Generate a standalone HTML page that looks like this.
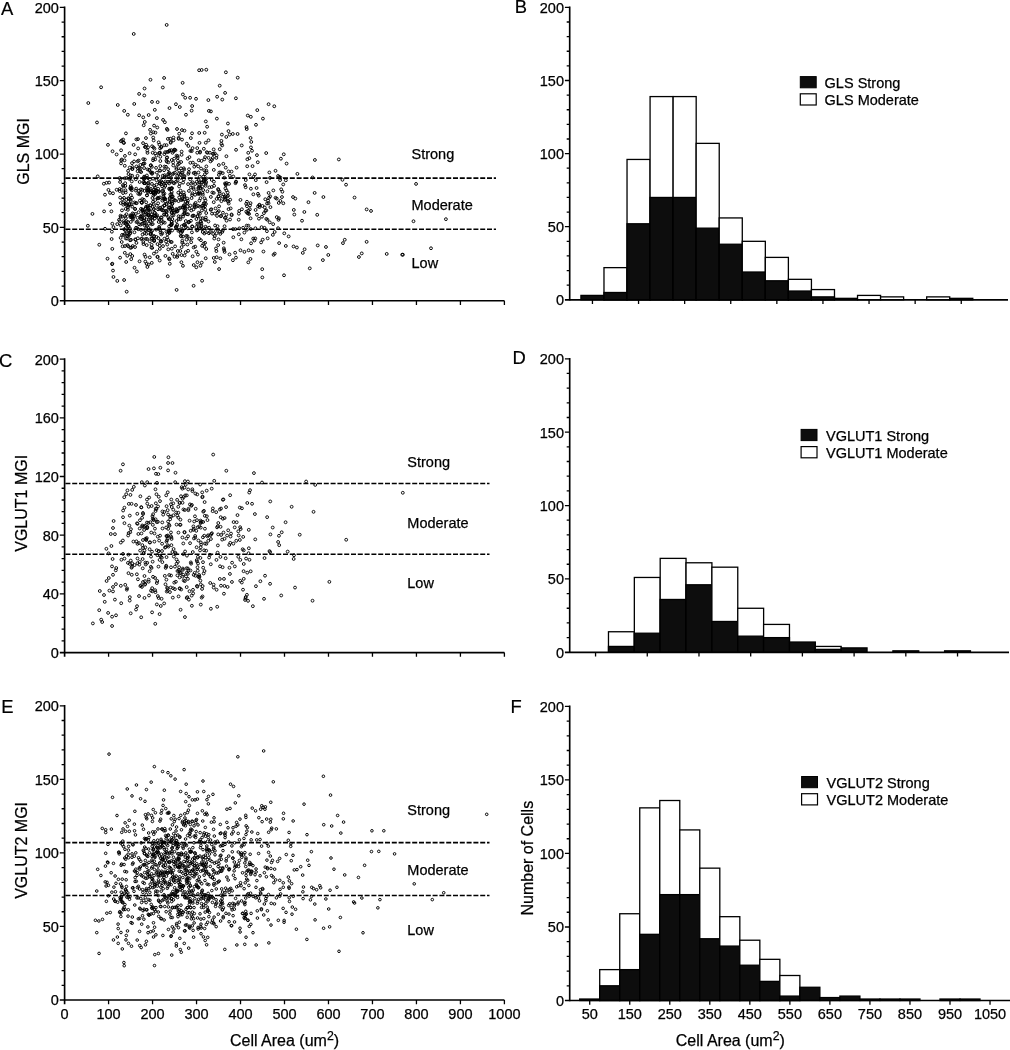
<!DOCTYPE html>
<html lang="en"><head><meta charset="utf-8"><title>Figure</title>
<style>html,body{margin:0;padding:0;background:#fff}body{width:1010px;height:1050px;overflow:hidden}svg{display:block}</style>
</head><body>
<svg width="1010" height="1050" viewBox="0 0 1010 1050" font-family='"Liberation Sans", sans-serif'>
<style>.t{font-size:14.5px;fill:#000;stroke:#000;stroke-width:.25px}.a{font-size:16px;fill:#000;stroke:#000;stroke-width:.25px}.p{font-size:18.4px;fill:#000;stroke:#000;stroke-width:.2px}</style>
<rect width="1010" height="1050" fill="#fff"/>
<g fill="none" stroke="#000" stroke-width="0.95">
<circle cx="184.46" cy="199.17" r="1.42"/>
<circle cx="150.87" cy="188.87" r="1.42"/>
<circle cx="164.16" cy="214.23" r="1.42"/>
<circle cx="158.9" cy="191.6" r="1.42"/>
<circle cx="128.44" cy="236.28" r="1.42"/>
<circle cx="191.71" cy="151.12" r="1.42"/>
<circle cx="267.45" cy="219.79" r="1.42"/>
<circle cx="140.9" cy="218.88" r="1.42"/>
<circle cx="131.2" cy="259.15" r="1.42"/>
<circle cx="204.29" cy="233.48" r="1.42"/>
<circle cx="218.74" cy="211.03" r="1.42"/>
<circle cx="137.6" cy="171.21" r="1.42"/>
<circle cx="159.21" cy="228.88" r="1.42"/>
<circle cx="226.47" cy="214.69" r="1.42"/>
<circle cx="141.72" cy="202.04" r="1.42"/>
<circle cx="213.73" cy="192.94" r="1.42"/>
<circle cx="228.73" cy="203.54" r="1.42"/>
<circle cx="238.82" cy="234.31" r="1.42"/>
<circle cx="205.76" cy="142.73" r="1.42"/>
<circle cx="190.94" cy="220.75" r="1.42"/>
<circle cx="208.91" cy="233.27" r="1.42"/>
<circle cx="148.53" cy="228.01" r="1.42"/>
<circle cx="141.69" cy="202.74" r="1.42"/>
<circle cx="133.5" cy="214" r="1.42"/>
<circle cx="195.03" cy="172.64" r="1.42"/>
<circle cx="215.05" cy="225.49" r="1.42"/>
<circle cx="278.85" cy="218.24" r="1.42"/>
<circle cx="158.35" cy="238.14" r="1.42"/>
<circle cx="150.82" cy="192.23" r="1.42"/>
<circle cx="182.02" cy="139.62" r="1.42"/>
<circle cx="171.64" cy="242.06" r="1.42"/>
<circle cx="148.47" cy="190.41" r="1.42"/>
<circle cx="268.55" cy="203.21" r="1.42"/>
<circle cx="183.74" cy="168.26" r="1.42"/>
<circle cx="130.32" cy="254.1" r="1.42"/>
<circle cx="180.82" cy="194.66" r="1.42"/>
<circle cx="166.83" cy="157.84" r="1.42"/>
<circle cx="160.19" cy="170.74" r="1.42"/>
<circle cx="160.06" cy="207.66" r="1.42"/>
<circle cx="200.8" cy="221.85" r="1.42"/>
<circle cx="162.26" cy="182.55" r="1.42"/>
<circle cx="193.46" cy="209.36" r="1.42"/>
<circle cx="152.64" cy="206.97" r="1.42"/>
<circle cx="257.79" cy="162.24" r="1.42"/>
<circle cx="161.47" cy="219.9" r="1.42"/>
<circle cx="279.27" cy="176.91" r="1.42"/>
<circle cx="221.4" cy="140.86" r="1.42"/>
<circle cx="152.06" cy="216.74" r="1.42"/>
<circle cx="172.08" cy="188.3" r="1.42"/>
<circle cx="223.64" cy="242.67" r="1.42"/>
<circle cx="213.06" cy="154.02" r="1.42"/>
<circle cx="180.57" cy="190.64" r="1.42"/>
<circle cx="198.09" cy="193.85" r="1.42"/>
<circle cx="130.8" cy="201.03" r="1.42"/>
<circle cx="144.51" cy="233.19" r="1.42"/>
<circle cx="153.37" cy="158.68" r="1.42"/>
<circle cx="269.03" cy="197.75" r="1.42"/>
<circle cx="252.01" cy="150.77" r="1.42"/>
<circle cx="132.76" cy="218.17" r="1.42"/>
<circle cx="143.71" cy="125.28" r="1.42"/>
<circle cx="164.3" cy="197.95" r="1.42"/>
<circle cx="128.06" cy="222.13" r="1.42"/>
<circle cx="150.68" cy="172.28" r="1.42"/>
<circle cx="142.04" cy="238.41" r="1.42"/>
<circle cx="140.76" cy="216.69" r="1.42"/>
<circle cx="128.08" cy="170.83" r="1.42"/>
<circle cx="165.36" cy="199.03" r="1.42"/>
<circle cx="122.06" cy="234.91" r="1.42"/>
<circle cx="199.1" cy="184.5" r="1.42"/>
<circle cx="227.66" cy="192.48" r="1.42"/>
<circle cx="120.1" cy="181.99" r="1.42"/>
<circle cx="206.37" cy="166.41" r="1.42"/>
<circle cx="123.23" cy="202.53" r="1.42"/>
<circle cx="174.53" cy="200.2" r="1.42"/>
<circle cx="261.59" cy="227.17" r="1.42"/>
<circle cx="153.89" cy="253.62" r="1.42"/>
<circle cx="162.39" cy="200.65" r="1.42"/>
<circle cx="120.72" cy="225.31" r="1.42"/>
<circle cx="273.57" cy="254.84" r="1.42"/>
<circle cx="186.57" cy="239.62" r="1.42"/>
<circle cx="154.24" cy="239.92" r="1.42"/>
<circle cx="159.7" cy="245.68" r="1.42"/>
<circle cx="225.81" cy="185.18" r="1.42"/>
<circle cx="175.45" cy="150.16" r="1.42"/>
<circle cx="161.63" cy="217.62" r="1.42"/>
<circle cx="130.24" cy="215.37" r="1.42"/>
<circle cx="164.37" cy="238.7" r="1.42"/>
<circle cx="225.41" cy="188.39" r="1.42"/>
<circle cx="129.29" cy="178.95" r="1.42"/>
<circle cx="156.42" cy="180.21" r="1.42"/>
<circle cx="203.86" cy="148.78" r="1.42"/>
<circle cx="229.07" cy="183.84" r="1.42"/>
<circle cx="155.06" cy="215.68" r="1.42"/>
<circle cx="177.62" cy="210.82" r="1.42"/>
<circle cx="170.15" cy="181.64" r="1.42"/>
<circle cx="147.86" cy="205.98" r="1.42"/>
<circle cx="191.68" cy="238.49" r="1.42"/>
<circle cx="153.48" cy="191.95" r="1.42"/>
<circle cx="255.26" cy="238.44" r="1.42"/>
<circle cx="208.62" cy="157.87" r="1.42"/>
<circle cx="179.13" cy="170.59" r="1.42"/>
<circle cx="150.17" cy="220.99" r="1.42"/>
<circle cx="150.81" cy="165.47" r="1.42"/>
<circle cx="197.91" cy="254.6" r="1.42"/>
<circle cx="128.23" cy="205.97" r="1.42"/>
<circle cx="166.45" cy="160.62" r="1.42"/>
<circle cx="183.73" cy="244.42" r="1.42"/>
<circle cx="139.71" cy="194.29" r="1.42"/>
<circle cx="149.51" cy="170.12" r="1.42"/>
<circle cx="194.22" cy="205.89" r="1.42"/>
<circle cx="157.27" cy="127.51" r="1.42"/>
<circle cx="201.45" cy="226.59" r="1.42"/>
<circle cx="203.2" cy="205.83" r="1.42"/>
<circle cx="231.67" cy="215.2" r="1.42"/>
<circle cx="238.74" cy="219.71" r="1.42"/>
<circle cx="158.73" cy="221.95" r="1.42"/>
<circle cx="153.92" cy="208.97" r="1.42"/>
<circle cx="210.52" cy="161.38" r="1.42"/>
<circle cx="164.12" cy="187.67" r="1.42"/>
<circle cx="126.45" cy="214.24" r="1.42"/>
<circle cx="143.48" cy="244.09" r="1.42"/>
<circle cx="192.58" cy="182.3" r="1.42"/>
<circle cx="245.65" cy="187.25" r="1.42"/>
<circle cx="182.72" cy="207.55" r="1.42"/>
<circle cx="173.15" cy="162.43" r="1.42"/>
<circle cx="178.66" cy="138.86" r="1.42"/>
<circle cx="188.42" cy="145.97" r="1.42"/>
<circle cx="273.34" cy="190.45" r="1.42"/>
<circle cx="249.36" cy="158.18" r="1.42"/>
<circle cx="198.19" cy="166.34" r="1.42"/>
<circle cx="143.64" cy="178.2" r="1.42"/>
<circle cx="137.66" cy="161.3" r="1.42"/>
<circle cx="146.27" cy="230.4" r="1.42"/>
<circle cx="121.09" cy="150.28" r="1.42"/>
<circle cx="166.38" cy="203.71" r="1.42"/>
<circle cx="168.1" cy="169.15" r="1.42"/>
<circle cx="152.65" cy="220.02" r="1.42"/>
<circle cx="196.18" cy="206.68" r="1.42"/>
<circle cx="171.65" cy="181.48" r="1.42"/>
<circle cx="207.12" cy="126.74" r="1.42"/>
<circle cx="235.5" cy="183.17" r="1.42"/>
<circle cx="167.52" cy="234.24" r="1.42"/>
<circle cx="190.35" cy="162.79" r="1.42"/>
<circle cx="142.34" cy="199.08" r="1.42"/>
<circle cx="145.14" cy="230.08" r="1.42"/>
<circle cx="193.65" cy="173.03" r="1.42"/>
<circle cx="227.8" cy="200.84" r="1.42"/>
<circle cx="164.38" cy="145.18" r="1.42"/>
<circle cx="217.05" cy="215.93" r="1.42"/>
<circle cx="189.03" cy="222.07" r="1.42"/>
<circle cx="181.95" cy="130.07" r="1.42"/>
<circle cx="173.34" cy="173.5" r="1.42"/>
<circle cx="171.73" cy="191.87" r="1.42"/>
<circle cx="227.13" cy="196.47" r="1.42"/>
<circle cx="144" cy="179.3" r="1.42"/>
<circle cx="160.25" cy="230.17" r="1.42"/>
<circle cx="203.57" cy="243.6" r="1.42"/>
<circle cx="224.6" cy="251.95" r="1.42"/>
<circle cx="259.48" cy="204.72" r="1.42"/>
<circle cx="177.63" cy="157.71" r="1.42"/>
<circle cx="228.06" cy="195.72" r="1.42"/>
<circle cx="169.69" cy="189.45" r="1.42"/>
<circle cx="213.81" cy="169.9" r="1.42"/>
<circle cx="204.54" cy="203.11" r="1.42"/>
<circle cx="169.57" cy="173.78" r="1.42"/>
<circle cx="253.36" cy="194.32" r="1.42"/>
<circle cx="120.36" cy="179.2" r="1.42"/>
<circle cx="148.57" cy="230.13" r="1.42"/>
<circle cx="193.67" cy="189.09" r="1.42"/>
<circle cx="178.69" cy="137.83" r="1.42"/>
<circle cx="202.14" cy="245.84" r="1.42"/>
<circle cx="201.06" cy="168.56" r="1.42"/>
<circle cx="214.85" cy="236" r="1.42"/>
<circle cx="165.97" cy="166.77" r="1.42"/>
<circle cx="165.13" cy="152.2" r="1.42"/>
<circle cx="132.66" cy="246.02" r="1.42"/>
<circle cx="250.9" cy="188.71" r="1.42"/>
<circle cx="156.19" cy="229.61" r="1.42"/>
<circle cx="212.74" cy="158" r="1.42"/>
<circle cx="216.35" cy="157.91" r="1.42"/>
<circle cx="123.01" cy="185.1" r="1.42"/>
<circle cx="140.98" cy="208.93" r="1.42"/>
<circle cx="230.05" cy="219.51" r="1.42"/>
<circle cx="246.93" cy="206.23" r="1.42"/>
<circle cx="149.2" cy="169.83" r="1.42"/>
<circle cx="217.7" cy="212.15" r="1.42"/>
<circle cx="146.2" cy="202.28" r="1.42"/>
<circle cx="187.94" cy="200.65" r="1.42"/>
<circle cx="137.99" cy="139.1" r="1.42"/>
<circle cx="183.08" cy="216.6" r="1.42"/>
<circle cx="250.45" cy="258.95" r="1.42"/>
<circle cx="223.84" cy="248.34" r="1.42"/>
<circle cx="142.42" cy="210.75" r="1.42"/>
<circle cx="168.28" cy="249.36" r="1.42"/>
<circle cx="199.95" cy="213.69" r="1.42"/>
<circle cx="202.23" cy="182.59" r="1.42"/>
<circle cx="205.82" cy="232.22" r="1.42"/>
<circle cx="125.9" cy="223.98" r="1.42"/>
<circle cx="169.11" cy="207.36" r="1.42"/>
<circle cx="226.49" cy="190.35" r="1.42"/>
<circle cx="123.99" cy="222.86" r="1.42"/>
<circle cx="149.65" cy="210.08" r="1.42"/>
<circle cx="124.96" cy="246.05" r="1.42"/>
<circle cx="129.94" cy="228.41" r="1.42"/>
<circle cx="248.43" cy="225.71" r="1.42"/>
<circle cx="190.82" cy="138.09" r="1.42"/>
<circle cx="280.09" cy="180.1" r="1.42"/>
<circle cx="190.21" cy="179.38" r="1.42"/>
<circle cx="188.07" cy="214.36" r="1.42"/>
<circle cx="225.73" cy="167.64" r="1.42"/>
<circle cx="158.15" cy="203.3" r="1.42"/>
<circle cx="192.57" cy="148.15" r="1.42"/>
<circle cx="119.82" cy="221.3" r="1.42"/>
<circle cx="255.8" cy="180.15" r="1.42"/>
<circle cx="183.83" cy="224.94" r="1.42"/>
<circle cx="150.08" cy="216.94" r="1.42"/>
<circle cx="174.13" cy="158.65" r="1.42"/>
<circle cx="124.54" cy="160.35" r="1.42"/>
<circle cx="171.68" cy="211.91" r="1.42"/>
<circle cx="185.33" cy="208.7" r="1.42"/>
<circle cx="266.19" cy="153.06" r="1.42"/>
<circle cx="159.39" cy="208.77" r="1.42"/>
<circle cx="217.53" cy="226.19" r="1.42"/>
<circle cx="162.55" cy="206.88" r="1.42"/>
<circle cx="180.59" cy="194.2" r="1.42"/>
<circle cx="146.81" cy="211.2" r="1.42"/>
<circle cx="168.27" cy="176.56" r="1.42"/>
<circle cx="158.22" cy="176.12" r="1.42"/>
<circle cx="152.08" cy="238.71" r="1.42"/>
<circle cx="163.24" cy="198.96" r="1.42"/>
<circle cx="132.87" cy="216.37" r="1.42"/>
<circle cx="243.15" cy="227.78" r="1.42"/>
<circle cx="160.56" cy="232.42" r="1.42"/>
<circle cx="169.1" cy="172.62" r="1.42"/>
<circle cx="151.96" cy="183.92" r="1.42"/>
<circle cx="144.08" cy="168.04" r="1.42"/>
<circle cx="116.62" cy="154.44" r="1.42"/>
<circle cx="267.01" cy="203.48" r="1.42"/>
<circle cx="178.55" cy="173.99" r="1.42"/>
<circle cx="178.39" cy="230.89" r="1.42"/>
<circle cx="169.61" cy="198.75" r="1.42"/>
<circle cx="207.52" cy="152.84" r="1.42"/>
<circle cx="229.86" cy="175.8" r="1.42"/>
<circle cx="127.52" cy="245.09" r="1.42"/>
<circle cx="161.15" cy="181.11" r="1.42"/>
<circle cx="268.06" cy="200.77" r="1.42"/>
<circle cx="163.18" cy="210.18" r="1.42"/>
<circle cx="205.69" cy="183.88" r="1.42"/>
<circle cx="159.75" cy="183.15" r="1.42"/>
<circle cx="124.81" cy="252.82" r="1.42"/>
<circle cx="181.24" cy="200.03" r="1.42"/>
<circle cx="144.2" cy="223.22" r="1.42"/>
<circle cx="153.83" cy="240.59" r="1.42"/>
<circle cx="151.71" cy="172.91" r="1.42"/>
<circle cx="130.16" cy="188.26" r="1.42"/>
<circle cx="241.72" cy="145.44" r="1.42"/>
<circle cx="213.67" cy="149.42" r="1.42"/>
<circle cx="256.57" cy="187.99" r="1.42"/>
<circle cx="158.06" cy="209.3" r="1.42"/>
<circle cx="184.51" cy="176.04" r="1.42"/>
<circle cx="278.49" cy="219.8" r="1.42"/>
<circle cx="203.71" cy="203.3" r="1.42"/>
<circle cx="228.56" cy="171.44" r="1.42"/>
<circle cx="180.41" cy="174.25" r="1.42"/>
<circle cx="163.12" cy="222.2" r="1.42"/>
<circle cx="152.23" cy="230.65" r="1.42"/>
<circle cx="250" cy="205.45" r="1.42"/>
<circle cx="181.77" cy="172.87" r="1.42"/>
<circle cx="220.84" cy="172.52" r="1.42"/>
<circle cx="183.06" cy="236.53" r="1.42"/>
<circle cx="198.33" cy="188.3" r="1.42"/>
<circle cx="186.94" cy="214.2" r="1.42"/>
<circle cx="144.58" cy="190.9" r="1.42"/>
<circle cx="152.21" cy="217.9" r="1.42"/>
<circle cx="155.18" cy="200.04" r="1.42"/>
<circle cx="196.21" cy="227.06" r="1.42"/>
<circle cx="134.55" cy="202.46" r="1.42"/>
<circle cx="176.16" cy="181.54" r="1.42"/>
<circle cx="251.28" cy="141.93" r="1.42"/>
<circle cx="154.27" cy="185.95" r="1.42"/>
<circle cx="197.26" cy="152.71" r="1.42"/>
<circle cx="121.84" cy="140.38" r="1.42"/>
<circle cx="261.1" cy="242.4" r="1.42"/>
<circle cx="187.38" cy="202.75" r="1.42"/>
<circle cx="206.3" cy="170.58" r="1.42"/>
<circle cx="246.88" cy="229.74" r="1.42"/>
<circle cx="192.62" cy="256.3" r="1.42"/>
<circle cx="171.08" cy="177.98" r="1.42"/>
<circle cx="249.86" cy="209.27" r="1.42"/>
<circle cx="175.3" cy="200.53" r="1.42"/>
<circle cx="131.75" cy="181.42" r="1.42"/>
<circle cx="177.61" cy="156.08" r="1.42"/>
<circle cx="204.33" cy="159.31" r="1.42"/>
<circle cx="116.63" cy="189.74" r="1.42"/>
<circle cx="222.68" cy="196.68" r="1.42"/>
<circle cx="204.63" cy="198.38" r="1.42"/>
<circle cx="131.82" cy="188.13" r="1.42"/>
<circle cx="167.14" cy="157.42" r="1.42"/>
<circle cx="142.14" cy="219.33" r="1.42"/>
<circle cx="151.19" cy="231.77" r="1.42"/>
<circle cx="171.29" cy="225.01" r="1.42"/>
<circle cx="204.95" cy="174.16" r="1.42"/>
<circle cx="148.27" cy="185.5" r="1.42"/>
<circle cx="193.84" cy="215.63" r="1.42"/>
<circle cx="184.57" cy="206.81" r="1.42"/>
<circle cx="166.89" cy="128.88" r="1.42"/>
<circle cx="143.07" cy="143.12" r="1.42"/>
<circle cx="205.5" cy="179.6" r="1.42"/>
<circle cx="130.47" cy="175.39" r="1.42"/>
<circle cx="192.93" cy="215.67" r="1.42"/>
<circle cx="153.73" cy="203.86" r="1.42"/>
<circle cx="151.86" cy="214.51" r="1.42"/>
<circle cx="226.42" cy="156.25" r="1.42"/>
<circle cx="121.58" cy="189.88" r="1.42"/>
<circle cx="202.85" cy="194.7" r="1.42"/>
<circle cx="135.73" cy="213.89" r="1.42"/>
<circle cx="123.07" cy="193.04" r="1.42"/>
<circle cx="124.78" cy="165.79" r="1.42"/>
<circle cx="150.08" cy="129.83" r="1.42"/>
<circle cx="180.39" cy="219.26" r="1.42"/>
<circle cx="176.23" cy="227.77" r="1.42"/>
<circle cx="150.44" cy="211.75" r="1.42"/>
<circle cx="187.84" cy="228.38" r="1.42"/>
<circle cx="128.2" cy="246.22" r="1.42"/>
<circle cx="175.77" cy="226.88" r="1.42"/>
<circle cx="201.42" cy="182.56" r="1.42"/>
<circle cx="203.89" cy="179.92" r="1.42"/>
<circle cx="184.51" cy="213.01" r="1.42"/>
<circle cx="152.25" cy="247.91" r="1.42"/>
<circle cx="177.8" cy="251" r="1.42"/>
<circle cx="173.46" cy="137.57" r="1.42"/>
<circle cx="135.16" cy="154.34" r="1.42"/>
<circle cx="173.52" cy="140.34" r="1.42"/>
<circle cx="209.12" cy="227.68" r="1.42"/>
<circle cx="160.34" cy="161.03" r="1.42"/>
<circle cx="152.03" cy="173.8" r="1.42"/>
<circle cx="147.33" cy="207.16" r="1.42"/>
<circle cx="192.85" cy="162.61" r="1.42"/>
<circle cx="233.02" cy="229.11" r="1.42"/>
<circle cx="176.58" cy="155.68" r="1.42"/>
<circle cx="159.68" cy="181.26" r="1.42"/>
<circle cx="138.68" cy="160.56" r="1.42"/>
<circle cx="185.48" cy="210.22" r="1.42"/>
<circle cx="211.74" cy="186.99" r="1.42"/>
<circle cx="140.86" cy="189.42" r="1.42"/>
<circle cx="200.43" cy="188.35" r="1.42"/>
<circle cx="270.03" cy="177.9" r="1.42"/>
<circle cx="246.48" cy="127.05" r="1.42"/>
<circle cx="182.89" cy="207.44" r="1.42"/>
<circle cx="187.39" cy="244.52" r="1.42"/>
<circle cx="125.19" cy="183.2" r="1.42"/>
<circle cx="173.57" cy="212.21" r="1.42"/>
<circle cx="119.69" cy="177.94" r="1.42"/>
<circle cx="134.07" cy="161.46" r="1.42"/>
<circle cx="140.09" cy="171.47" r="1.42"/>
<circle cx="176.69" cy="226.31" r="1.42"/>
<circle cx="156.34" cy="155.64" r="1.42"/>
<circle cx="168.69" cy="207.75" r="1.42"/>
<circle cx="141.67" cy="215.65" r="1.42"/>
<circle cx="192.09" cy="195.11" r="1.42"/>
<circle cx="132.48" cy="168.91" r="1.42"/>
<circle cx="213.74" cy="257.93" r="1.42"/>
<circle cx="144.07" cy="183.22" r="1.42"/>
<circle cx="185.7" cy="252.2" r="1.42"/>
<circle cx="205.92" cy="203.92" r="1.42"/>
<circle cx="166.72" cy="211.94" r="1.42"/>
<circle cx="200.14" cy="151.66" r="1.42"/>
<circle cx="280.9" cy="158.69" r="1.42"/>
<circle cx="141.02" cy="229.87" r="1.42"/>
<circle cx="120.73" cy="203.03" r="1.42"/>
<circle cx="210.86" cy="196.95" r="1.42"/>
<circle cx="152.08" cy="146.31" r="1.42"/>
<circle cx="125.23" cy="230.16" r="1.42"/>
<circle cx="164.73" cy="222.72" r="1.42"/>
<circle cx="184.23" cy="194.84" r="1.42"/>
<circle cx="199.45" cy="182.04" r="1.42"/>
<circle cx="169.95" cy="197.77" r="1.42"/>
<circle cx="146.73" cy="214.59" r="1.42"/>
<circle cx="182.1" cy="198.48" r="1.42"/>
<circle cx="198.93" cy="228.18" r="1.42"/>
<circle cx="168.36" cy="231.03" r="1.42"/>
<circle cx="251.07" cy="243.3" r="1.42"/>
<circle cx="217.24" cy="229.47" r="1.42"/>
<circle cx="224.59" cy="197.22" r="1.42"/>
<circle cx="198.73" cy="193.28" r="1.42"/>
<circle cx="276.76" cy="217.14" r="1.42"/>
<circle cx="148.11" cy="190.34" r="1.42"/>
<circle cx="153.34" cy="132.17" r="1.42"/>
<circle cx="149.79" cy="257.33" r="1.42"/>
<circle cx="159.2" cy="226.83" r="1.42"/>
<circle cx="188.45" cy="222.41" r="1.42"/>
<circle cx="146.73" cy="245.08" r="1.42"/>
<circle cx="139.7" cy="181.99" r="1.42"/>
<circle cx="201.33" cy="223.33" r="1.42"/>
<circle cx="129.05" cy="230.68" r="1.42"/>
<circle cx="209.93" cy="232.06" r="1.42"/>
<circle cx="151.52" cy="238" r="1.42"/>
<circle cx="174.31" cy="149.64" r="1.42"/>
<circle cx="181.62" cy="151.59" r="1.42"/>
<circle cx="130.33" cy="217.01" r="1.42"/>
<circle cx="162.79" cy="175.69" r="1.42"/>
<circle cx="182.15" cy="231.64" r="1.42"/>
<circle cx="161.17" cy="147.11" r="1.42"/>
<circle cx="122.59" cy="246.3" r="1.42"/>
<circle cx="171.74" cy="159.99" r="1.42"/>
<circle cx="184.49" cy="196.8" r="1.42"/>
<circle cx="189.51" cy="238.87" r="1.42"/>
<circle cx="211.77" cy="179.91" r="1.42"/>
<circle cx="177.51" cy="180.5" r="1.42"/>
<circle cx="183.75" cy="192.36" r="1.42"/>
<circle cx="265.47" cy="210.86" r="1.42"/>
<circle cx="229.69" cy="134.58" r="1.42"/>
<circle cx="218.16" cy="245.09" r="1.42"/>
<circle cx="136.01" cy="227.81" r="1.42"/>
<circle cx="152.6" cy="172.73" r="1.42"/>
<circle cx="214.82" cy="153.41" r="1.42"/>
<circle cx="222.81" cy="230.33" r="1.42"/>
<circle cx="166.85" cy="161.66" r="1.42"/>
<circle cx="162.08" cy="191.04" r="1.42"/>
<circle cx="266.27" cy="210.33" r="1.42"/>
<circle cx="143.85" cy="199.75" r="1.42"/>
<circle cx="200.3" cy="187.84" r="1.42"/>
<circle cx="177.02" cy="128.99" r="1.42"/>
<circle cx="157.57" cy="256.72" r="1.42"/>
<circle cx="211.87" cy="159.97" r="1.42"/>
<circle cx="198.79" cy="160.26" r="1.42"/>
<circle cx="130.25" cy="178.11" r="1.42"/>
<circle cx="120.64" cy="216.9" r="1.42"/>
<circle cx="169.17" cy="232.84" r="1.42"/>
<circle cx="180.52" cy="216.69" r="1.42"/>
<circle cx="184.51" cy="207.34" r="1.42"/>
<circle cx="206.79" cy="152.21" r="1.42"/>
<circle cx="171.5" cy="188.12" r="1.42"/>
<circle cx="152.68" cy="152.79" r="1.42"/>
<circle cx="137.84" cy="238.28" r="1.42"/>
<circle cx="171.85" cy="221.73" r="1.42"/>
<circle cx="248.32" cy="210.48" r="1.42"/>
<circle cx="146.18" cy="144.77" r="1.42"/>
<circle cx="168.6" cy="231.79" r="1.42"/>
<circle cx="155.71" cy="192.34" r="1.42"/>
<circle cx="221.38" cy="143.8" r="1.42"/>
<circle cx="136.42" cy="242.89" r="1.42"/>
<circle cx="198.8" cy="180.19" r="1.42"/>
<circle cx="144.53" cy="254.58" r="1.42"/>
<circle cx="165.49" cy="181.49" r="1.42"/>
<circle cx="139.08" cy="224.32" r="1.42"/>
<circle cx="165.25" cy="185.96" r="1.42"/>
<circle cx="222.33" cy="231.86" r="1.42"/>
<circle cx="126.66" cy="203.27" r="1.42"/>
<circle cx="194.71" cy="207.23" r="1.42"/>
<circle cx="168.42" cy="151.86" r="1.42"/>
<circle cx="253.22" cy="238.58" r="1.42"/>
<circle cx="183.31" cy="214.36" r="1.42"/>
<circle cx="153.65" cy="209.14" r="1.42"/>
<circle cx="126.28" cy="199.81" r="1.42"/>
<circle cx="197.35" cy="216.3" r="1.42"/>
<circle cx="181.23" cy="236.4" r="1.42"/>
<circle cx="129.08" cy="204.19" r="1.42"/>
<circle cx="160.13" cy="152.71" r="1.42"/>
<circle cx="172.06" cy="215.56" r="1.42"/>
<circle cx="205.59" cy="226.75" r="1.42"/>
<circle cx="176.46" cy="167.43" r="1.42"/>
<circle cx="241.9" cy="209.24" r="1.42"/>
<circle cx="155.43" cy="132.67" r="1.42"/>
<circle cx="262.48" cy="205.95" r="1.42"/>
<circle cx="180.94" cy="233.03" r="1.42"/>
<circle cx="233.32" cy="237.26" r="1.42"/>
<circle cx="216.6" cy="155.39" r="1.42"/>
<circle cx="127.31" cy="255.77" r="1.42"/>
<circle cx="160.12" cy="148.39" r="1.42"/>
<circle cx="155.18" cy="215.73" r="1.42"/>
<circle cx="169.09" cy="226.41" r="1.42"/>
<circle cx="222.95" cy="212.71" r="1.42"/>
<circle cx="123.36" cy="186.32" r="1.42"/>
<circle cx="197.24" cy="223.64" r="1.42"/>
<circle cx="196.33" cy="251.72" r="1.42"/>
<circle cx="139.9" cy="200.6" r="1.42"/>
<circle cx="154.55" cy="212.73" r="1.42"/>
<circle cx="153.57" cy="147.46" r="1.42"/>
<circle cx="171.56" cy="222" r="1.42"/>
<circle cx="125.71" cy="238.37" r="1.42"/>
<circle cx="182.43" cy="230.62" r="1.42"/>
<circle cx="178.58" cy="216.27" r="1.42"/>
<circle cx="145.68" cy="147.12" r="1.42"/>
<circle cx="145.72" cy="208.08" r="1.42"/>
<circle cx="152.46" cy="198.01" r="1.42"/>
<circle cx="206.27" cy="178.45" r="1.42"/>
<circle cx="193.3" cy="187.54" r="1.42"/>
<circle cx="172.82" cy="196.59" r="1.42"/>
<circle cx="127.91" cy="209.81" r="1.42"/>
<circle cx="195.21" cy="246.63" r="1.42"/>
<circle cx="153.09" cy="178.66" r="1.42"/>
<circle cx="267.66" cy="238.34" r="1.42"/>
<circle cx="121.73" cy="242.01" r="1.42"/>
<circle cx="216.57" cy="233.21" r="1.42"/>
<circle cx="180.67" cy="235.82" r="1.42"/>
<circle cx="218.85" cy="165.07" r="1.42"/>
<circle cx="188.11" cy="250.79" r="1.42"/>
<circle cx="219.9" cy="231.87" r="1.42"/>
<circle cx="119.02" cy="219.88" r="1.42"/>
<circle cx="184.17" cy="205.19" r="1.42"/>
<circle cx="203.59" cy="180.98" r="1.42"/>
<circle cx="258.72" cy="195.61" r="1.42"/>
<circle cx="264.52" cy="227.82" r="1.42"/>
<circle cx="185.82" cy="221.05" r="1.42"/>
<circle cx="190.4" cy="150.91" r="1.42"/>
<circle cx="125.66" cy="208.91" r="1.42"/>
<circle cx="148.74" cy="219.76" r="1.42"/>
<circle cx="177.93" cy="160.76" r="1.42"/>
<circle cx="219.08" cy="206.36" r="1.42"/>
<circle cx="165.4" cy="255.91" r="1.42"/>
<circle cx="252.53" cy="251.16" r="1.42"/>
<circle cx="222.73" cy="173.11" r="1.42"/>
<circle cx="150.77" cy="133.54" r="1.42"/>
<circle cx="209.36" cy="187.3" r="1.42"/>
<circle cx="132.19" cy="175.75" r="1.42"/>
<circle cx="184.82" cy="224.36" r="1.42"/>
<circle cx="120.17" cy="197.56" r="1.42"/>
<circle cx="124.02" cy="142.87" r="1.42"/>
<circle cx="162.29" cy="233.25" r="1.42"/>
<circle cx="147.55" cy="169.43" r="1.42"/>
<circle cx="177.2" cy="211.44" r="1.42"/>
<circle cx="146.7" cy="188.34" r="1.42"/>
<circle cx="203.27" cy="207.73" r="1.42"/>
<circle cx="151.65" cy="224.3" r="1.42"/>
<circle cx="174.53" cy="256.74" r="1.42"/>
<circle cx="125.58" cy="222.69" r="1.42"/>
<circle cx="159.27" cy="153.05" r="1.42"/>
<circle cx="179.81" cy="183.72" r="1.42"/>
<circle cx="124.69" cy="178.31" r="1.42"/>
<circle cx="147.31" cy="150.64" r="1.42"/>
<circle cx="128.52" cy="174.09" r="1.42"/>
<circle cx="184.45" cy="130.66" r="1.42"/>
<circle cx="130.69" cy="186.13" r="1.42"/>
<circle cx="160.91" cy="217.41" r="1.42"/>
<circle cx="145.04" cy="183.28" r="1.42"/>
<circle cx="123.5" cy="142.78" r="1.42"/>
<circle cx="216.01" cy="248.43" r="1.42"/>
<circle cx="194.62" cy="204.3" r="1.42"/>
<circle cx="178.54" cy="201.09" r="1.42"/>
<circle cx="171.49" cy="194.05" r="1.42"/>
<circle cx="148.16" cy="208.26" r="1.42"/>
<circle cx="122.25" cy="216.64" r="1.42"/>
<circle cx="148.06" cy="183.5" r="1.42"/>
<circle cx="247" cy="201.74" r="1.42"/>
<circle cx="159.69" cy="260.53" r="1.42"/>
<circle cx="153.21" cy="137.54" r="1.42"/>
<circle cx="199.21" cy="238.76" r="1.42"/>
<circle cx="151.41" cy="247.59" r="1.42"/>
<circle cx="199.21" cy="132.96" r="1.42"/>
<circle cx="159.95" cy="197.4" r="1.42"/>
<circle cx="204.54" cy="246.74" r="1.42"/>
<circle cx="199.63" cy="193.91" r="1.42"/>
<circle cx="256.93" cy="214.73" r="1.42"/>
<circle cx="159.57" cy="219.8" r="1.42"/>
<circle cx="146.92" cy="195.38" r="1.42"/>
<circle cx="127.97" cy="207.59" r="1.42"/>
<circle cx="248.24" cy="152.82" r="1.42"/>
<circle cx="170.65" cy="209.64" r="1.42"/>
<circle cx="198.35" cy="224.26" r="1.42"/>
<circle cx="218.11" cy="189.04" r="1.42"/>
<circle cx="126.58" cy="221.43" r="1.42"/>
<circle cx="148.25" cy="182.66" r="1.42"/>
<circle cx="160.3" cy="156.76" r="1.42"/>
<circle cx="171.28" cy="225.2" r="1.42"/>
<circle cx="171.39" cy="206.35" r="1.42"/>
<circle cx="199.39" cy="200.64" r="1.42"/>
<circle cx="194.25" cy="166.72" r="1.42"/>
<circle cx="123.33" cy="204.69" r="1.42"/>
<circle cx="120.86" cy="141.23" r="1.42"/>
<circle cx="142.59" cy="234.39" r="1.42"/>
<circle cx="249.43" cy="174.38" r="1.42"/>
<circle cx="144.17" cy="220.62" r="1.42"/>
<circle cx="187.16" cy="203.27" r="1.42"/>
<circle cx="253.4" cy="176.95" r="1.42"/>
<circle cx="129.59" cy="153.27" r="1.42"/>
<circle cx="216.4" cy="251.11" r="1.42"/>
<circle cx="185.11" cy="225.39" r="1.42"/>
<circle cx="215.55" cy="208.42" r="1.42"/>
<circle cx="149.99" cy="179.55" r="1.42"/>
<circle cx="124.05" cy="197.89" r="1.42"/>
<circle cx="181.6" cy="154.82" r="1.42"/>
<circle cx="155.2" cy="159.33" r="1.42"/>
<circle cx="189.43" cy="157.13" r="1.42"/>
<circle cx="202.12" cy="229.08" r="1.42"/>
<circle cx="144.48" cy="163.47" r="1.42"/>
<circle cx="121.21" cy="160.47" r="1.42"/>
<circle cx="168.29" cy="217.31" r="1.42"/>
<circle cx="159.27" cy="153.08" r="1.42"/>
<circle cx="179.03" cy="163.59" r="1.42"/>
<circle cx="228.25" cy="201.71" r="1.42"/>
<circle cx="154.08" cy="125.61" r="1.42"/>
<circle cx="219.29" cy="198.7" r="1.42"/>
<circle cx="156.36" cy="216.47" r="1.42"/>
<circle cx="190.34" cy="205.6" r="1.42"/>
<circle cx="268.62" cy="192.93" r="1.42"/>
<circle cx="143.45" cy="211.64" r="1.42"/>
<circle cx="163.3" cy="194.06" r="1.42"/>
<circle cx="196.87" cy="230.48" r="1.42"/>
<circle cx="169.12" cy="188.64" r="1.42"/>
<circle cx="226.55" cy="220.67" r="1.42"/>
<circle cx="166.44" cy="214.66" r="1.42"/>
<circle cx="247.35" cy="159.26" r="1.42"/>
<circle cx="142.47" cy="209.92" r="1.42"/>
<circle cx="119.68" cy="189.02" r="1.42"/>
<circle cx="156.81" cy="205.77" r="1.42"/>
<circle cx="187.39" cy="198.69" r="1.42"/>
<circle cx="129.83" cy="233.6" r="1.42"/>
<circle cx="204.67" cy="132.79" r="1.42"/>
<circle cx="154.01" cy="194.09" r="1.42"/>
<circle cx="240.48" cy="199.9" r="1.42"/>
<circle cx="231.55" cy="214.44" r="1.42"/>
<circle cx="148.05" cy="147.33" r="1.42"/>
<circle cx="176.16" cy="209.2" r="1.42"/>
<circle cx="155.94" cy="190.29" r="1.42"/>
<circle cx="142.55" cy="209.44" r="1.42"/>
<circle cx="266.61" cy="182.13" r="1.42"/>
<circle cx="200.1" cy="228.28" r="1.42"/>
<circle cx="173.49" cy="215.22" r="1.42"/>
<circle cx="165.9" cy="210.99" r="1.42"/>
<circle cx="172.88" cy="210.74" r="1.42"/>
<circle cx="225.35" cy="199.03" r="1.42"/>
<circle cx="164.79" cy="176.87" r="1.42"/>
<circle cx="189.02" cy="169.22" r="1.42"/>
<circle cx="176.78" cy="209.71" r="1.42"/>
<circle cx="235.14" cy="252.74" r="1.42"/>
<circle cx="170.74" cy="141.89" r="1.42"/>
<circle cx="170.28" cy="194.44" r="1.42"/>
<circle cx="184.49" cy="213.84" r="1.42"/>
<circle cx="147" cy="239" r="1.42"/>
<circle cx="202.62" cy="218.2" r="1.42"/>
<circle cx="230.2" cy="199.68" r="1.42"/>
<circle cx="186.29" cy="235.89" r="1.42"/>
<circle cx="218.55" cy="239.4" r="1.42"/>
<circle cx="119.72" cy="191.05" r="1.42"/>
<circle cx="181.6" cy="247.12" r="1.42"/>
<circle cx="167.25" cy="244.59" r="1.42"/>
<circle cx="136.2" cy="188.62" r="1.42"/>
<circle cx="148.77" cy="223.71" r="1.42"/>
<circle cx="162.48" cy="210.35" r="1.42"/>
<circle cx="159.42" cy="144.62" r="1.42"/>
<circle cx="173.63" cy="151.4" r="1.42"/>
<circle cx="187.48" cy="206.38" r="1.42"/>
<circle cx="179.55" cy="229.76" r="1.42"/>
<circle cx="164.24" cy="205.26" r="1.42"/>
<circle cx="129.74" cy="167.54" r="1.42"/>
<circle cx="247.21" cy="166.25" r="1.42"/>
<circle cx="195.17" cy="184.02" r="1.42"/>
<circle cx="126.25" cy="204.87" r="1.42"/>
<circle cx="213.13" cy="233.96" r="1.42"/>
<circle cx="174.56" cy="212.6" r="1.42"/>
<circle cx="139.28" cy="167.68" r="1.42"/>
<circle cx="128.36" cy="226.55" r="1.42"/>
<circle cx="125.48" cy="190.22" r="1.42"/>
<circle cx="156.56" cy="251.61" r="1.42"/>
<circle cx="161.42" cy="241.44" r="1.42"/>
<circle cx="172.36" cy="174.37" r="1.42"/>
<circle cx="163.18" cy="190.98" r="1.42"/>
<circle cx="131.76" cy="190.29" r="1.42"/>
<circle cx="169.74" cy="150.42" r="1.42"/>
<circle cx="225.71" cy="184.23" r="1.42"/>
<circle cx="131.56" cy="247.41" r="1.42"/>
<circle cx="244.38" cy="232.59" r="1.42"/>
<circle cx="169.9" cy="202.09" r="1.42"/>
<circle cx="198.64" cy="187.65" r="1.42"/>
<circle cx="168.26" cy="174.03" r="1.42"/>
<circle cx="223.32" cy="163.81" r="1.42"/>
<circle cx="138.28" cy="193.77" r="1.42"/>
<circle cx="166.45" cy="231.5" r="1.42"/>
<circle cx="135.21" cy="209.08" r="1.42"/>
<circle cx="228.51" cy="131.09" r="1.42"/>
<circle cx="256.95" cy="155.13" r="1.42"/>
<circle cx="213.27" cy="230.71" r="1.42"/>
<circle cx="126.83" cy="233.49" r="1.42"/>
<circle cx="204.97" cy="219.65" r="1.42"/>
<circle cx="132.07" cy="197.79" r="1.42"/>
<circle cx="137.15" cy="228.22" r="1.42"/>
<circle cx="258.94" cy="218.67" r="1.42"/>
<circle cx="273.16" cy="224.15" r="1.42"/>
<circle cx="137.52" cy="175.82" r="1.42"/>
<circle cx="164.42" cy="193.58" r="1.42"/>
<circle cx="269.76" cy="222.36" r="1.42"/>
<circle cx="263.44" cy="251.53" r="1.42"/>
<circle cx="138.9" cy="190.85" r="1.42"/>
<circle cx="259.32" cy="205.21" r="1.42"/>
<circle cx="122.39" cy="199.22" r="1.42"/>
<circle cx="222.2" cy="145.42" r="1.42"/>
<circle cx="224.56" cy="226.25" r="1.42"/>
<circle cx="140.53" cy="168.45" r="1.42"/>
<circle cx="159.6" cy="170.27" r="1.42"/>
<circle cx="250.59" cy="218.34" r="1.42"/>
<circle cx="157.54" cy="257.09" r="1.42"/>
<circle cx="162.13" cy="186.38" r="1.42"/>
<circle cx="126.66" cy="177.95" r="1.42"/>
<circle cx="266.91" cy="231.2" r="1.42"/>
<circle cx="191.33" cy="183.58" r="1.42"/>
<circle cx="144.83" cy="159.44" r="1.42"/>
<circle cx="154.03" cy="189.87" r="1.42"/>
<circle cx="272.85" cy="234.87" r="1.42"/>
<circle cx="189.56" cy="208.6" r="1.42"/>
<circle cx="127.35" cy="235.89" r="1.42"/>
<circle cx="218.69" cy="196.4" r="1.42"/>
<circle cx="224.94" cy="183.48" r="1.42"/>
<circle cx="146.9" cy="225.99" r="1.42"/>
<circle cx="142.31" cy="189.9" r="1.42"/>
<circle cx="164.32" cy="154.15" r="1.42"/>
<circle cx="131" cy="239.84" r="1.42"/>
<circle cx="213.91" cy="181.72" r="1.42"/>
<circle cx="170.69" cy="142.78" r="1.42"/>
<circle cx="173.3" cy="165.47" r="1.42"/>
<circle cx="226.58" cy="183.03" r="1.42"/>
<circle cx="155.55" cy="191.14" r="1.42"/>
<circle cx="150.58" cy="205.59" r="1.42"/>
<circle cx="123.47" cy="221.23" r="1.42"/>
<circle cx="199.42" cy="186.32" r="1.42"/>
<circle cx="171.7" cy="201.74" r="1.42"/>
<circle cx="145.36" cy="177.19" r="1.42"/>
<circle cx="174.73" cy="149.9" r="1.42"/>
<circle cx="128.49" cy="230.23" r="1.42"/>
<circle cx="150.75" cy="192.23" r="1.42"/>
<circle cx="128.5" cy="225.97" r="1.42"/>
<circle cx="130.89" cy="215.78" r="1.42"/>
<circle cx="199.82" cy="206.67" r="1.42"/>
<circle cx="188.36" cy="173.87" r="1.42"/>
<circle cx="264.75" cy="207.46" r="1.42"/>
<circle cx="188.97" cy="221.78" r="1.42"/>
<circle cx="183.82" cy="179.58" r="1.42"/>
<circle cx="130.8" cy="221.91" r="1.42"/>
<circle cx="200.04" cy="152.54" r="1.42"/>
<circle cx="136.51" cy="222.1" r="1.42"/>
<circle cx="175.11" cy="246.37" r="1.42"/>
<circle cx="224.31" cy="177.67" r="1.42"/>
<circle cx="147.81" cy="178.12" r="1.42"/>
<circle cx="168.75" cy="219.04" r="1.42"/>
<circle cx="182.26" cy="242.73" r="1.42"/>
<circle cx="146.58" cy="219.54" r="1.42"/>
<circle cx="188.09" cy="184.11" r="1.42"/>
<circle cx="193.63" cy="247.45" r="1.42"/>
<circle cx="225.71" cy="217.49" r="1.42"/>
<circle cx="184.16" cy="169.54" r="1.42"/>
<circle cx="196.82" cy="191.59" r="1.42"/>
<circle cx="161.4" cy="147.02" r="1.42"/>
<circle cx="132.6" cy="213.33" r="1.42"/>
<circle cx="125.31" cy="185.92" r="1.42"/>
<circle cx="132.01" cy="163.15" r="1.42"/>
<circle cx="183.58" cy="205.81" r="1.42"/>
<circle cx="259.57" cy="207.08" r="1.42"/>
<circle cx="153.61" cy="215.71" r="1.42"/>
<circle cx="133.61" cy="144.92" r="1.42"/>
<circle cx="205.49" cy="200.36" r="1.42"/>
<circle cx="216.61" cy="198.92" r="1.42"/>
<circle cx="129.73" cy="204.25" r="1.42"/>
<circle cx="170.27" cy="138.68" r="1.42"/>
<circle cx="182.43" cy="199.61" r="1.42"/>
<circle cx="120.64" cy="237.84" r="1.42"/>
<circle cx="171.57" cy="212.86" r="1.42"/>
<circle cx="238.86" cy="213.68" r="1.42"/>
<circle cx="206.72" cy="172.49" r="1.42"/>
<circle cx="141.89" cy="202.8" r="1.42"/>
<circle cx="161.34" cy="234.43" r="1.42"/>
<circle cx="214.69" cy="213.55" r="1.42"/>
<circle cx="151.02" cy="233.76" r="1.42"/>
<circle cx="236.03" cy="181.57" r="1.42"/>
<circle cx="150.27" cy="234.04" r="1.42"/>
<circle cx="261.98" cy="216.69" r="1.42"/>
<circle cx="163" cy="246.08" r="1.42"/>
<circle cx="136.71" cy="203.18" r="1.42"/>
<circle cx="125.12" cy="203.77" r="1.42"/>
<circle cx="211.32" cy="209.21" r="1.42"/>
<circle cx="239.33" cy="228.39" r="1.42"/>
<circle cx="145.96" cy="138.06" r="1.42"/>
<circle cx="250.72" cy="228.99" r="1.42"/>
<circle cx="135.58" cy="239.85" r="1.42"/>
<circle cx="172.2" cy="230.46" r="1.42"/>
<circle cx="145.53" cy="256.85" r="1.42"/>
<circle cx="174.24" cy="183.27" r="1.42"/>
<circle cx="166.31" cy="214.73" r="1.42"/>
<circle cx="195.65" cy="164.76" r="1.42"/>
<circle cx="177.63" cy="255.22" r="1.42"/>
<circle cx="252.54" cy="166.14" r="1.42"/>
<circle cx="155.22" cy="153.37" r="1.42"/>
<circle cx="235.95" cy="181.93" r="1.42"/>
<circle cx="276.75" cy="198.6" r="1.42"/>
<circle cx="145.59" cy="238.94" r="1.42"/>
<circle cx="168.12" cy="181.8" r="1.42"/>
<circle cx="185.53" cy="201.95" r="1.42"/>
<circle cx="146.11" cy="206.58" r="1.42"/>
<circle cx="205.28" cy="209.72" r="1.42"/>
<circle cx="148.56" cy="214.84" r="1.42"/>
<circle cx="157.63" cy="197.84" r="1.42"/>
<circle cx="196.83" cy="181.66" r="1.42"/>
<circle cx="248.1" cy="213.52" r="1.42"/>
<circle cx="221.16" cy="215.88" r="1.42"/>
<circle cx="270.15" cy="196.39" r="1.42"/>
<circle cx="180.95" cy="168.4" r="1.42"/>
<circle cx="141.15" cy="172.05" r="1.42"/>
<circle cx="200.5" cy="198.16" r="1.42"/>
<circle cx="148.08" cy="214.56" r="1.42"/>
<circle cx="120.54" cy="215.68" r="1.42"/>
<circle cx="158.71" cy="198.12" r="1.42"/>
<circle cx="163.47" cy="196.18" r="1.42"/>
<circle cx="255.41" cy="228.29" r="1.42"/>
<circle cx="131.47" cy="204.64" r="1.42"/>
<circle cx="169.06" cy="258.49" r="1.42"/>
<circle cx="230.65" cy="208.41" r="1.42"/>
<circle cx="200.93" cy="240.19" r="1.42"/>
<circle cx="167.88" cy="138.89" r="1.42"/>
<circle cx="148.27" cy="188.8" r="1.42"/>
<circle cx="178.6" cy="219.04" r="1.42"/>
<circle cx="141.33" cy="239.06" r="1.42"/>
<circle cx="199.76" cy="176.72" r="1.42"/>
<circle cx="197.69" cy="216.1" r="1.42"/>
<circle cx="283.34" cy="203.25" r="1.42"/>
<circle cx="198.62" cy="212.78" r="1.42"/>
<circle cx="143.61" cy="163.6" r="1.42"/>
<circle cx="144.72" cy="183" r="1.42"/>
<circle cx="204.27" cy="181.29" r="1.42"/>
<circle cx="170.81" cy="241.86" r="1.42"/>
<circle cx="154.97" cy="187.6" r="1.42"/>
<circle cx="158.71" cy="142.37" r="1.42"/>
<circle cx="172.49" cy="208.85" r="1.42"/>
<circle cx="181.52" cy="255.08" r="1.42"/>
<circle cx="145.03" cy="225.87" r="1.42"/>
<circle cx="219.74" cy="149.23" r="1.42"/>
<circle cx="177.18" cy="224.8" r="1.42"/>
<circle cx="265.28" cy="199.26" r="1.42"/>
<circle cx="123.73" cy="235.25" r="1.42"/>
<circle cx="200.55" cy="221.4" r="1.42"/>
<circle cx="221.89" cy="134.58" r="1.42"/>
<circle cx="143.4" cy="182.1" r="1.42"/>
<circle cx="184.54" cy="210.88" r="1.42"/>
<circle cx="132.12" cy="216.53" r="1.42"/>
<circle cx="150.77" cy="234.09" r="1.42"/>
<circle cx="184.3" cy="196.1" r="1.42"/>
<circle cx="147.54" cy="187.49" r="1.42"/>
<circle cx="132.17" cy="206.63" r="1.42"/>
<circle cx="127.05" cy="225.09" r="1.42"/>
<circle cx="147.03" cy="195.22" r="1.42"/>
<circle cx="206.21" cy="213.05" r="1.42"/>
<circle cx="180.32" cy="251" r="1.42"/>
<circle cx="218.9" cy="174.89" r="1.42"/>
<circle cx="164.41" cy="166.56" r="1.42"/>
<circle cx="147.98" cy="191.88" r="1.42"/>
<circle cx="132.29" cy="169" r="1.42"/>
<circle cx="236.06" cy="149.84" r="1.42"/>
<circle cx="179.19" cy="133.74" r="1.42"/>
<circle cx="153.64" cy="140.42" r="1.42"/>
<circle cx="137.51" cy="221.78" r="1.42"/>
<circle cx="205.81" cy="217.5" r="1.42"/>
<circle cx="220.75" cy="216.23" r="1.42"/>
<circle cx="142.31" cy="216.6" r="1.42"/>
<circle cx="180.45" cy="207.81" r="1.42"/>
<circle cx="246.7" cy="225.61" r="1.42"/>
<circle cx="239.21" cy="210.9" r="1.42"/>
<circle cx="120.09" cy="257.65" r="1.42"/>
<circle cx="165.87" cy="183.31" r="1.42"/>
<circle cx="257.97" cy="193.82" r="1.42"/>
<circle cx="218.39" cy="190.02" r="1.42"/>
<circle cx="199.5" cy="142.88" r="1.42"/>
<circle cx="149.47" cy="230.36" r="1.42"/>
<circle cx="164.09" cy="170.22" r="1.42"/>
<circle cx="232.81" cy="133.96" r="1.42"/>
<circle cx="183.49" cy="176.19" r="1.42"/>
<circle cx="147.15" cy="190.63" r="1.42"/>
<circle cx="131.85" cy="216.22" r="1.42"/>
<circle cx="167.49" cy="129.94" r="1.42"/>
<circle cx="138.15" cy="148.42" r="1.42"/>
<circle cx="129.99" cy="199.53" r="1.42"/>
<circle cx="202.59" cy="192.98" r="1.42"/>
<circle cx="136.47" cy="166.45" r="1.42"/>
<circle cx="205.06" cy="242.86" r="1.42"/>
<circle cx="177.2" cy="256.93" r="1.42"/>
<circle cx="220.28" cy="233.85" r="1.42"/>
<circle cx="169.46" cy="259.36" r="1.42"/>
<circle cx="171.75" cy="197.22" r="1.42"/>
<circle cx="172.19" cy="203.97" r="1.42"/>
<circle cx="142.06" cy="223.8" r="1.42"/>
<circle cx="135.81" cy="190.53" r="1.42"/>
<circle cx="164.13" cy="183.7" r="1.42"/>
<circle cx="170.08" cy="207.96" r="1.42"/>
<circle cx="130.58" cy="230.63" r="1.42"/>
<circle cx="229.49" cy="254.41" r="1.42"/>
<circle cx="220.33" cy="258.35" r="1.42"/>
<circle cx="168.14" cy="239.94" r="1.42"/>
<circle cx="172.69" cy="253.82" r="1.42"/>
<circle cx="248.63" cy="250.31" r="1.42"/>
<circle cx="140.63" cy="224.6" r="1.42"/>
<circle cx="202.2" cy="186.45" r="1.42"/>
<circle cx="156.88" cy="172.67" r="1.42"/>
<circle cx="191.91" cy="232.33" r="1.42"/>
<circle cx="244.41" cy="251.84" r="1.42"/>
<circle cx="210.72" cy="209.86" r="1.42"/>
<circle cx="151.63" cy="244.79" r="1.42"/>
<circle cx="171.94" cy="196.37" r="1.42"/>
<circle cx="132.97" cy="219.5" r="1.42"/>
<circle cx="177.2" cy="175.88" r="1.42"/>
<circle cx="157.04" cy="190.81" r="1.42"/>
<circle cx="147.5" cy="152.85" r="1.42"/>
<circle cx="153.04" cy="160.3" r="1.42"/>
<circle cx="128.34" cy="198.19" r="1.42"/>
<circle cx="151.86" cy="166.84" r="1.42"/>
<circle cx="197.23" cy="148.1" r="1.42"/>
<circle cx="164.28" cy="205.75" r="1.42"/>
<circle cx="226.3" cy="136.93" r="1.42"/>
<circle cx="195.48" cy="174.19" r="1.42"/>
<circle cx="278.78" cy="202.93" r="1.42"/>
<circle cx="208.54" cy="140.32" r="1.42"/>
<circle cx="188.79" cy="172.29" r="1.42"/>
<circle cx="145.26" cy="222.48" r="1.42"/>
<circle cx="130.36" cy="233.07" r="1.42"/>
<circle cx="152.8" cy="192.82" r="1.42"/>
<circle cx="154.21" cy="241.04" r="1.42"/>
<circle cx="195.1" cy="194.79" r="1.42"/>
<circle cx="179.08" cy="208.32" r="1.42"/>
<circle cx="166.07" cy="241.65" r="1.42"/>
<circle cx="206.53" cy="228.36" r="1.42"/>
<circle cx="173.34" cy="199.61" r="1.42"/>
<circle cx="154.49" cy="148.71" r="1.42"/>
<circle cx="179.11" cy="186.48" r="1.42"/>
<circle cx="167.13" cy="151.98" r="1.42"/>
<circle cx="191.58" cy="198.1" r="1.42"/>
<circle cx="206.27" cy="248.94" r="1.42"/>
<circle cx="153.43" cy="195.59" r="1.42"/>
<circle cx="154.95" cy="212.97" r="1.42"/>
<circle cx="219.34" cy="172.51" r="1.42"/>
<circle cx="125.71" cy="192.47" r="1.42"/>
<circle cx="160.72" cy="241.66" r="1.42"/>
<circle cx="183.09" cy="182.61" r="1.42"/>
<circle cx="160.76" cy="240.75" r="1.42"/>
<circle cx="135.79" cy="179.27" r="1.42"/>
<circle cx="130.77" cy="195.1" r="1.42"/>
<circle cx="165.42" cy="201.61" r="1.42"/>
<circle cx="250.53" cy="203.13" r="1.42"/>
<circle cx="176.47" cy="221.05" r="1.42"/>
<circle cx="172.3" cy="219.06" r="1.42"/>
<circle cx="187.5" cy="236.21" r="1.42"/>
<circle cx="254.46" cy="240.48" r="1.42"/>
<circle cx="156.52" cy="184.64" r="1.42"/>
<circle cx="164.61" cy="175.2" r="1.42"/>
<circle cx="131.52" cy="217.43" r="1.42"/>
<circle cx="205.05" cy="157.17" r="1.42"/>
<circle cx="156.08" cy="167.87" r="1.42"/>
<circle cx="274.74" cy="253.62" r="1.42"/>
<circle cx="171.41" cy="150.17" r="1.42"/>
<circle cx="249.07" cy="213.9" r="1.42"/>
<circle cx="124.12" cy="229.4" r="1.42"/>
<circle cx="235.4" cy="229.09" r="1.42"/>
<circle cx="138.58" cy="212.23" r="1.42"/>
<circle cx="138.28" cy="229.23" r="1.42"/>
<circle cx="121.01" cy="163.38" r="1.42"/>
<circle cx="233.27" cy="176.49" r="1.42"/>
<circle cx="135.81" cy="203.08" r="1.42"/>
<circle cx="280.38" cy="200.98" r="1.42"/>
<circle cx="192.2" cy="226.3" r="1.42"/>
<circle cx="198.09" cy="205.89" r="1.42"/>
<circle cx="143.24" cy="212.62" r="1.42"/>
<circle cx="225.24" cy="196.32" r="1.42"/>
<circle cx="205.69" cy="258.31" r="1.42"/>
<circle cx="166.55" cy="145.15" r="1.42"/>
<circle cx="203.25" cy="176.71" r="1.42"/>
<circle cx="224.14" cy="250.03" r="1.42"/>
<circle cx="152.99" cy="201.83" r="1.42"/>
<circle cx="211.99" cy="213.61" r="1.42"/>
<circle cx="232.92" cy="260.24" r="1.42"/>
<circle cx="148.28" cy="209.97" r="1.42"/>
<circle cx="202.77" cy="232.05" r="1.42"/>
<circle cx="140.5" cy="216.46" r="1.42"/>
<circle cx="154.12" cy="236.01" r="1.42"/>
<circle cx="154.1" cy="236.53" r="1.42"/>
<circle cx="150.83" cy="165.22" r="1.42"/>
<circle cx="168.34" cy="162.37" r="1.42"/>
<circle cx="154.71" cy="218.56" r="1.42"/>
<circle cx="144.94" cy="146.96" r="1.42"/>
<circle cx="205.88" cy="219.71" r="1.42"/>
<circle cx="130.87" cy="189.16" r="1.42"/>
<circle cx="171.77" cy="248.72" r="1.42"/>
<circle cx="231.54" cy="171.63" r="1.42"/>
<circle cx="255.02" cy="174.42" r="1.42"/>
<circle cx="157.53" cy="244.1" r="1.42"/>
<circle cx="155.31" cy="193.98" r="1.42"/>
<circle cx="219.55" cy="191.56" r="1.42"/>
<circle cx="143.07" cy="163.93" r="1.42"/>
<circle cx="140.41" cy="193.02" r="1.42"/>
<circle cx="171.95" cy="208.1" r="1.42"/>
<circle cx="144.05" cy="176.65" r="1.42"/>
<circle cx="173.46" cy="182.83" r="1.42"/>
<circle cx="245.78" cy="180.06" r="1.42"/>
<circle cx="197.68" cy="229.82" r="1.42"/>
<circle cx="214.25" cy="238.53" r="1.42"/>
<circle cx="188.95" cy="190.93" r="1.42"/>
<circle cx="158.27" cy="192.09" r="1.42"/>
<circle cx="213.21" cy="153.64" r="1.42"/>
<circle cx="274.66" cy="231.98" r="1.42"/>
<circle cx="169.41" cy="230.67" r="1.42"/>
<circle cx="134.34" cy="216.15" r="1.42"/>
<circle cx="246.75" cy="129.07" r="1.42"/>
<circle cx="206.14" cy="182.14" r="1.42"/>
<circle cx="132.67" cy="167.2" r="1.42"/>
<circle cx="205.55" cy="185.82" r="1.42"/>
<circle cx="148.58" cy="215.6" r="1.42"/>
<circle cx="257.97" cy="206.5" r="1.42"/>
<circle cx="159.32" cy="227.94" r="1.42"/>
<circle cx="246.29" cy="211.73" r="1.42"/>
<circle cx="250.93" cy="147.38" r="1.42"/>
<circle cx="131.06" cy="187.96" r="1.42"/>
<circle cx="135.05" cy="247.04" r="1.42"/>
<circle cx="209.84" cy="152.71" r="1.42"/>
<circle cx="159.44" cy="183.49" r="1.42"/>
<circle cx="224.88" cy="217.92" r="1.42"/>
<circle cx="282.39" cy="191.73" r="1.42"/>
<circle cx="174.87" cy="172.67" r="1.42"/>
<circle cx="178.28" cy="192.68" r="1.42"/>
<circle cx="201.54" cy="160.9" r="1.42"/>
<circle cx="153.51" cy="192.59" r="1.42"/>
<circle cx="121.79" cy="159.5" r="1.42"/>
<circle cx="136.4" cy="139.42" r="1.42"/>
<circle cx="166.75" cy="177.12" r="1.42"/>
<circle cx="241.37" cy="239.31" r="1.42"/>
<circle cx="117.21" cy="224.14" r="1.42"/>
<circle cx="192.04" cy="133.32" r="1.42"/>
<circle cx="172" cy="223.99" r="1.42"/>
<circle cx="250.55" cy="137.95" r="1.42"/>
<circle cx="190.89" cy="187.54" r="1.42"/>
<circle cx="270.41" cy="207.14" r="1.42"/>
<circle cx="191.16" cy="242.21" r="1.42"/>
<circle cx="156.39" cy="236.91" r="1.42"/>
<circle cx="143.63" cy="220.19" r="1.42"/>
<circle cx="164.55" cy="198.81" r="1.42"/>
<circle cx="208.44" cy="221.51" r="1.42"/>
<circle cx="184.6" cy="255.48" r="1.42"/>
<circle cx="212.32" cy="192.5" r="1.42"/>
<circle cx="187.64" cy="158.64" r="1.42"/>
<circle cx="157.95" cy="198.36" r="1.42"/>
<circle cx="179.2" cy="197.38" r="1.42"/>
<circle cx="213.75" cy="202.18" r="1.42"/>
<circle cx="166.64" cy="204.39" r="1.42"/>
<circle cx="124.93" cy="233.94" r="1.42"/>
<circle cx="137.5" cy="217.88" r="1.42"/>
<circle cx="169.37" cy="201.69" r="1.42"/>
<circle cx="198.45" cy="172.51" r="1.42"/>
<circle cx="228.55" cy="209.14" r="1.42"/>
<circle cx="196.39" cy="219.04" r="1.42"/>
<circle cx="177.97" cy="164.53" r="1.42"/>
<circle cx="200.69" cy="218.3" r="1.42"/>
<circle cx="182.33" cy="240.79" r="1.42"/>
<circle cx="191.29" cy="210.47" r="1.42"/>
<circle cx="235.94" cy="257.62" r="1.42"/>
<circle cx="161.16" cy="184.27" r="1.42"/>
<circle cx="223.39" cy="194.26" r="1.42"/>
<circle cx="143.21" cy="159.13" r="1.42"/>
<circle cx="192.42" cy="216.12" r="1.42"/>
<circle cx="169.81" cy="219.07" r="1.42"/>
<circle cx="240.47" cy="250.31" r="1.42"/>
<circle cx="224.7" cy="199.91" r="1.42"/>
<circle cx="245" cy="185.11" r="1.42"/>
<circle cx="144.4" cy="178.34" r="1.42"/>
<circle cx="170.69" cy="188.97" r="1.42"/>
<circle cx="207.39" cy="191.24" r="1.42"/>
<circle cx="160.28" cy="166.12" r="1.42"/>
<circle cx="128.98" cy="234.67" r="1.42"/>
<circle cx="176.4" cy="168.98" r="1.42"/>
<circle cx="170.65" cy="224.94" r="1.42"/>
<circle cx="247.24" cy="212.91" r="1.42"/>
<circle cx="146.85" cy="175.5" r="1.42"/>
<circle cx="219.76" cy="193.45" r="1.42"/>
<circle cx="203.19" cy="190.04" r="1.42"/>
<circle cx="266.35" cy="218.92" r="1.42"/>
<circle cx="148.69" cy="215.12" r="1.42"/>
<circle cx="124.95" cy="155.91" r="1.42"/>
<circle cx="180.76" cy="177.83" r="1.42"/>
<circle cx="167.19" cy="237.55" r="1.42"/>
<circle cx="166.57" cy="210.79" r="1.42"/>
<circle cx="145.37" cy="211.78" r="1.42"/>
<circle cx="149.76" cy="241.31" r="1.42"/>
<circle cx="143.34" cy="242.08" r="1.42"/>
<circle cx="145.22" cy="214.72" r="1.42"/>
<circle cx="172.43" cy="203.53" r="1.42"/>
<circle cx="169.27" cy="150.99" r="1.42"/>
<circle cx="127" cy="238.55" r="1.42"/>
<circle cx="201.5" cy="225.49" r="1.42"/>
<circle cx="199.28" cy="192.28" r="1.42"/>
<circle cx="185.93" cy="227.15" r="1.42"/>
<circle cx="130.1" cy="240.25" r="1.42"/>
<circle cx="181.11" cy="162.01" r="1.42"/>
<circle cx="216.67" cy="257.28" r="1.42"/>
<circle cx="221.41" cy="201.16" r="1.42"/>
<circle cx="192.18" cy="226.78" r="1.42"/>
<circle cx="157.11" cy="215.3" r="1.42"/>
<circle cx="204.99" cy="206.23" r="1.42"/>
<circle cx="218.4" cy="196.41" r="1.42"/>
<circle cx="158.46" cy="218.12" r="1.42"/>
<circle cx="150.87" cy="190.4" r="1.42"/>
<circle cx="181.65" cy="226.31" r="1.42"/>
<circle cx="125.75" cy="228.11" r="1.42"/>
<circle cx="204.21" cy="170.17" r="1.42"/>
<circle cx="146.33" cy="233.85" r="1.42"/>
<circle cx="159.82" cy="248.92" r="1.42"/>
<circle cx="237.58" cy="133.97" r="1.42"/>
<circle cx="169.16" cy="183.43" r="1.42"/>
<circle cx="246.16" cy="203.83" r="1.42"/>
<circle cx="172.53" cy="152.78" r="1.42"/>
<circle cx="125.95" cy="133.38" r="1.42"/>
<circle cx="169.49" cy="232.63" r="1.42"/>
<circle cx="150.12" cy="205.19" r="1.42"/>
<circle cx="186.76" cy="143.71" r="1.42"/>
<circle cx="236.58" cy="167.67" r="1.42"/>
<circle cx="263.91" cy="213.13" r="1.42"/>
<circle cx="140.32" cy="164.94" r="1.42"/>
<circle cx="161.54" cy="223.52" r="1.42"/>
<circle cx="125.88" cy="218.09" r="1.42"/>
<circle cx="135.23" cy="239.34" r="1.42"/>
<circle cx="158.18" cy="188.8" r="1.42"/>
<circle cx="201.83" cy="210.5" r="1.42"/>
<circle cx="214.08" cy="185.82" r="1.42"/>
<circle cx="134.92" cy="208.81" r="1.42"/>
<circle cx="164.23" cy="214.75" r="1.42"/>
<circle cx="269.36" cy="172.47" r="1.42"/>
<circle cx="161.52" cy="209.75" r="1.42"/>
<circle cx="128.68" cy="198.78" r="1.42"/>
<circle cx="280.4" cy="177.58" r="1.42"/>
<circle cx="134.45" cy="232.27" r="1.42"/>
<circle cx="123.19" cy="139.54" r="1.42"/>
<circle cx="179.75" cy="230.2" r="1.42"/>
<circle cx="192.34" cy="193.28" r="1.42"/>
<circle cx="144.3" cy="218.03" r="1.42"/>
<circle cx="125.18" cy="215.94" r="1.42"/>
<circle cx="130.45" cy="247.89" r="1.42"/>
<circle cx="171.22" cy="188.54" r="1.42"/>
<circle cx="182.5" cy="172.64" r="1.42"/>
<circle cx="121.97" cy="210.39" r="1.42"/>
<circle cx="152.7" cy="224.03" r="1.42"/>
<circle cx="176.59" cy="211.37" r="1.42"/>
<circle cx="137.84" cy="168.24" r="1.42"/>
<circle cx="195.57" cy="202.9" r="1.42"/>
<circle cx="255.62" cy="209.96" r="1.42"/>
<circle cx="132.22" cy="255.95" r="1.42"/>
<circle cx="153.81" cy="192.58" r="1.42"/>
<circle cx="262.72" cy="239.67" r="1.42"/>
<circle cx="201.99" cy="205.96" r="1.42"/>
<circle cx="182.37" cy="230.36" r="1.42"/>
<circle cx="283.76" cy="154.31" r="1.42"/>
<circle cx="286.59" cy="163.58" r="1.42"/>
<circle cx="275.52" cy="170.79" r="1.42"/>
<circle cx="278.1" cy="175.93" r="1.42"/>
<circle cx="297.4" cy="173.87" r="1.42"/>
<circle cx="314.9" cy="159.97" r="1.42"/>
<circle cx="338.84" cy="159.46" r="1.42"/>
<circle cx="312.59" cy="177.48" r="1.42"/>
<circle cx="342.45" cy="179.79" r="1.42"/>
<circle cx="346.05" cy="184.68" r="1.42"/>
<circle cx="285.82" cy="180.31" r="1.42"/>
<circle cx="283.24" cy="184.43" r="1.42"/>
<circle cx="281.18" cy="189.32" r="1.42"/>
<circle cx="281.96" cy="197.04" r="1.42"/>
<circle cx="275.52" cy="197.81" r="1.42"/>
<circle cx="293.02" cy="197.04" r="1.42"/>
<circle cx="295.34" cy="198.58" r="1.42"/>
<circle cx="314.65" cy="192.92" r="1.42"/>
<circle cx="323.4" cy="197.04" r="1.42"/>
<circle cx="354.54" cy="197.55" r="1.42"/>
<circle cx="308.47" cy="202.19" r="1.42"/>
<circle cx="293.8" cy="209.91" r="1.42"/>
<circle cx="294.31" cy="214.54" r="1.42"/>
<circle cx="304.35" cy="211.97" r="1.42"/>
<circle cx="317.22" cy="214.8" r="1.42"/>
<circle cx="302.03" cy="220.72" r="1.42"/>
<circle cx="366.64" cy="209.4" r="1.42"/>
<circle cx="371.02" cy="210.94" r="1.42"/>
<circle cx="416.06" cy="183.91" r="1.42"/>
<circle cx="413.49" cy="221.24" r="1.42"/>
<circle cx="445.92" cy="219.18" r="1.42"/>
<circle cx="278.1" cy="228.19" r="1.42"/>
<circle cx="284.27" cy="233.33" r="1.42"/>
<circle cx="288.65" cy="236.42" r="1.42"/>
<circle cx="279.12" cy="243.11" r="1.42"/>
<circle cx="285.82" cy="245.95" r="1.42"/>
<circle cx="293.54" cy="246.46" r="1.42"/>
<circle cx="296.89" cy="247.49" r="1.42"/>
<circle cx="304.61" cy="249.29" r="1.42"/>
<circle cx="302.81" cy="252.9" r="1.42"/>
<circle cx="317.73" cy="245.43" r="1.42"/>
<circle cx="325.97" cy="246.98" r="1.42"/>
<circle cx="328.29" cy="254.95" r="1.42"/>
<circle cx="322.88" cy="260.1" r="1.42"/>
<circle cx="309.76" cy="268.34" r="1.42"/>
<circle cx="284.02" cy="275.29" r="1.42"/>
<circle cx="344.76" cy="239.77" r="1.42"/>
<circle cx="342.96" cy="243.11" r="1.42"/>
<circle cx="366.64" cy="241.83" r="1.42"/>
<circle cx="361.75" cy="253.41" r="1.42"/>
<circle cx="358.92" cy="257.01" r="1.42"/>
<circle cx="386.72" cy="253.93" r="1.42"/>
<circle cx="402.16" cy="254.7" r="1.42"/>
<circle cx="402.93" cy="254.7" r="1.42"/>
<circle cx="430.99" cy="248.26" r="1.42"/>
<circle cx="166.67" cy="24.93" r="1.42"/>
<circle cx="133.73" cy="33.94" r="1.42"/>
<circle cx="199.11" cy="70.23" r="1.42"/>
<circle cx="201.68" cy="69.97" r="1.42"/>
<circle cx="206.31" cy="69.72" r="1.42"/>
<circle cx="225.88" cy="72.29" r="1.42"/>
<circle cx="237.72" cy="77.7" r="1.42"/>
<circle cx="164.1" cy="77.95" r="1.42"/>
<circle cx="150.46" cy="79.76" r="1.42"/>
<circle cx="182.63" cy="82.84" r="1.42"/>
<circle cx="219.7" cy="85.68" r="1.42"/>
<circle cx="144.54" cy="88.51" r="1.42"/>
<circle cx="162.81" cy="87.48" r="1.42"/>
<circle cx="139.13" cy="93.91" r="1.42"/>
<circle cx="144.28" cy="95.46" r="1.42"/>
<circle cx="182.89" cy="94.43" r="1.42"/>
<circle cx="225.1" cy="92.88" r="1.42"/>
<circle cx="185.21" cy="97.77" r="1.42"/>
<circle cx="190.1" cy="97.77" r="1.42"/>
<circle cx="196.02" cy="98.8" r="1.42"/>
<circle cx="217.12" cy="96.74" r="1.42"/>
<circle cx="222.27" cy="99.58" r="1.42"/>
<circle cx="208.37" cy="100.09" r="1.42"/>
<circle cx="235.91" cy="98.29" r="1.42"/>
<circle cx="152" cy="101.89" r="1.42"/>
<circle cx="157.66" cy="102.15" r="1.42"/>
<circle cx="117.77" cy="104.98" r="1.42"/>
<circle cx="134.24" cy="103.95" r="1.42"/>
<circle cx="175.94" cy="104.21" r="1.42"/>
<circle cx="179.8" cy="107.04" r="1.42"/>
<circle cx="192.16" cy="106.01" r="1.42"/>
<circle cx="169.5" cy="108.07" r="1.42"/>
<circle cx="268.6" cy="104.21" r="1.42"/>
<circle cx="274.27" cy="106.27" r="1.42"/>
<circle cx="154.83" cy="109.87" r="1.42"/>
<circle cx="124.2" cy="110.9" r="1.42"/>
<circle cx="191.64" cy="110.64" r="1.42"/>
<circle cx="208.89" cy="110.9" r="1.42"/>
<circle cx="210.95" cy="111.42" r="1.42"/>
<circle cx="257.28" cy="110.13" r="1.42"/>
<circle cx="127.81" cy="114.76" r="1.42"/>
<circle cx="139.13" cy="115.28" r="1.42"/>
<circle cx="148.66" cy="115.02" r="1.42"/>
<circle cx="143.25" cy="117.34" r="1.42"/>
<circle cx="185.98" cy="114.76" r="1.42"/>
<circle cx="247.75" cy="115.53" r="1.42"/>
<circle cx="250.84" cy="116.82" r="1.42"/>
<circle cx="156.89" cy="118.11" r="1.42"/>
<circle cx="163.07" cy="119.91" r="1.42"/>
<circle cx="216.87" cy="118.62" r="1.42"/>
<circle cx="262.94" cy="118.62" r="1.42"/>
<circle cx="164.87" cy="122.23" r="1.42"/>
<circle cx="205.8" cy="121.45" r="1.42"/>
<circle cx="144.79" cy="121.97" r="1.42"/>
<circle cx="227.93" cy="123.51" r="1.42"/>
<circle cx="255.99" cy="124.8" r="1.42"/>
<circle cx="117.28" cy="280.89" r="1.42"/>
<circle cx="124.11" cy="279.99" r="1.42"/>
<circle cx="126.68" cy="291.7" r="1.42"/>
<circle cx="126.16" cy="261.97" r="1.42"/>
<circle cx="134.53" cy="267.76" r="1.42"/>
<circle cx="136.85" cy="271.49" r="1.42"/>
<circle cx="139.55" cy="261.33" r="1.42"/>
<circle cx="145.34" cy="261.58" r="1.42"/>
<circle cx="147.4" cy="266.99" r="1.42"/>
<circle cx="148.56" cy="264.54" r="1.42"/>
<circle cx="146.63" cy="263.9" r="1.42"/>
<circle cx="151.78" cy="262.87" r="1.42"/>
<circle cx="169.79" cy="263.77" r="1.42"/>
<circle cx="167.73" cy="276.25" r="1.42"/>
<circle cx="176.62" cy="289.9" r="1.42"/>
<circle cx="182.92" cy="265.83" r="1.42"/>
<circle cx="181.38" cy="262.23" r="1.42"/>
<circle cx="193.6" cy="285.78" r="1.42"/>
<circle cx="202.1" cy="280.76" r="1.42"/>
<circle cx="193.73" cy="265.06" r="1.42"/>
<circle cx="196.31" cy="267.25" r="1.42"/>
<circle cx="200.42" cy="265.7" r="1.42"/>
<circle cx="201.71" cy="262.61" r="1.42"/>
<circle cx="197.46" cy="262.23" r="1.42"/>
<circle cx="214.84" cy="261.97" r="1.42"/>
<circle cx="219.09" cy="269.05" r="1.42"/>
<circle cx="248.31" cy="262.36" r="1.42"/>
<circle cx="262.21" cy="269.18" r="1.42"/>
<circle cx="262.34" cy="277.41" r="1.42"/>
<circle cx="101.11" cy="87.26" r="1.42"/>
<circle cx="88.31" cy="103.03" r="1.42"/>
<circle cx="97" cy="122.46" r="1.42"/>
<circle cx="107.97" cy="144.86" r="1.42"/>
<circle cx="112.54" cy="151.26" r="1.42"/>
<circle cx="97.69" cy="176.4" r="1.42"/>
<circle cx="103.86" cy="183.71" r="1.42"/>
<circle cx="106.6" cy="182.8" r="1.42"/>
<circle cx="109.11" cy="182.57" r="1.42"/>
<circle cx="108.43" cy="189.89" r="1.42"/>
<circle cx="105" cy="194.69" r="1.42"/>
<circle cx="110.03" cy="192.86" r="1.42"/>
<circle cx="113" cy="193.31" r="1.42"/>
<circle cx="110.03" cy="204.29" r="1.42"/>
<circle cx="104.09" cy="211.37" r="1.42"/>
<circle cx="111.4" cy="211.37" r="1.42"/>
<circle cx="92.43" cy="213.89" r="1.42"/>
<circle cx="87.86" cy="225.77" r="1.42"/>
<circle cx="105" cy="228.74" r="1.42"/>
<circle cx="112.31" cy="223.71" r="1.42"/>
<circle cx="113.46" cy="227.14" r="1.42"/>
<circle cx="111.86" cy="231.71" r="1.42"/>
<circle cx="111.63" cy="239.03" r="1.42"/>
<circle cx="99.29" cy="244.74" r="1.42"/>
<circle cx="112.31" cy="248.86" r="1.42"/>
<circle cx="107.51" cy="258.69" r="1.42"/>
<circle cx="112.31" cy="263.71" r="1.42"/>
<circle cx="112.09" cy="264.17" r="1.42"/>
<circle cx="113" cy="270.57" r="1.42"/>
<circle cx="113.46" cy="276.97" r="1.42"/>
</g>
<path d="M65.4 178.1H496" stroke="#000" stroke-width="1.55" stroke-dasharray="5 1.8" fill="none"/>
<path d="M65.4 229.28H496" stroke="#000" stroke-width="1.55" stroke-dasharray="5 1.8" fill="none"/>
<path d="M64.6 6.58V304.9" stroke="#000" stroke-width="1.65" fill="none"/>
<path d="M59.8 300.7H504.4" stroke="#000" stroke-width="1.65" fill="none"/>
<path d="M59.8 227.38H64.6M59.8 154.05H64.6M59.8 80.72H64.6M59.8 7.4H64.6M61.6 286.03H64.6M61.6 271.37H64.6M61.6 256.7H64.6M61.6 242.04H64.6M61.6 212.71H64.6M61.6 198.04H64.6M61.6 183.38H64.6M61.6 168.71H64.6M61.6 139.38H64.6M61.6 124.72H64.6M61.6 110.05H64.6M61.6 95.39H64.6M61.6 66.06H64.6M61.6 51.39H64.6M61.6 36.73H64.6M61.6 22.06H64.6M108.58 300.7V304.9M152.56 300.7V304.9M196.54 300.7V304.9M240.52 300.7V304.9M284.5 300.7V304.9M328.48 300.7V304.9M372.46 300.7V304.9M416.44 300.7V304.9M460.42 300.7V304.9M504.4 300.7V304.9" stroke="#000" stroke-width="1.3" fill="none"/>
<text x="58.9" y="306.1" text-anchor="end" class="t">0</text>
<text x="58.9" y="232.78" text-anchor="end" class="t">50</text>
<text x="58.9" y="159.45" text-anchor="end" class="t">100</text>
<text x="58.9" y="86.12" text-anchor="end" class="t">150</text>
<text x="58.9" y="12.8" text-anchor="end" class="t">200</text>
<g fill="none" stroke="#000" stroke-width="0.92">
<circle cx="179.58" cy="588.37" r="1.42"/>
<circle cx="197.91" cy="556.83" r="1.42"/>
<circle cx="177.48" cy="571" r="1.42"/>
<circle cx="167.67" cy="538.43" r="1.42"/>
<circle cx="187.9" cy="573.78" r="1.42"/>
<circle cx="204.22" cy="535.69" r="1.42"/>
<circle cx="176.6" cy="563.66" r="1.42"/>
<circle cx="243.02" cy="589.7" r="1.42"/>
<circle cx="193" cy="589.84" r="1.42"/>
<circle cx="183.3" cy="543.46" r="1.42"/>
<circle cx="264.53" cy="558.05" r="1.42"/>
<circle cx="145.34" cy="547.34" r="1.42"/>
<circle cx="115.9" cy="584.14" r="1.42"/>
<circle cx="196.63" cy="547.29" r="1.42"/>
<circle cx="177.13" cy="499.86" r="1.42"/>
<circle cx="197.75" cy="570.75" r="1.42"/>
<circle cx="120.84" cy="585.82" r="1.42"/>
<circle cx="142.64" cy="559.04" r="1.42"/>
<circle cx="151.25" cy="532.55" r="1.42"/>
<circle cx="250.68" cy="571.33" r="1.42"/>
<circle cx="186.95" cy="555.65" r="1.42"/>
<circle cx="248.59" cy="553.21" r="1.42"/>
<circle cx="265.03" cy="575.71" r="1.42"/>
<circle cx="173.38" cy="515.32" r="1.42"/>
<circle cx="180.98" cy="496.22" r="1.42"/>
<circle cx="219.84" cy="578.97" r="1.42"/>
<circle cx="169.92" cy="592.07" r="1.42"/>
<circle cx="190.05" cy="543.16" r="1.42"/>
<circle cx="193.46" cy="529.94" r="1.42"/>
<circle cx="176.5" cy="559.5" r="1.42"/>
<circle cx="234.83" cy="566.42" r="1.42"/>
<circle cx="267.14" cy="517.14" r="1.42"/>
<circle cx="147.27" cy="562.81" r="1.42"/>
<circle cx="254.89" cy="514.07" r="1.42"/>
<circle cx="245.73" cy="597.05" r="1.42"/>
<circle cx="143.01" cy="582" r="1.42"/>
<circle cx="114.94" cy="534.16" r="1.42"/>
<circle cx="157.28" cy="580.95" r="1.42"/>
<circle cx="152.28" cy="591.34" r="1.42"/>
<circle cx="171.36" cy="537.2" r="1.42"/>
<circle cx="221.05" cy="508.54" r="1.42"/>
<circle cx="201.67" cy="597.63" r="1.42"/>
<circle cx="255.26" cy="539.39" r="1.42"/>
<circle cx="143" cy="548.01" r="1.42"/>
<circle cx="153.14" cy="519.54" r="1.42"/>
<circle cx="155.75" cy="508.7" r="1.42"/>
<circle cx="125.23" cy="584.83" r="1.42"/>
<circle cx="217.59" cy="552.64" r="1.42"/>
<circle cx="186.84" cy="572.72" r="1.42"/>
<circle cx="189.51" cy="591.21" r="1.42"/>
<circle cx="203.96" cy="510.85" r="1.42"/>
<circle cx="169.22" cy="574.99" r="1.42"/>
<circle cx="162.35" cy="562.1" r="1.42"/>
<circle cx="193.13" cy="593.36" r="1.42"/>
<circle cx="187.87" cy="568.48" r="1.42"/>
<circle cx="137.47" cy="543.82" r="1.42"/>
<circle cx="179.57" cy="577.34" r="1.42"/>
<circle cx="240.13" cy="527.2" r="1.42"/>
<circle cx="151.54" cy="567.97" r="1.42"/>
<circle cx="196.26" cy="530.84" r="1.42"/>
<circle cx="137.48" cy="563.24" r="1.42"/>
<circle cx="149.66" cy="571.25" r="1.42"/>
<circle cx="224.44" cy="585.95" r="1.42"/>
<circle cx="190.46" cy="570.49" r="1.42"/>
<circle cx="236.7" cy="522.25" r="1.42"/>
<circle cx="216.59" cy="589.75" r="1.42"/>
<circle cx="178.44" cy="532.6" r="1.42"/>
<circle cx="149.6" cy="549.28" r="1.42"/>
<circle cx="158.74" cy="496.77" r="1.42"/>
<circle cx="156.79" cy="550.23" r="1.42"/>
<circle cx="221.12" cy="534.97" r="1.42"/>
<circle cx="204.92" cy="543.51" r="1.42"/>
<circle cx="139.29" cy="564.58" r="1.42"/>
<circle cx="270.09" cy="552.15" r="1.42"/>
<circle cx="199.38" cy="576.55" r="1.42"/>
<circle cx="234.72" cy="527.38" r="1.42"/>
<circle cx="238.31" cy="556.79" r="1.42"/>
<circle cx="200.69" cy="547.24" r="1.42"/>
<circle cx="167.88" cy="545.32" r="1.42"/>
<circle cx="204.94" cy="528.72" r="1.42"/>
<circle cx="152.01" cy="551.68" r="1.42"/>
<circle cx="243.77" cy="563.96" r="1.42"/>
<circle cx="147.28" cy="527.39" r="1.42"/>
<circle cx="211.27" cy="533.99" r="1.42"/>
<circle cx="223.95" cy="593.72" r="1.42"/>
<circle cx="166.21" cy="495.3" r="1.42"/>
<circle cx="229.47" cy="567.71" r="1.42"/>
<circle cx="191.7" cy="595.62" r="1.42"/>
<circle cx="187.37" cy="597.11" r="1.42"/>
<circle cx="186.54" cy="568.26" r="1.42"/>
<circle cx="249.22" cy="492.55" r="1.42"/>
<circle cx="243.2" cy="536.89" r="1.42"/>
<circle cx="176.12" cy="512.47" r="1.42"/>
<circle cx="230.5" cy="536.52" r="1.42"/>
<circle cx="165.66" cy="567.88" r="1.42"/>
<circle cx="156.79" cy="522.12" r="1.42"/>
<circle cx="178.36" cy="517.63" r="1.42"/>
<circle cx="122.98" cy="553.91" r="1.42"/>
<circle cx="122.9" cy="540.53" r="1.42"/>
<circle cx="166.74" cy="591.55" r="1.42"/>
<circle cx="208.2" cy="540.9" r="1.42"/>
<circle cx="197" cy="520.14" r="1.42"/>
<circle cx="206.81" cy="516.19" r="1.42"/>
<circle cx="159.14" cy="540.57" r="1.42"/>
<circle cx="218.22" cy="534.41" r="1.42"/>
<circle cx="154.49" cy="533.39" r="1.42"/>
<circle cx="247.24" cy="572.64" r="1.42"/>
<circle cx="233.36" cy="543.63" r="1.42"/>
<circle cx="124.22" cy="497.2" r="1.42"/>
<circle cx="140.39" cy="586.09" r="1.42"/>
<circle cx="195.24" cy="537.61" r="1.42"/>
<circle cx="246.05" cy="558.56" r="1.42"/>
<circle cx="202.06" cy="588.93" r="1.42"/>
<circle cx="231.94" cy="581.96" r="1.42"/>
<circle cx="162" cy="551.02" r="1.42"/>
<circle cx="158.63" cy="598.02" r="1.42"/>
<circle cx="169.03" cy="524.7" r="1.42"/>
<circle cx="182.36" cy="488.63" r="1.42"/>
<circle cx="250.02" cy="490.17" r="1.42"/>
<circle cx="136.87" cy="574.27" r="1.42"/>
<circle cx="238.28" cy="531.3" r="1.42"/>
<circle cx="152.86" cy="524.84" r="1.42"/>
<circle cx="145.76" cy="564.48" r="1.42"/>
<circle cx="155.86" cy="503.3" r="1.42"/>
<circle cx="200.14" cy="484.51" r="1.42"/>
<circle cx="132.1" cy="563.24" r="1.42"/>
<circle cx="155.45" cy="592.15" r="1.42"/>
<circle cx="133.42" cy="541.55" r="1.42"/>
<circle cx="177.38" cy="575.37" r="1.42"/>
<circle cx="155.06" cy="577.96" r="1.42"/>
<circle cx="176.58" cy="524.58" r="1.42"/>
<circle cx="278.13" cy="541.94" r="1.42"/>
<circle cx="132" cy="566.76" r="1.42"/>
<circle cx="155.12" cy="590.19" r="1.42"/>
<circle cx="209.93" cy="554.8" r="1.42"/>
<circle cx="196.74" cy="560.11" r="1.42"/>
<circle cx="147.08" cy="528.27" r="1.42"/>
<circle cx="128.83" cy="503.87" r="1.42"/>
<circle cx="144.99" cy="581.19" r="1.42"/>
<circle cx="248.81" cy="529.85" r="1.42"/>
<circle cx="134.68" cy="565.04" r="1.42"/>
<circle cx="155.56" cy="511.02" r="1.42"/>
<circle cx="199.07" cy="574.96" r="1.42"/>
<circle cx="143.57" cy="553.26" r="1.42"/>
<circle cx="194.67" cy="572.9" r="1.42"/>
<circle cx="171.29" cy="499.51" r="1.42"/>
<circle cx="166.99" cy="540.25" r="1.42"/>
<circle cx="210.21" cy="582.96" r="1.42"/>
<circle cx="182.84" cy="568.54" r="1.42"/>
<circle cx="165.48" cy="584.31" r="1.42"/>
<circle cx="207.46" cy="520.08" r="1.42"/>
<circle cx="220.02" cy="566.32" r="1.42"/>
<circle cx="193.68" cy="574.87" r="1.42"/>
<circle cx="129.71" cy="600.59" r="1.42"/>
<circle cx="166.17" cy="527.49" r="1.42"/>
<circle cx="223.5" cy="532.52" r="1.42"/>
<circle cx="182.87" cy="569.81" r="1.42"/>
<circle cx="173.82" cy="556.53" r="1.42"/>
<circle cx="182.43" cy="537.49" r="1.42"/>
<circle cx="186.02" cy="576.4" r="1.42"/>
<circle cx="144.47" cy="597.95" r="1.42"/>
<circle cx="152.81" cy="518.41" r="1.42"/>
<circle cx="232.08" cy="562.69" r="1.42"/>
<circle cx="151.61" cy="506" r="1.42"/>
<circle cx="173.08" cy="588.24" r="1.42"/>
<circle cx="138.35" cy="533.97" r="1.42"/>
<circle cx="183.35" cy="554.15" r="1.42"/>
<circle cx="162.5" cy="528.45" r="1.42"/>
<circle cx="182.58" cy="498.69" r="1.42"/>
<circle cx="171.56" cy="538.98" r="1.42"/>
<circle cx="169.48" cy="525.7" r="1.42"/>
<circle cx="173.27" cy="509.68" r="1.42"/>
<circle cx="168.43" cy="546.61" r="1.42"/>
<circle cx="243.72" cy="550.33" r="1.42"/>
<circle cx="181.69" cy="487.19" r="1.42"/>
<circle cx="144.48" cy="576.01" r="1.42"/>
<circle cx="161.92" cy="557.7" r="1.42"/>
<circle cx="175.66" cy="553.64" r="1.42"/>
<circle cx="166.9" cy="536.28" r="1.42"/>
<circle cx="270.41" cy="534.41" r="1.42"/>
<circle cx="281.71" cy="532.28" r="1.42"/>
<circle cx="184.78" cy="510.02" r="1.42"/>
<circle cx="183.41" cy="509.44" r="1.42"/>
<circle cx="150.09" cy="542.38" r="1.42"/>
<circle cx="127.95" cy="562.89" r="1.42"/>
<circle cx="238.69" cy="535.47" r="1.42"/>
<circle cx="157.78" cy="536.66" r="1.42"/>
<circle cx="167.65" cy="590.63" r="1.42"/>
<circle cx="206.19" cy="550.7" r="1.42"/>
<circle cx="131.79" cy="574.77" r="1.42"/>
<circle cx="146.76" cy="538.05" r="1.42"/>
<circle cx="141.2" cy="507.29" r="1.42"/>
<circle cx="168.06" cy="514.47" r="1.42"/>
<circle cx="223.97" cy="578.9" r="1.42"/>
<circle cx="146.25" cy="540.09" r="1.42"/>
<circle cx="157.39" cy="555.17" r="1.42"/>
<circle cx="269.49" cy="551.08" r="1.42"/>
<circle cx="223.42" cy="499.39" r="1.42"/>
<circle cx="174.25" cy="582.63" r="1.42"/>
<circle cx="202.9" cy="537.29" r="1.42"/>
<circle cx="167.52" cy="588.62" r="1.42"/>
<circle cx="127.08" cy="588.32" r="1.42"/>
<circle cx="120.81" cy="542.55" r="1.42"/>
<circle cx="181.21" cy="589.51" r="1.42"/>
<circle cx="228.19" cy="530.29" r="1.42"/>
<circle cx="179.91" cy="588.57" r="1.42"/>
<circle cx="123.04" cy="517.19" r="1.42"/>
<circle cx="241.8" cy="582.52" r="1.42"/>
<circle cx="170.63" cy="536.08" r="1.42"/>
<circle cx="229.95" cy="573.95" r="1.42"/>
<circle cx="148.45" cy="522.95" r="1.42"/>
<circle cx="227.09" cy="535.52" r="1.42"/>
<circle cx="233.62" cy="522.05" r="1.42"/>
<circle cx="158.47" cy="566.61" r="1.42"/>
<circle cx="212.87" cy="508.45" r="1.42"/>
<circle cx="245.52" cy="598.31" r="1.42"/>
<circle cx="192.41" cy="491.13" r="1.42"/>
<circle cx="242.64" cy="549.27" r="1.42"/>
<circle cx="184.47" cy="531.99" r="1.42"/>
<circle cx="220.71" cy="517.23" r="1.42"/>
<circle cx="196.94" cy="585.98" r="1.42"/>
<circle cx="169.95" cy="516.53" r="1.42"/>
<circle cx="198.37" cy="576.67" r="1.42"/>
<circle cx="129.84" cy="563.93" r="1.42"/>
<circle cx="189.57" cy="520.69" r="1.42"/>
<circle cx="184.58" cy="532.49" r="1.42"/>
<circle cx="203.16" cy="567.7" r="1.42"/>
<circle cx="260.37" cy="581.24" r="1.42"/>
<circle cx="131.54" cy="567.76" r="1.42"/>
<circle cx="239.81" cy="507.55" r="1.42"/>
<circle cx="185.65" cy="484.76" r="1.42"/>
<circle cx="179.92" cy="524.74" r="1.42"/>
<circle cx="138.9" cy="543.07" r="1.42"/>
<circle cx="162.26" cy="522.41" r="1.42"/>
<circle cx="166.58" cy="506.21" r="1.42"/>
<circle cx="193.76" cy="528.69" r="1.42"/>
<circle cx="131.56" cy="503.84" r="1.42"/>
<circle cx="145.4" cy="562.63" r="1.42"/>
<circle cx="153.02" cy="576.81" r="1.42"/>
<circle cx="217.05" cy="527.33" r="1.42"/>
<circle cx="132.2" cy="489.9" r="1.42"/>
<circle cx="148.66" cy="581.69" r="1.42"/>
<circle cx="264.02" cy="598.83" r="1.42"/>
<circle cx="116.25" cy="568.03" r="1.42"/>
<circle cx="210.56" cy="535.15" r="1.42"/>
<circle cx="165.57" cy="547.01" r="1.42"/>
<circle cx="204.5" cy="571.03" r="1.42"/>
<circle cx="178.86" cy="569.79" r="1.42"/>
<circle cx="200.4" cy="580.64" r="1.42"/>
<circle cx="189.94" cy="504.39" r="1.42"/>
<circle cx="220.56" cy="526.82" r="1.42"/>
<circle cx="160" cy="501.1" r="1.42"/>
<circle cx="152.16" cy="588.17" r="1.42"/>
<circle cx="194.2" cy="521.46" r="1.42"/>
<circle cx="246.91" cy="594.82" r="1.42"/>
<circle cx="142.19" cy="526.56" r="1.42"/>
<circle cx="272.72" cy="527.52" r="1.42"/>
<circle cx="185.08" cy="551.46" r="1.42"/>
<circle cx="187.93" cy="578.87" r="1.42"/>
<circle cx="240.34" cy="559.84" r="1.42"/>
<circle cx="204.84" cy="515.79" r="1.42"/>
<circle cx="172.81" cy="597.63" r="1.42"/>
<circle cx="133.83" cy="486.87" r="1.42"/>
<circle cx="143.89" cy="526.7" r="1.42"/>
<circle cx="130.95" cy="529.17" r="1.42"/>
<circle cx="130.43" cy="494.88" r="1.42"/>
<circle cx="149.01" cy="595.48" r="1.42"/>
<circle cx="211.96" cy="533.25" r="1.42"/>
<circle cx="236.27" cy="540.78" r="1.42"/>
<circle cx="191.29" cy="505.82" r="1.42"/>
<circle cx="192.77" cy="552.06" r="1.42"/>
<circle cx="203.23" cy="511.66" r="1.42"/>
<circle cx="200.64" cy="522.18" r="1.42"/>
<circle cx="213.59" cy="584.61" r="1.42"/>
<circle cx="153.76" cy="520.05" r="1.42"/>
<circle cx="193.4" cy="526.4" r="1.42"/>
<circle cx="183.64" cy="497.05" r="1.42"/>
<circle cx="142.24" cy="525.45" r="1.42"/>
<circle cx="149.18" cy="497.56" r="1.42"/>
<circle cx="124.42" cy="507.69" r="1.42"/>
<circle cx="240.7" cy="529.03" r="1.42"/>
<circle cx="126.18" cy="494.24" r="1.42"/>
<circle cx="199.27" cy="526.4" r="1.42"/>
<circle cx="200.57" cy="520.61" r="1.42"/>
<circle cx="158.66" cy="551.25" r="1.42"/>
<circle cx="141.95" cy="586.91" r="1.42"/>
<circle cx="186.72" cy="587.11" r="1.42"/>
<circle cx="208.07" cy="535.32" r="1.42"/>
<circle cx="197.36" cy="586.67" r="1.42"/>
<circle cx="144.86" cy="584.66" r="1.42"/>
<circle cx="154.4" cy="541.61" r="1.42"/>
<circle cx="166.54" cy="557.11" r="1.42"/>
<circle cx="159.61" cy="559.88" r="1.42"/>
<circle cx="202.54" cy="596.44" r="1.42"/>
<circle cx="141.48" cy="533.45" r="1.42"/>
<circle cx="167.12" cy="587.58" r="1.42"/>
<circle cx="142.09" cy="517.83" r="1.42"/>
<circle cx="142.74" cy="568.35" r="1.42"/>
<circle cx="199.23" cy="577.43" r="1.42"/>
<circle cx="160.07" cy="535.66" r="1.42"/>
<circle cx="197.01" cy="561.47" r="1.42"/>
<circle cx="166.47" cy="541.71" r="1.42"/>
<circle cx="230.13" cy="495.21" r="1.42"/>
<circle cx="186.34" cy="538.51" r="1.42"/>
<circle cx="222.87" cy="499.76" r="1.42"/>
<circle cx="180.5" cy="524.82" r="1.42"/>
<circle cx="220.98" cy="585.71" r="1.42"/>
<circle cx="130.26" cy="532.24" r="1.42"/>
<circle cx="157.85" cy="596.09" r="1.42"/>
<circle cx="183.7" cy="580.51" r="1.42"/>
<circle cx="166.33" cy="566.61" r="1.42"/>
<circle cx="161.59" cy="598.78" r="1.42"/>
<circle cx="171.05" cy="575.53" r="1.42"/>
<circle cx="124.45" cy="523.18" r="1.42"/>
<circle cx="222.63" cy="567.23" r="1.42"/>
<circle cx="211.71" cy="488.65" r="1.42"/>
<circle cx="171.42" cy="545.17" r="1.42"/>
<circle cx="129.3" cy="525.59" r="1.42"/>
<circle cx="147.2" cy="526.91" r="1.42"/>
<circle cx="166.41" cy="579.65" r="1.42"/>
<circle cx="142.97" cy="540" r="1.42"/>
<circle cx="159.96" cy="555.69" r="1.42"/>
<circle cx="197.72" cy="527.28" r="1.42"/>
<circle cx="147.27" cy="503.61" r="1.42"/>
<circle cx="248.04" cy="600.85" r="1.42"/>
<circle cx="186.7" cy="598" r="1.42"/>
<circle cx="188.89" cy="599.63" r="1.42"/>
<circle cx="166.47" cy="535.97" r="1.42"/>
<circle cx="139.72" cy="528.47" r="1.42"/>
<circle cx="152.46" cy="516.18" r="1.42"/>
<circle cx="198.43" cy="540.5" r="1.42"/>
<circle cx="206.38" cy="543.86" r="1.42"/>
<circle cx="128.16" cy="535.49" r="1.42"/>
<circle cx="164.97" cy="547.61" r="1.42"/>
<circle cx="249.46" cy="559.79" r="1.42"/>
<circle cx="128.48" cy="573.17" r="1.42"/>
<circle cx="202.63" cy="586.06" r="1.42"/>
<circle cx="188.55" cy="570.29" r="1.42"/>
<circle cx="225.65" cy="558.25" r="1.42"/>
<circle cx="190.7" cy="530.78" r="1.42"/>
<circle cx="197.5" cy="567.28" r="1.42"/>
<circle cx="163.18" cy="514.65" r="1.42"/>
<circle cx="200.9" cy="542.45" r="1.42"/>
<circle cx="248.85" cy="548.25" r="1.42"/>
<circle cx="160.96" cy="556.78" r="1.42"/>
<circle cx="210.91" cy="539.02" r="1.42"/>
<circle cx="210.79" cy="564.26" r="1.42"/>
<circle cx="198.02" cy="563.53" r="1.42"/>
<circle cx="148.65" cy="579.63" r="1.42"/>
<circle cx="184.83" cy="581.07" r="1.42"/>
<circle cx="180.03" cy="573.08" r="1.42"/>
<circle cx="239.83" cy="539.98" r="1.42"/>
<circle cx="179.14" cy="567.24" r="1.42"/>
<circle cx="126.81" cy="589.68" r="1.42"/>
<circle cx="207.44" cy="536.4" r="1.42"/>
<circle cx="139.79" cy="561.91" r="1.42"/>
<circle cx="217.86" cy="545.41" r="1.42"/>
<circle cx="182.52" cy="502.77" r="1.42"/>
<circle cx="151.03" cy="556.62" r="1.42"/>
<circle cx="155.6" cy="519.3" r="1.42"/>
<circle cx="230.27" cy="542.87" r="1.42"/>
<circle cx="170.72" cy="587.48" r="1.42"/>
<circle cx="185.18" cy="495.42" r="1.42"/>
<circle cx="144.85" cy="485.49" r="1.42"/>
<circle cx="279.19" cy="545.16" r="1.42"/>
<circle cx="174.9" cy="589.12" r="1.42"/>
<circle cx="175.89" cy="581.76" r="1.42"/>
<circle cx="182.59" cy="576.63" r="1.42"/>
<circle cx="121.4" cy="559.71" r="1.42"/>
<circle cx="114.92" cy="599.61" r="1.42"/>
<circle cx="190.82" cy="562.39" r="1.42"/>
<circle cx="193.9" cy="538.43" r="1.42"/>
<circle cx="200.75" cy="584.42" r="1.42"/>
<circle cx="150.34" cy="522.22" r="1.42"/>
<circle cx="146.21" cy="539.37" r="1.42"/>
<circle cx="241.95" cy="508.31" r="1.42"/>
<circle cx="180.43" cy="519.67" r="1.42"/>
<circle cx="243.76" cy="578.85" r="1.42"/>
<circle cx="188.06" cy="536.24" r="1.42"/>
<circle cx="281.22" cy="595.47" r="1.42"/>
<circle cx="188.46" cy="508.84" r="1.42"/>
<circle cx="158.68" cy="551.02" r="1.42"/>
<circle cx="217.77" cy="526.23" r="1.42"/>
<circle cx="157.9" cy="521.79" r="1.42"/>
<circle cx="174.94" cy="566.68" r="1.42"/>
<circle cx="195.36" cy="493.55" r="1.42"/>
<circle cx="186.79" cy="495.39" r="1.42"/>
<circle cx="137.49" cy="558.47" r="1.42"/>
<circle cx="179.55" cy="503.04" r="1.42"/>
<circle cx="129.82" cy="597.19" r="1.42"/>
<circle cx="229.28" cy="544.96" r="1.42"/>
<circle cx="153.12" cy="514.22" r="1.42"/>
<circle cx="177.28" cy="515.67" r="1.42"/>
<circle cx="168.18" cy="528.85" r="1.42"/>
<circle cx="201.71" cy="521.7" r="1.42"/>
<circle cx="203" cy="562.18" r="1.42"/>
<circle cx="156.47" cy="494.25" r="1.42"/>
<circle cx="166.18" cy="565.69" r="1.42"/>
<circle cx="115.76" cy="570.34" r="1.42"/>
<circle cx="237.5" cy="515.12" r="1.42"/>
<circle cx="200.4" cy="557.95" r="1.42"/>
<circle cx="145.48" cy="538.81" r="1.42"/>
<circle cx="143.58" cy="553.01" r="1.42"/>
<circle cx="136" cy="504.97" r="1.42"/>
<circle cx="175.25" cy="552.61" r="1.42"/>
<circle cx="154.96" cy="528.66" r="1.42"/>
<circle cx="150.83" cy="566.81" r="1.42"/>
<circle cx="143.06" cy="514.07" r="1.42"/>
<circle cx="204.64" cy="502.09" r="1.42"/>
<circle cx="130.73" cy="560.58" r="1.42"/>
<circle cx="224.58" cy="518.02" r="1.42"/>
<circle cx="202.19" cy="492.36" r="1.42"/>
<circle cx="218.29" cy="523.01" r="1.42"/>
<circle cx="156.84" cy="583.04" r="1.42"/>
<circle cx="145.32" cy="583.96" r="1.42"/>
<circle cx="231.02" cy="533.59" r="1.42"/>
<circle cx="252.06" cy="503.8" r="1.42"/>
<circle cx="128.65" cy="533.06" r="1.42"/>
<circle cx="270.26" cy="501.44" r="1.42"/>
<circle cx="144.12" cy="529.98" r="1.42"/>
<circle cx="212.66" cy="511.16" r="1.42"/>
<circle cx="136.99" cy="523.34" r="1.42"/>
<circle cx="124.46" cy="558.63" r="1.42"/>
<circle cx="156.44" cy="508.98" r="1.42"/>
<circle cx="201.16" cy="544.49" r="1.42"/>
<circle cx="243.58" cy="571.2" r="1.42"/>
<circle cx="203.62" cy="573.49" r="1.42"/>
<circle cx="222.17" cy="539.61" r="1.42"/>
<circle cx="213.66" cy="587.57" r="1.42"/>
<circle cx="172.38" cy="551.98" r="1.42"/>
<circle cx="127.43" cy="490.4" r="1.42"/>
<circle cx="202.6" cy="496.62" r="1.42"/>
<circle cx="140.13" cy="550.57" r="1.42"/>
<circle cx="195.21" cy="535.91" r="1.42"/>
<circle cx="177.85" cy="561.9" r="1.42"/>
<circle cx="158.05" cy="506.42" r="1.42"/>
<circle cx="152.64" cy="561.68" r="1.42"/>
<circle cx="137.93" cy="579.29" r="1.42"/>
<circle cx="167.71" cy="535.5" r="1.42"/>
<circle cx="195.49" cy="575.76" r="1.42"/>
<circle cx="200.02" cy="550.42" r="1.42"/>
<circle cx="141.37" cy="507.32" r="1.42"/>
<circle cx="162.44" cy="511.45" r="1.42"/>
<circle cx="216.18" cy="512.14" r="1.42"/>
<circle cx="150.98" cy="590.6" r="1.42"/>
<circle cx="245.09" cy="599.94" r="1.42"/>
<circle cx="140.38" cy="496.31" r="1.42"/>
<circle cx="139.03" cy="596.04" r="1.42"/>
<circle cx="167.76" cy="492.3" r="1.42"/>
<circle cx="141.09" cy="585.25" r="1.42"/>
<circle cx="149.66" cy="542.48" r="1.42"/>
<circle cx="173.59" cy="548.99" r="1.42"/>
<circle cx="219.82" cy="509.46" r="1.42"/>
<circle cx="222.87" cy="518.71" r="1.42"/>
<circle cx="184.45" cy="487.59" r="1.42"/>
<circle cx="191.9" cy="504.93" r="1.42"/>
<circle cx="192.33" cy="489.29" r="1.42"/>
<circle cx="202.3" cy="497.25" r="1.42"/>
<circle cx="162.09" cy="543.75" r="1.42"/>
<circle cx="171.19" cy="516.58" r="1.42"/>
<circle cx="137.55" cy="523.83" r="1.42"/>
<circle cx="171.01" cy="567.27" r="1.42"/>
<circle cx="178.28" cy="506.79" r="1.42"/>
<circle cx="167.72" cy="510.19" r="1.42"/>
<circle cx="226.06" cy="507.07" r="1.42"/>
<circle cx="188.35" cy="510.19" r="1.42"/>
<circle cx="197.26" cy="494.43" r="1.42"/>
<circle cx="171" cy="504.19" r="1.42"/>
<circle cx="164.43" cy="511.89" r="1.42"/>
<circle cx="278.97" cy="535.78" r="1.42"/>
<circle cx="216.48" cy="559.89" r="1.42"/>
<circle cx="168.07" cy="521.53" r="1.42"/>
<circle cx="180.84" cy="572.79" r="1.42"/>
<circle cx="170.18" cy="519.25" r="1.42"/>
<circle cx="203.18" cy="521.94" r="1.42"/>
<circle cx="209.08" cy="557.49" r="1.42"/>
<circle cx="148.66" cy="506.75" r="1.42"/>
<circle cx="128.46" cy="554.67" r="1.42"/>
<circle cx="144.46" cy="550.54" r="1.42"/>
<circle cx="227.58" cy="586.94" r="1.42"/>
<circle cx="195.68" cy="508.78" r="1.42"/>
<circle cx="287.66" cy="551.58" r="1.42"/>
<circle cx="173.21" cy="503.37" r="1.42"/>
<circle cx="129.79" cy="515.62" r="1.42"/>
<circle cx="255.95" cy="586.18" r="1.42"/>
<circle cx="178.59" cy="596.42" r="1.42"/>
<circle cx="142.31" cy="545.12" r="1.42"/>
<circle cx="247.29" cy="503" r="1.42"/>
<circle cx="144.86" cy="525.7" r="1.42"/>
<circle cx="200.75" cy="527.63" r="1.42"/>
<circle cx="171.76" cy="507.04" r="1.42"/>
<circle cx="191.13" cy="563.7" r="1.42"/>
<circle cx="183.21" cy="574.74" r="1.42"/>
<circle cx="170.97" cy="532.42" r="1.42"/>
<circle cx="137.28" cy="513.77" r="1.42"/>
<circle cx="155.48" cy="489.3" r="1.42"/>
<circle cx="179.79" cy="502.69" r="1.42"/>
<circle cx="204.09" cy="550.33" r="1.42"/>
<circle cx="179.09" cy="571.2" r="1.42"/>
<circle cx="146.94" cy="522.55" r="1.42"/>
<circle cx="146.96" cy="499.55" r="1.42"/>
<circle cx="224.53" cy="538.79" r="1.42"/>
<circle cx="178.33" cy="512.69" r="1.42"/>
<circle cx="240.24" cy="580.79" r="1.42"/>
<circle cx="142.96" cy="512.95" r="1.42"/>
<circle cx="270.07" cy="583.8" r="1.42"/>
<circle cx="139.97" cy="520.25" r="1.42"/>
<circle cx="164.83" cy="575.87" r="1.42"/>
<circle cx="206.7" cy="490.64" r="1.42"/>
<circle cx="200.66" cy="523.02" r="1.42"/>
<circle cx="194.96" cy="516.3" r="1.42"/>
<circle cx="188.19" cy="489.43" r="1.42"/>
<circle cx="136.39" cy="541.36" r="1.42"/>
<circle cx="123.11" cy="510.53" r="1.42"/>
<circle cx="220.42" cy="556.91" r="1.42"/>
<circle cx="291.65" cy="506.77" r="1.42"/>
<circle cx="285.59" cy="522.26" r="1.42"/>
<circle cx="306.13" cy="481.52" r="1.42"/>
<circle cx="315.22" cy="484.88" r="1.42"/>
<circle cx="313.54" cy="511.82" r="1.42"/>
<circle cx="299.73" cy="534.71" r="1.42"/>
<circle cx="346.2" cy="539.76" r="1.42"/>
<circle cx="294.01" cy="555.25" r="1.42"/>
<circle cx="293.67" cy="558.96" r="1.42"/>
<circle cx="295.02" cy="587.58" r="1.42"/>
<circle cx="329.36" cy="581.85" r="1.42"/>
<circle cx="312.53" cy="600.71" r="1.42"/>
<circle cx="402.81" cy="492.79" r="1.42"/>
<circle cx="154.28" cy="456.94" r="1.42"/>
<circle cx="168.42" cy="457.27" r="1.42"/>
<circle cx="213.2" cy="454.58" r="1.42"/>
<circle cx="122.96" cy="464.34" r="1.42"/>
<circle cx="148.55" cy="469.06" r="1.42"/>
<circle cx="153.94" cy="468.38" r="1.42"/>
<circle cx="160.34" cy="467.71" r="1.42"/>
<circle cx="168.08" cy="463" r="1.42"/>
<circle cx="172.46" cy="463" r="1.42"/>
<circle cx="120.61" cy="470.74" r="1.42"/>
<circle cx="168.08" cy="470.4" r="1.42"/>
<circle cx="175.49" cy="472.76" r="1.42"/>
<circle cx="155.96" cy="473.77" r="1.42"/>
<circle cx="158.32" cy="474.11" r="1.42"/>
<circle cx="226.33" cy="470.74" r="1.42"/>
<circle cx="253.94" cy="473.1" r="1.42"/>
<circle cx="141.82" cy="482.19" r="1.42"/>
<circle cx="147.21" cy="482.19" r="1.42"/>
<circle cx="156.97" cy="482.86" r="1.42"/>
<circle cx="175.15" cy="482.19" r="1.42"/>
<circle cx="184.92" cy="481.18" r="1.42"/>
<circle cx="187.95" cy="481.52" r="1.42"/>
<circle cx="214.21" cy="480.84" r="1.42"/>
<circle cx="262.02" cy="482.53" r="1.42"/>
<circle cx="116.04" cy="615.3" r="1.42"/>
<circle cx="121.19" cy="603.22" r="1.42"/>
<circle cx="130.69" cy="613.32" r="1.42"/>
<circle cx="136.04" cy="609.55" r="1.42"/>
<circle cx="137.03" cy="606.19" r="1.42"/>
<circle cx="141.19" cy="617.28" r="1.42"/>
<circle cx="152.08" cy="612.33" r="1.42"/>
<circle cx="159.6" cy="614.11" r="1.42"/>
<circle cx="155.25" cy="623.81" r="1.42"/>
<circle cx="156.83" cy="604.41" r="1.42"/>
<circle cx="160.79" cy="605.99" r="1.42"/>
<circle cx="164.16" cy="603.42" r="1.42"/>
<circle cx="180.59" cy="609.75" r="1.42"/>
<circle cx="184.95" cy="617.08" r="1.42"/>
<circle cx="191.88" cy="605.79" r="1.42"/>
<circle cx="200.79" cy="604.6" r="1.42"/>
<circle cx="210.89" cy="608.76" r="1.42"/>
<circle cx="217.23" cy="606.78" r="1.42"/>
<circle cx="252.87" cy="606.19" r="1.42"/>
<circle cx="104.75" cy="601.83" r="1.42"/>
<circle cx="99.21" cy="610.15" r="1.42"/>
<circle cx="108.12" cy="612.92" r="1.42"/>
<circle cx="112.08" cy="616.68" r="1.42"/>
<circle cx="101.19" cy="619.65" r="1.42"/>
<circle cx="102.18" cy="622.03" r="1.42"/>
<circle cx="92.87" cy="623.42" r="1.42"/>
<circle cx="112.08" cy="625.99" r="1.42"/>
<circle cx="104" cy="595" r="1.42"/>
<circle cx="99.8" cy="591" r="1.42"/>
<circle cx="109.4" cy="590.6" r="1.42"/>
<circle cx="113" cy="587" r="1.42"/>
<circle cx="113" cy="591.4" r="1.42"/>
<circle cx="106.6" cy="581" r="1.42"/>
<circle cx="108.8" cy="578" r="1.42"/>
<circle cx="113" cy="574.8" r="1.42"/>
<circle cx="112" cy="566.4" r="1.42"/>
<circle cx="112.6" cy="559" r="1.42"/>
<circle cx="106.4" cy="548.8" r="1.42"/>
<circle cx="108.6" cy="553.4" r="1.42"/>
<circle cx="111.4" cy="546" r="1.42"/>
<circle cx="110.8" cy="534" r="1.42"/>
<circle cx="113" cy="528" r="1.42"/>
<circle cx="113.6" cy="521" r="1.42"/>
</g>
<path d="M65.4 483.54H489.5" stroke="#000" stroke-width="1.55" stroke-dasharray="5 1.8" fill="none"/>
<path d="M65.4 554.28H489.5" stroke="#000" stroke-width="1.55" stroke-dasharray="5 1.8" fill="none"/>
<path d="M64.6 358.28V656.8" stroke="#000" stroke-width="1.65" fill="none"/>
<path d="M59.8 652.6H504.4" stroke="#000" stroke-width="1.65" fill="none"/>
<path d="M59.8 593.9H64.6M59.8 535.2H64.6M59.8 476.5H64.6M59.8 417.8H64.6M59.8 359.1H64.6M61.6 640.86H64.6M61.6 629.12H64.6M61.6 617.38H64.6M61.6 605.64H64.6M61.6 582.16H64.6M61.6 570.42H64.6M61.6 558.68H64.6M61.6 546.94H64.6M61.6 523.46H64.6M61.6 511.72H64.6M61.6 499.98H64.6M61.6 488.24H64.6M61.6 464.76H64.6M61.6 453.02H64.6M61.6 441.28H64.6M61.6 429.54H64.6M61.6 406.06H64.6M61.6 394.32H64.6M61.6 382.58H64.6M61.6 370.84H64.6M108.58 652.6V656.8M152.56 652.6V656.8M196.54 652.6V656.8M240.52 652.6V656.8M284.5 652.6V656.8M328.48 652.6V656.8M372.46 652.6V656.8M416.44 652.6V656.8M460.42 652.6V656.8M504.4 652.6V656.8" stroke="#000" stroke-width="1.3" fill="none"/>
<text x="58.9" y="658" text-anchor="end" class="t">0</text>
<text x="58.9" y="599.3" text-anchor="end" class="t">40</text>
<text x="58.9" y="540.6" text-anchor="end" class="t">80</text>
<text x="58.9" y="481.9" text-anchor="end" class="t">120</text>
<text x="58.9" y="423.2" text-anchor="end" class="t">160</text>
<text x="58.9" y="364.5" text-anchor="end" class="t">200</text>
<g fill="none" stroke="#000" stroke-width="0.97">
<circle cx="124.78" cy="858.05" r="1.3"/>
<circle cx="187.61" cy="879.53" r="1.3"/>
<circle cx="167.07" cy="900.96" r="1.3"/>
<circle cx="150.17" cy="884.23" r="1.3"/>
<circle cx="176.46" cy="906.83" r="1.3"/>
<circle cx="279.75" cy="880.32" r="1.3"/>
<circle cx="213.97" cy="871.16" r="1.3"/>
<circle cx="280.07" cy="889.34" r="1.3"/>
<circle cx="208.2" cy="837.43" r="1.3"/>
<circle cx="165.55" cy="882.15" r="1.3"/>
<circle cx="256.07" cy="868.97" r="1.3"/>
<circle cx="179.87" cy="836.73" r="1.3"/>
<circle cx="159.81" cy="862.84" r="1.3"/>
<circle cx="203.58" cy="907.48" r="1.3"/>
<circle cx="226.85" cy="822.38" r="1.3"/>
<circle cx="238.19" cy="833.41" r="1.3"/>
<circle cx="156.92" cy="852.33" r="1.3"/>
<circle cx="235.58" cy="898.36" r="1.3"/>
<circle cx="177.03" cy="848.62" r="1.3"/>
<circle cx="157.99" cy="869.96" r="1.3"/>
<circle cx="233.24" cy="831.76" r="1.3"/>
<circle cx="224.91" cy="892.77" r="1.3"/>
<circle cx="165.42" cy="860.21" r="1.3"/>
<circle cx="160.45" cy="872.72" r="1.3"/>
<circle cx="289.08" cy="832.44" r="1.3"/>
<circle cx="201.07" cy="898.91" r="1.3"/>
<circle cx="193.64" cy="918.76" r="1.3"/>
<circle cx="200.26" cy="864.57" r="1.3"/>
<circle cx="189.9" cy="926.24" r="1.3"/>
<circle cx="152.14" cy="846.26" r="1.3"/>
<circle cx="216.19" cy="862.28" r="1.3"/>
<circle cx="190.06" cy="898.73" r="1.3"/>
<circle cx="171.92" cy="853.75" r="1.3"/>
<circle cx="171.23" cy="818.81" r="1.3"/>
<circle cx="165.61" cy="883.81" r="1.3"/>
<circle cx="292.02" cy="914.2" r="1.3"/>
<circle cx="247.56" cy="870.54" r="1.3"/>
<circle cx="171.09" cy="878.9" r="1.3"/>
<circle cx="187.84" cy="907.52" r="1.3"/>
<circle cx="179.09" cy="818.57" r="1.3"/>
<circle cx="152.84" cy="887.59" r="1.3"/>
<circle cx="192.86" cy="903" r="1.3"/>
<circle cx="256.88" cy="880.58" r="1.3"/>
<circle cx="149.04" cy="915.16" r="1.3"/>
<circle cx="206.15" cy="871.65" r="1.3"/>
<circle cx="178.25" cy="867.42" r="1.3"/>
<circle cx="320.64" cy="887.78" r="1.3"/>
<circle cx="230.69" cy="888.39" r="1.3"/>
<circle cx="158.45" cy="842.83" r="1.3"/>
<circle cx="185.74" cy="844.24" r="1.3"/>
<circle cx="194.46" cy="867.55" r="1.3"/>
<circle cx="214.31" cy="836.07" r="1.3"/>
<circle cx="218.42" cy="881.85" r="1.3"/>
<circle cx="189.06" cy="890.87" r="1.3"/>
<circle cx="222.62" cy="892.05" r="1.3"/>
<circle cx="204.82" cy="814.27" r="1.3"/>
<circle cx="197.91" cy="893.9" r="1.3"/>
<circle cx="178.28" cy="910.9" r="1.3"/>
<circle cx="218.1" cy="866.57" r="1.3"/>
<circle cx="204.41" cy="863.06" r="1.3"/>
<circle cx="194.14" cy="922.91" r="1.3"/>
<circle cx="209.25" cy="849.94" r="1.3"/>
<circle cx="250.69" cy="874.36" r="1.3"/>
<circle cx="161.22" cy="891.16" r="1.3"/>
<circle cx="149.97" cy="876.71" r="1.3"/>
<circle cx="152.28" cy="878.61" r="1.3"/>
<circle cx="207.8" cy="911.13" r="1.3"/>
<circle cx="173.14" cy="932.11" r="1.3"/>
<circle cx="161.06" cy="906.58" r="1.3"/>
<circle cx="189.24" cy="927.26" r="1.3"/>
<circle cx="270.92" cy="868.48" r="1.3"/>
<circle cx="205.17" cy="912.12" r="1.3"/>
<circle cx="179.24" cy="909.57" r="1.3"/>
<circle cx="177.6" cy="891.35" r="1.3"/>
<circle cx="177.89" cy="905.47" r="1.3"/>
<circle cx="183.84" cy="854.76" r="1.3"/>
<circle cx="300.69" cy="866.7" r="1.3"/>
<circle cx="234.14" cy="870.84" r="1.3"/>
<circle cx="181.32" cy="853.02" r="1.3"/>
<circle cx="262.48" cy="888.56" r="1.3"/>
<circle cx="189.73" cy="871.03" r="1.3"/>
<circle cx="271.5" cy="875.51" r="1.3"/>
<circle cx="192.73" cy="864.24" r="1.3"/>
<circle cx="193.98" cy="876.77" r="1.3"/>
<circle cx="245.95" cy="859.83" r="1.3"/>
<circle cx="160.65" cy="819.18" r="1.3"/>
<circle cx="202.64" cy="865.25" r="1.3"/>
<circle cx="163.41" cy="874.85" r="1.3"/>
<circle cx="128.35" cy="909.73" r="1.3"/>
<circle cx="172.95" cy="894.08" r="1.3"/>
<circle cx="162.32" cy="842.55" r="1.3"/>
<circle cx="258.84" cy="817.71" r="1.3"/>
<circle cx="199.36" cy="841.82" r="1.3"/>
<circle cx="150.39" cy="887.28" r="1.3"/>
<circle cx="115.96" cy="883.31" r="1.3"/>
<circle cx="146.46" cy="888.57" r="1.3"/>
<circle cx="124.95" cy="849.29" r="1.3"/>
<circle cx="157.63" cy="840.19" r="1.3"/>
<circle cx="266.93" cy="860.13" r="1.3"/>
<circle cx="166.27" cy="898.12" r="1.3"/>
<circle cx="201.62" cy="893.03" r="1.3"/>
<circle cx="181.21" cy="910.64" r="1.3"/>
<circle cx="121.14" cy="865.28" r="1.3"/>
<circle cx="194.89" cy="874.81" r="1.3"/>
<circle cx="209.07" cy="899.12" r="1.3"/>
<circle cx="154.48" cy="847.01" r="1.3"/>
<circle cx="205.43" cy="867.62" r="1.3"/>
<circle cx="233.47" cy="875.22" r="1.3"/>
<circle cx="146.25" cy="817.36" r="1.3"/>
<circle cx="166.17" cy="911.72" r="1.3"/>
<circle cx="207.97" cy="910.8" r="1.3"/>
<circle cx="290.7" cy="846.36" r="1.3"/>
<circle cx="160.63" cy="858.33" r="1.3"/>
<circle cx="197.21" cy="880.54" r="1.3"/>
<circle cx="306.98" cy="834.65" r="1.3"/>
<circle cx="132.67" cy="844.23" r="1.3"/>
<circle cx="201.88" cy="862.1" r="1.3"/>
<circle cx="169.39" cy="853.29" r="1.3"/>
<circle cx="232.78" cy="903.37" r="1.3"/>
<circle cx="216.29" cy="888.92" r="1.3"/>
<circle cx="293.16" cy="820.96" r="1.3"/>
<circle cx="152.39" cy="821.46" r="1.3"/>
<circle cx="176.56" cy="845.13" r="1.3"/>
<circle cx="234.85" cy="867.17" r="1.3"/>
<circle cx="121" cy="898.27" r="1.3"/>
<circle cx="173.47" cy="838.19" r="1.3"/>
<circle cx="123.57" cy="846.57" r="1.3"/>
<circle cx="172.8" cy="876.97" r="1.3"/>
<circle cx="222.98" cy="868.73" r="1.3"/>
<circle cx="194.25" cy="836.14" r="1.3"/>
<circle cx="198.24" cy="867.89" r="1.3"/>
<circle cx="274.64" cy="869.14" r="1.3"/>
<circle cx="127.81" cy="892.94" r="1.3"/>
<circle cx="198.02" cy="927.42" r="1.3"/>
<circle cx="242.99" cy="913.4" r="1.3"/>
<circle cx="208.39" cy="898.77" r="1.3"/>
<circle cx="208.54" cy="873.87" r="1.3"/>
<circle cx="201.16" cy="896.24" r="1.3"/>
<circle cx="125.62" cy="831.29" r="1.3"/>
<circle cx="167.83" cy="873.15" r="1.3"/>
<circle cx="162.03" cy="885.64" r="1.3"/>
<circle cx="205.55" cy="895.66" r="1.3"/>
<circle cx="191.33" cy="871.5" r="1.3"/>
<circle cx="246.28" cy="872.2" r="1.3"/>
<circle cx="229.08" cy="921.73" r="1.3"/>
<circle cx="189.12" cy="912.64" r="1.3"/>
<circle cx="208.86" cy="916.64" r="1.3"/>
<circle cx="156.28" cy="873.04" r="1.3"/>
<circle cx="260.09" cy="875.76" r="1.3"/>
<circle cx="179.08" cy="859.2" r="1.3"/>
<circle cx="148.71" cy="849.03" r="1.3"/>
<circle cx="157.7" cy="848.06" r="1.3"/>
<circle cx="296.99" cy="869.6" r="1.3"/>
<circle cx="240.63" cy="854.35" r="1.3"/>
<circle cx="226.54" cy="866.15" r="1.3"/>
<circle cx="188.78" cy="887.15" r="1.3"/>
<circle cx="191.1" cy="863" r="1.3"/>
<circle cx="167.54" cy="870.75" r="1.3"/>
<circle cx="143.02" cy="910.64" r="1.3"/>
<circle cx="144.45" cy="853.65" r="1.3"/>
<circle cx="114.94" cy="901.01" r="1.3"/>
<circle cx="140.82" cy="861.28" r="1.3"/>
<circle cx="271.24" cy="903.38" r="1.3"/>
<circle cx="119.81" cy="911.68" r="1.3"/>
<circle cx="179.98" cy="881.17" r="1.3"/>
<circle cx="221.6" cy="845.28" r="1.3"/>
<circle cx="182.32" cy="888.1" r="1.3"/>
<circle cx="196.68" cy="885.47" r="1.3"/>
<circle cx="189.85" cy="900.9" r="1.3"/>
<circle cx="192.3" cy="925.85" r="1.3"/>
<circle cx="137.27" cy="872.71" r="1.3"/>
<circle cx="245.06" cy="915.2" r="1.3"/>
<circle cx="289.13" cy="888.25" r="1.3"/>
<circle cx="190.6" cy="901.59" r="1.3"/>
<circle cx="147.84" cy="856.38" r="1.3"/>
<circle cx="164.95" cy="854.75" r="1.3"/>
<circle cx="167.94" cy="886.68" r="1.3"/>
<circle cx="203.71" cy="834.62" r="1.3"/>
<circle cx="247.37" cy="827.61" r="1.3"/>
<circle cx="173.82" cy="879.92" r="1.3"/>
<circle cx="186.48" cy="845.56" r="1.3"/>
<circle cx="152.07" cy="862.13" r="1.3"/>
<circle cx="175.45" cy="896.1" r="1.3"/>
<circle cx="128.6" cy="846.41" r="1.3"/>
<circle cx="179.24" cy="862.37" r="1.3"/>
<circle cx="154.59" cy="927.21" r="1.3"/>
<circle cx="187.17" cy="860.75" r="1.3"/>
<circle cx="157.97" cy="828.94" r="1.3"/>
<circle cx="182.82" cy="877.49" r="1.3"/>
<circle cx="206.35" cy="866.6" r="1.3"/>
<circle cx="154.7" cy="882.29" r="1.3"/>
<circle cx="236.62" cy="822.4" r="1.3"/>
<circle cx="159.79" cy="863.32" r="1.3"/>
<circle cx="163.51" cy="899.5" r="1.3"/>
<circle cx="164.68" cy="856.95" r="1.3"/>
<circle cx="168.07" cy="835.13" r="1.3"/>
<circle cx="160.86" cy="887.16" r="1.3"/>
<circle cx="261.39" cy="908.8" r="1.3"/>
<circle cx="206.33" cy="895.73" r="1.3"/>
<circle cx="152.74" cy="879.77" r="1.3"/>
<circle cx="170.27" cy="829.02" r="1.3"/>
<circle cx="203.81" cy="918.58" r="1.3"/>
<circle cx="185.1" cy="891.93" r="1.3"/>
<circle cx="166.12" cy="838.77" r="1.3"/>
<circle cx="265.79" cy="898.56" r="1.3"/>
<circle cx="175.07" cy="842.65" r="1.3"/>
<circle cx="142.29" cy="825.11" r="1.3"/>
<circle cx="197.25" cy="869.46" r="1.3"/>
<circle cx="199.55" cy="841.56" r="1.3"/>
<circle cx="187.19" cy="917.24" r="1.3"/>
<circle cx="190.2" cy="851.9" r="1.3"/>
<circle cx="144.66" cy="847.11" r="1.3"/>
<circle cx="210.44" cy="876.79" r="1.3"/>
<circle cx="155.03" cy="856.2" r="1.3"/>
<circle cx="235.38" cy="865.21" r="1.3"/>
<circle cx="206.26" cy="924.44" r="1.3"/>
<circle cx="264.36" cy="872.71" r="1.3"/>
<circle cx="188.13" cy="877.51" r="1.3"/>
<circle cx="184.36" cy="824.16" r="1.3"/>
<circle cx="180.43" cy="867.54" r="1.3"/>
<circle cx="170.91" cy="917.49" r="1.3"/>
<circle cx="182.83" cy="886.25" r="1.3"/>
<circle cx="178.25" cy="882.22" r="1.3"/>
<circle cx="208.75" cy="884.66" r="1.3"/>
<circle cx="279.66" cy="858.41" r="1.3"/>
<circle cx="204.72" cy="842.45" r="1.3"/>
<circle cx="270.78" cy="819.26" r="1.3"/>
<circle cx="207.67" cy="922.26" r="1.3"/>
<circle cx="179.84" cy="884.53" r="1.3"/>
<circle cx="116.98" cy="815.5" r="1.3"/>
<circle cx="151.6" cy="873.75" r="1.3"/>
<circle cx="189.74" cy="928.15" r="1.3"/>
<circle cx="228.73" cy="856.06" r="1.3"/>
<circle cx="154.27" cy="886.92" r="1.3"/>
<circle cx="264.39" cy="903.98" r="1.3"/>
<circle cx="179.5" cy="879.2" r="1.3"/>
<circle cx="126.16" cy="879.78" r="1.3"/>
<circle cx="171.94" cy="848.25" r="1.3"/>
<circle cx="200.04" cy="913.83" r="1.3"/>
<circle cx="231.76" cy="834.05" r="1.3"/>
<circle cx="219.92" cy="871.12" r="1.3"/>
<circle cx="262.75" cy="889.24" r="1.3"/>
<circle cx="196.85" cy="873.68" r="1.3"/>
<circle cx="303.1" cy="898.6" r="1.3"/>
<circle cx="177.62" cy="847.71" r="1.3"/>
<circle cx="186.39" cy="869.66" r="1.3"/>
<circle cx="176" cy="840.34" r="1.3"/>
<circle cx="186.08" cy="820.61" r="1.3"/>
<circle cx="216.71" cy="902.95" r="1.3"/>
<circle cx="198.06" cy="857.1" r="1.3"/>
<circle cx="295.58" cy="909.3" r="1.3"/>
<circle cx="124.11" cy="864.52" r="1.3"/>
<circle cx="239.95" cy="819.12" r="1.3"/>
<circle cx="172.83" cy="894.3" r="1.3"/>
<circle cx="172.64" cy="907.32" r="1.3"/>
<circle cx="250.84" cy="924.35" r="1.3"/>
<circle cx="139.56" cy="931.43" r="1.3"/>
<circle cx="169.17" cy="898.04" r="1.3"/>
<circle cx="214.15" cy="821.76" r="1.3"/>
<circle cx="171.92" cy="842.73" r="1.3"/>
<circle cx="274.45" cy="903.91" r="1.3"/>
<circle cx="234.34" cy="904.07" r="1.3"/>
<circle cx="245.42" cy="918.13" r="1.3"/>
<circle cx="180.21" cy="864.42" r="1.3"/>
<circle cx="136.37" cy="881.31" r="1.3"/>
<circle cx="149.21" cy="914.84" r="1.3"/>
<circle cx="163.9" cy="830.8" r="1.3"/>
<circle cx="149.02" cy="888.66" r="1.3"/>
<circle cx="171.01" cy="868.73" r="1.3"/>
<circle cx="163.49" cy="866" r="1.3"/>
<circle cx="302.86" cy="891.83" r="1.3"/>
<circle cx="233.01" cy="827.75" r="1.3"/>
<circle cx="234.31" cy="905.84" r="1.3"/>
<circle cx="204.66" cy="928.52" r="1.3"/>
<circle cx="176.01" cy="830.94" r="1.3"/>
<circle cx="162.05" cy="846.17" r="1.3"/>
<circle cx="155.4" cy="812.74" r="1.3"/>
<circle cx="187.13" cy="907.67" r="1.3"/>
<circle cx="143.87" cy="919.19" r="1.3"/>
<circle cx="220.2" cy="856.04" r="1.3"/>
<circle cx="173.43" cy="870.48" r="1.3"/>
<circle cx="288.29" cy="840.27" r="1.3"/>
<circle cx="180.14" cy="889.82" r="1.3"/>
<circle cx="155.18" cy="853.23" r="1.3"/>
<circle cx="216.56" cy="873.03" r="1.3"/>
<circle cx="197.29" cy="866.07" r="1.3"/>
<circle cx="284.07" cy="922.26" r="1.3"/>
<circle cx="194.05" cy="825.82" r="1.3"/>
<circle cx="192.48" cy="862.47" r="1.3"/>
<circle cx="244.33" cy="903.03" r="1.3"/>
<circle cx="220.44" cy="846.08" r="1.3"/>
<circle cx="255.04" cy="874.74" r="1.3"/>
<circle cx="168.72" cy="813.14" r="1.3"/>
<circle cx="205" cy="894.83" r="1.3"/>
<circle cx="160.81" cy="873.07" r="1.3"/>
<circle cx="158.42" cy="852.14" r="1.3"/>
<circle cx="148.98" cy="837.47" r="1.3"/>
<circle cx="154.92" cy="857.47" r="1.3"/>
<circle cx="189.55" cy="892.28" r="1.3"/>
<circle cx="200.7" cy="871.19" r="1.3"/>
<circle cx="179.76" cy="876.83" r="1.3"/>
<circle cx="261.59" cy="846.14" r="1.3"/>
<circle cx="172.22" cy="839.75" r="1.3"/>
<circle cx="183.12" cy="885.91" r="1.3"/>
<circle cx="148.04" cy="932.69" r="1.3"/>
<circle cx="194.7" cy="858.38" r="1.3"/>
<circle cx="234.3" cy="862" r="1.3"/>
<circle cx="178.79" cy="844.19" r="1.3"/>
<circle cx="143.67" cy="900.45" r="1.3"/>
<circle cx="194.06" cy="907.56" r="1.3"/>
<circle cx="268.6" cy="852.35" r="1.3"/>
<circle cx="180.23" cy="887.03" r="1.3"/>
<circle cx="179.54" cy="884.46" r="1.3"/>
<circle cx="176.66" cy="907.82" r="1.3"/>
<circle cx="190.94" cy="829.12" r="1.3"/>
<circle cx="203.28" cy="896.92" r="1.3"/>
<circle cx="189.5" cy="901.82" r="1.3"/>
<circle cx="125.51" cy="889.56" r="1.3"/>
<circle cx="155.2" cy="831.88" r="1.3"/>
<circle cx="219.2" cy="881.07" r="1.3"/>
<circle cx="154.09" cy="875.57" r="1.3"/>
<circle cx="118.1" cy="924.12" r="1.3"/>
<circle cx="323.74" cy="824.71" r="1.3"/>
<circle cx="220.59" cy="921.03" r="1.3"/>
<circle cx="233.09" cy="915.69" r="1.3"/>
<circle cx="183.62" cy="824.89" r="1.3"/>
<circle cx="171.42" cy="860.81" r="1.3"/>
<circle cx="268.51" cy="894.52" r="1.3"/>
<circle cx="284.16" cy="920.43" r="1.3"/>
<circle cx="129.22" cy="820.3" r="1.3"/>
<circle cx="220.98" cy="895.19" r="1.3"/>
<circle cx="197.34" cy="903.27" r="1.3"/>
<circle cx="192.71" cy="870.08" r="1.3"/>
<circle cx="187.42" cy="857.93" r="1.3"/>
<circle cx="271.7" cy="828.17" r="1.3"/>
<circle cx="192.84" cy="847.66" r="1.3"/>
<circle cx="177.82" cy="835" r="1.3"/>
<circle cx="210.56" cy="840.03" r="1.3"/>
<circle cx="228.96" cy="914.07" r="1.3"/>
<circle cx="314.79" cy="904.06" r="1.3"/>
<circle cx="243.66" cy="854.97" r="1.3"/>
<circle cx="179.75" cy="837.44" r="1.3"/>
<circle cx="125.13" cy="909.42" r="1.3"/>
<circle cx="195.56" cy="837.45" r="1.3"/>
<circle cx="148.29" cy="840.18" r="1.3"/>
<circle cx="154.65" cy="864.47" r="1.3"/>
<circle cx="268.21" cy="919.78" r="1.3"/>
<circle cx="210.23" cy="866.39" r="1.3"/>
<circle cx="145.36" cy="860.46" r="1.3"/>
<circle cx="231.37" cy="907.58" r="1.3"/>
<circle cx="184.57" cy="821.5" r="1.3"/>
<circle cx="241.44" cy="852.93" r="1.3"/>
<circle cx="211.83" cy="890.57" r="1.3"/>
<circle cx="121.75" cy="832.35" r="1.3"/>
<circle cx="263.75" cy="914.97" r="1.3"/>
<circle cx="185.36" cy="857.3" r="1.3"/>
<circle cx="214.91" cy="842" r="1.3"/>
<circle cx="126.44" cy="886.5" r="1.3"/>
<circle cx="218.2" cy="872.85" r="1.3"/>
<circle cx="255.81" cy="897.81" r="1.3"/>
<circle cx="134.3" cy="856.2" r="1.3"/>
<circle cx="158.35" cy="882.27" r="1.3"/>
<circle cx="153.01" cy="843.49" r="1.3"/>
<circle cx="140.36" cy="867" r="1.3"/>
<circle cx="157.03" cy="872.18" r="1.3"/>
<circle cx="221.7" cy="888.89" r="1.3"/>
<circle cx="185.08" cy="897.77" r="1.3"/>
<circle cx="161.07" cy="839.33" r="1.3"/>
<circle cx="185.44" cy="825.78" r="1.3"/>
<circle cx="143.47" cy="829.23" r="1.3"/>
<circle cx="225.37" cy="832.41" r="1.3"/>
<circle cx="173.5" cy="857.27" r="1.3"/>
<circle cx="197.4" cy="857.81" r="1.3"/>
<circle cx="214.09" cy="923.84" r="1.3"/>
<circle cx="215" cy="850.82" r="1.3"/>
<circle cx="245.21" cy="882.83" r="1.3"/>
<circle cx="162.44" cy="900.39" r="1.3"/>
<circle cx="184.91" cy="897" r="1.3"/>
<circle cx="157.43" cy="891.38" r="1.3"/>
<circle cx="249.62" cy="871.38" r="1.3"/>
<circle cx="126.3" cy="894.07" r="1.3"/>
<circle cx="197.55" cy="917.96" r="1.3"/>
<circle cx="144.33" cy="883.35" r="1.3"/>
<circle cx="154.24" cy="883.98" r="1.3"/>
<circle cx="163.97" cy="847.66" r="1.3"/>
<circle cx="187.33" cy="873.3" r="1.3"/>
<circle cx="150.66" cy="931.71" r="1.3"/>
<circle cx="192.82" cy="870.18" r="1.3"/>
<circle cx="155.89" cy="891.1" r="1.3"/>
<circle cx="198.19" cy="929.01" r="1.3"/>
<circle cx="247.4" cy="894.89" r="1.3"/>
<circle cx="163.21" cy="888.7" r="1.3"/>
<circle cx="141.62" cy="902.52" r="1.3"/>
<circle cx="177.58" cy="866.42" r="1.3"/>
<circle cx="251.15" cy="839.82" r="1.3"/>
<circle cx="178.54" cy="846.52" r="1.3"/>
<circle cx="257.75" cy="833.53" r="1.3"/>
<circle cx="161.77" cy="859.85" r="1.3"/>
<circle cx="278.3" cy="920.31" r="1.3"/>
<circle cx="164.79" cy="828.59" r="1.3"/>
<circle cx="250.17" cy="854.25" r="1.3"/>
<circle cx="171.85" cy="851.69" r="1.3"/>
<circle cx="184.67" cy="844.83" r="1.3"/>
<circle cx="185" cy="867.19" r="1.3"/>
<circle cx="165.24" cy="897.32" r="1.3"/>
<circle cx="195.33" cy="873.32" r="1.3"/>
<circle cx="256.1" cy="871.94" r="1.3"/>
<circle cx="250.56" cy="893.2" r="1.3"/>
<circle cx="207.96" cy="909.76" r="1.3"/>
<circle cx="122.47" cy="844.81" r="1.3"/>
<circle cx="198.19" cy="887.78" r="1.3"/>
<circle cx="209.36" cy="850.6" r="1.3"/>
<circle cx="152.73" cy="854.26" r="1.3"/>
<circle cx="161.37" cy="854.18" r="1.3"/>
<circle cx="147.15" cy="878.02" r="1.3"/>
<circle cx="175.26" cy="862.47" r="1.3"/>
<circle cx="205.77" cy="864.15" r="1.3"/>
<circle cx="205.64" cy="857.31" r="1.3"/>
<circle cx="181.4" cy="843.56" r="1.3"/>
<circle cx="152.06" cy="856.51" r="1.3"/>
<circle cx="293.27" cy="896.32" r="1.3"/>
<circle cx="235.06" cy="878.68" r="1.3"/>
<circle cx="176.67" cy="859.23" r="1.3"/>
<circle cx="125.12" cy="822.83" r="1.3"/>
<circle cx="143.82" cy="851.39" r="1.3"/>
<circle cx="175.54" cy="835.69" r="1.3"/>
<circle cx="141.86" cy="875.75" r="1.3"/>
<circle cx="195.79" cy="822.76" r="1.3"/>
<circle cx="286.28" cy="854.55" r="1.3"/>
<circle cx="209.86" cy="896.14" r="1.3"/>
<circle cx="162.39" cy="859.38" r="1.3"/>
<circle cx="161.33" cy="841.04" r="1.3"/>
<circle cx="142.93" cy="882.34" r="1.3"/>
<circle cx="169.07" cy="862.02" r="1.3"/>
<circle cx="232.75" cy="858.24" r="1.3"/>
<circle cx="222.12" cy="898.85" r="1.3"/>
<circle cx="156.92" cy="847.26" r="1.3"/>
<circle cx="149.91" cy="900.22" r="1.3"/>
<circle cx="247.98" cy="920.39" r="1.3"/>
<circle cx="167.42" cy="813.14" r="1.3"/>
<circle cx="231.87" cy="845.91" r="1.3"/>
<circle cx="283.14" cy="908.37" r="1.3"/>
<circle cx="289.36" cy="880.82" r="1.3"/>
<circle cx="208.76" cy="857.66" r="1.3"/>
<circle cx="215.01" cy="854.8" r="1.3"/>
<circle cx="175.72" cy="860.96" r="1.3"/>
<circle cx="194.28" cy="865.78" r="1.3"/>
<circle cx="251.84" cy="832" r="1.3"/>
<circle cx="208.07" cy="900.94" r="1.3"/>
<circle cx="222.58" cy="867.75" r="1.3"/>
<circle cx="164.27" cy="872.07" r="1.3"/>
<circle cx="247.66" cy="880.29" r="1.3"/>
<circle cx="168.97" cy="883.72" r="1.3"/>
<circle cx="148.81" cy="870.79" r="1.3"/>
<circle cx="180.77" cy="815.35" r="1.3"/>
<circle cx="241.77" cy="857.34" r="1.3"/>
<circle cx="319.8" cy="885.73" r="1.3"/>
<circle cx="144.53" cy="838.45" r="1.3"/>
<circle cx="260.78" cy="893.97" r="1.3"/>
<circle cx="158.14" cy="866.08" r="1.3"/>
<circle cx="205.7" cy="899.9" r="1.3"/>
<circle cx="185.91" cy="894.21" r="1.3"/>
<circle cx="152.09" cy="843.09" r="1.3"/>
<circle cx="188.02" cy="897.99" r="1.3"/>
<circle cx="252.09" cy="871.49" r="1.3"/>
<circle cx="242.56" cy="872.77" r="1.3"/>
<circle cx="175.94" cy="878.62" r="1.3"/>
<circle cx="153.73" cy="834.32" r="1.3"/>
<circle cx="185.91" cy="874.73" r="1.3"/>
<circle cx="215.55" cy="843.33" r="1.3"/>
<circle cx="161.85" cy="829.03" r="1.3"/>
<circle cx="145.54" cy="839.73" r="1.3"/>
<circle cx="283.54" cy="813.29" r="1.3"/>
<circle cx="125.64" cy="859.25" r="1.3"/>
<circle cx="239.39" cy="860.45" r="1.3"/>
<circle cx="280.6" cy="893.89" r="1.3"/>
<circle cx="203.62" cy="904.98" r="1.3"/>
<circle cx="211.41" cy="822.18" r="1.3"/>
<circle cx="170.16" cy="867.69" r="1.3"/>
<circle cx="152.66" cy="817.94" r="1.3"/>
<circle cx="234.57" cy="842.84" r="1.3"/>
<circle cx="214.03" cy="817.83" r="1.3"/>
<circle cx="303.46" cy="887.07" r="1.3"/>
<circle cx="115.2" cy="901.4" r="1.3"/>
<circle cx="196.5" cy="819.49" r="1.3"/>
<circle cx="286.05" cy="912.35" r="1.3"/>
<circle cx="153.5" cy="922.77" r="1.3"/>
<circle cx="248.85" cy="885.44" r="1.3"/>
<circle cx="176.14" cy="876.08" r="1.3"/>
<circle cx="193.78" cy="895.27" r="1.3"/>
<circle cx="121.61" cy="864.07" r="1.3"/>
<circle cx="168.45" cy="835.31" r="1.3"/>
<circle cx="118.23" cy="928.58" r="1.3"/>
<circle cx="212.38" cy="897.23" r="1.3"/>
<circle cx="252.93" cy="865.6" r="1.3"/>
<circle cx="160.7" cy="872.97" r="1.3"/>
<circle cx="121.64" cy="901.69" r="1.3"/>
<circle cx="162.85" cy="879.21" r="1.3"/>
<circle cx="166.44" cy="844.13" r="1.3"/>
<circle cx="153.89" cy="840.79" r="1.3"/>
<circle cx="182.52" cy="821.28" r="1.3"/>
<circle cx="192.46" cy="821.5" r="1.3"/>
<circle cx="168.76" cy="856.96" r="1.3"/>
<circle cx="182.9" cy="846.96" r="1.3"/>
<circle cx="121.48" cy="897.09" r="1.3"/>
<circle cx="172.85" cy="891.37" r="1.3"/>
<circle cx="236.15" cy="866.27" r="1.3"/>
<circle cx="212.43" cy="877.36" r="1.3"/>
<circle cx="118.65" cy="852.18" r="1.3"/>
<circle cx="187.52" cy="858.15" r="1.3"/>
<circle cx="167.71" cy="845.52" r="1.3"/>
<circle cx="189.71" cy="878.73" r="1.3"/>
<circle cx="185.06" cy="930.76" r="1.3"/>
<circle cx="138.36" cy="886.31" r="1.3"/>
<circle cx="151.18" cy="904.35" r="1.3"/>
<circle cx="222.93" cy="895.77" r="1.3"/>
<circle cx="229.05" cy="869.52" r="1.3"/>
<circle cx="307.7" cy="860.23" r="1.3"/>
<circle cx="190.33" cy="885.39" r="1.3"/>
<circle cx="149.54" cy="852.78" r="1.3"/>
<circle cx="222.16" cy="901.71" r="1.3"/>
<circle cx="220.74" cy="904.66" r="1.3"/>
<circle cx="142.52" cy="915.71" r="1.3"/>
<circle cx="229.22" cy="892.35" r="1.3"/>
<circle cx="313.55" cy="888.58" r="1.3"/>
<circle cx="172.23" cy="907.99" r="1.3"/>
<circle cx="180.98" cy="905.18" r="1.3"/>
<circle cx="132.03" cy="853.87" r="1.3"/>
<circle cx="272.5" cy="860.4" r="1.3"/>
<circle cx="221.15" cy="871.29" r="1.3"/>
<circle cx="139.25" cy="867.93" r="1.3"/>
<circle cx="164.3" cy="880.59" r="1.3"/>
<circle cx="325.88" cy="898.97" r="1.3"/>
<circle cx="241.4" cy="846.71" r="1.3"/>
<circle cx="143.25" cy="850.33" r="1.3"/>
<circle cx="121.73" cy="886.12" r="1.3"/>
<circle cx="122.02" cy="887.56" r="1.3"/>
<circle cx="185.36" cy="870.48" r="1.3"/>
<circle cx="267.63" cy="868.74" r="1.3"/>
<circle cx="260.08" cy="839.5" r="1.3"/>
<circle cx="140.78" cy="898.53" r="1.3"/>
<circle cx="311.5" cy="896.38" r="1.3"/>
<circle cx="139.63" cy="889.02" r="1.3"/>
<circle cx="208.3" cy="849.61" r="1.3"/>
<circle cx="123.08" cy="828.93" r="1.3"/>
<circle cx="144.02" cy="909.21" r="1.3"/>
<circle cx="132.31" cy="917.03" r="1.3"/>
<circle cx="198" cy="824.9" r="1.3"/>
<circle cx="177.31" cy="843.79" r="1.3"/>
<circle cx="207.15" cy="884.09" r="1.3"/>
<circle cx="247.8" cy="920.13" r="1.3"/>
<circle cx="194.64" cy="852.87" r="1.3"/>
<circle cx="144.62" cy="864.42" r="1.3"/>
<circle cx="245.74" cy="911.33" r="1.3"/>
<circle cx="213.4" cy="874.46" r="1.3"/>
<circle cx="117.68" cy="902.21" r="1.3"/>
<circle cx="210.15" cy="860.29" r="1.3"/>
<circle cx="222.98" cy="850.6" r="1.3"/>
<circle cx="177.54" cy="897.45" r="1.3"/>
<circle cx="246.9" cy="831.17" r="1.3"/>
<circle cx="183.35" cy="865.32" r="1.3"/>
<circle cx="190.28" cy="886.12" r="1.3"/>
<circle cx="160.91" cy="882.8" r="1.3"/>
<circle cx="180.94" cy="884.55" r="1.3"/>
<circle cx="245.74" cy="815.32" r="1.3"/>
<circle cx="191.39" cy="918.82" r="1.3"/>
<circle cx="119.99" cy="897.42" r="1.3"/>
<circle cx="174.41" cy="877.36" r="1.3"/>
<circle cx="208.84" cy="897.81" r="1.3"/>
<circle cx="196.87" cy="885.94" r="1.3"/>
<circle cx="124.09" cy="907.22" r="1.3"/>
<circle cx="158.87" cy="901.15" r="1.3"/>
<circle cx="179.34" cy="886.97" r="1.3"/>
<circle cx="213.43" cy="898.1" r="1.3"/>
<circle cx="190.47" cy="830.63" r="1.3"/>
<circle cx="161.32" cy="918.82" r="1.3"/>
<circle cx="239.41" cy="839.77" r="1.3"/>
<circle cx="207.21" cy="907.13" r="1.3"/>
<circle cx="153.56" cy="854.13" r="1.3"/>
<circle cx="188.12" cy="822.15" r="1.3"/>
<circle cx="208.14" cy="893.44" r="1.3"/>
<circle cx="126.58" cy="871.86" r="1.3"/>
<circle cx="195.75" cy="835.34" r="1.3"/>
<circle cx="163.98" cy="882.09" r="1.3"/>
<circle cx="167.06" cy="857.99" r="1.3"/>
<circle cx="158.56" cy="900.15" r="1.3"/>
<circle cx="246.2" cy="913.68" r="1.3"/>
<circle cx="232.13" cy="909.85" r="1.3"/>
<circle cx="184.94" cy="817.96" r="1.3"/>
<circle cx="191.27" cy="851.51" r="1.3"/>
<circle cx="220" cy="906.81" r="1.3"/>
<circle cx="172.28" cy="926.86" r="1.3"/>
<circle cx="135.05" cy="881.45" r="1.3"/>
<circle cx="155.01" cy="884.77" r="1.3"/>
<circle cx="143.2" cy="864.87" r="1.3"/>
<circle cx="202.31" cy="890.25" r="1.3"/>
<circle cx="209.12" cy="874.5" r="1.3"/>
<circle cx="236.08" cy="826.17" r="1.3"/>
<circle cx="218.94" cy="863.75" r="1.3"/>
<circle cx="195.88" cy="855.76" r="1.3"/>
<circle cx="176.15" cy="890.61" r="1.3"/>
<circle cx="168.04" cy="872.81" r="1.3"/>
<circle cx="151.04" cy="914.01" r="1.3"/>
<circle cx="146.92" cy="909.78" r="1.3"/>
<circle cx="205.83" cy="872.86" r="1.3"/>
<circle cx="207.13" cy="814.75" r="1.3"/>
<circle cx="196.16" cy="831.54" r="1.3"/>
<circle cx="181.64" cy="854.57" r="1.3"/>
<circle cx="147.94" cy="874.64" r="1.3"/>
<circle cx="168.2" cy="841.17" r="1.3"/>
<circle cx="139.43" cy="859.56" r="1.3"/>
<circle cx="221.49" cy="903.21" r="1.3"/>
<circle cx="178.71" cy="858.31" r="1.3"/>
<circle cx="220.16" cy="868.21" r="1.3"/>
<circle cx="215.83" cy="903.92" r="1.3"/>
<circle cx="128.05" cy="916.12" r="1.3"/>
<circle cx="139.82" cy="908.28" r="1.3"/>
<circle cx="302.67" cy="875.1" r="1.3"/>
<circle cx="147.39" cy="873.75" r="1.3"/>
<circle cx="229.37" cy="868.75" r="1.3"/>
<circle cx="271.21" cy="829.71" r="1.3"/>
<circle cx="193.99" cy="842.76" r="1.3"/>
<circle cx="169.16" cy="867" r="1.3"/>
<circle cx="165.03" cy="867.66" r="1.3"/>
<circle cx="164.13" cy="842.09" r="1.3"/>
<circle cx="213.02" cy="869.88" r="1.3"/>
<circle cx="290.85" cy="843.63" r="1.3"/>
<circle cx="201.32" cy="842.03" r="1.3"/>
<circle cx="169.25" cy="861.86" r="1.3"/>
<circle cx="138.54" cy="857.77" r="1.3"/>
<circle cx="197.72" cy="901.42" r="1.3"/>
<circle cx="139.58" cy="869.3" r="1.3"/>
<circle cx="170.62" cy="872.52" r="1.3"/>
<circle cx="192.42" cy="912.15" r="1.3"/>
<circle cx="186.68" cy="897.91" r="1.3"/>
<circle cx="229.71" cy="903.82" r="1.3"/>
<circle cx="178.44" cy="880.45" r="1.3"/>
<circle cx="194.81" cy="865.78" r="1.3"/>
<circle cx="323.6" cy="928.25" r="1.3"/>
<circle cx="157.36" cy="850.88" r="1.3"/>
<circle cx="146.29" cy="838.73" r="1.3"/>
<circle cx="189.36" cy="833.29" r="1.3"/>
<circle cx="179.1" cy="911.43" r="1.3"/>
<circle cx="200.93" cy="845.39" r="1.3"/>
<circle cx="203.44" cy="870.03" r="1.3"/>
<circle cx="241.5" cy="854.82" r="1.3"/>
<circle cx="201.2" cy="928.04" r="1.3"/>
<circle cx="215.55" cy="906.41" r="1.3"/>
<circle cx="158.7" cy="916.35" r="1.3"/>
<circle cx="221.83" cy="870.86" r="1.3"/>
<circle cx="127.53" cy="826.41" r="1.3"/>
<circle cx="193.3" cy="890.19" r="1.3"/>
<circle cx="122.79" cy="841.12" r="1.3"/>
<circle cx="120.61" cy="842.98" r="1.3"/>
<circle cx="265.98" cy="900.65" r="1.3"/>
<circle cx="180.31" cy="914.79" r="1.3"/>
<circle cx="165.15" cy="852.7" r="1.3"/>
<circle cx="169.45" cy="884.66" r="1.3"/>
<circle cx="191.43" cy="915.18" r="1.3"/>
<circle cx="206.84" cy="846.01" r="1.3"/>
<circle cx="224.62" cy="833.84" r="1.3"/>
<circle cx="171.62" cy="840.97" r="1.3"/>
<circle cx="228.93" cy="869.69" r="1.3"/>
<circle cx="199.99" cy="881.88" r="1.3"/>
<circle cx="238.3" cy="852.01" r="1.3"/>
<circle cx="134.55" cy="830.79" r="1.3"/>
<circle cx="206.67" cy="849.93" r="1.3"/>
<circle cx="160.36" cy="906.37" r="1.3"/>
<circle cx="198.53" cy="879.64" r="1.3"/>
<circle cx="222.39" cy="909.66" r="1.3"/>
<circle cx="245.13" cy="902.36" r="1.3"/>
<circle cx="191.23" cy="851.77" r="1.3"/>
<circle cx="189.36" cy="849.26" r="1.3"/>
<circle cx="228.68" cy="841.94" r="1.3"/>
<circle cx="166.68" cy="862.05" r="1.3"/>
<circle cx="207.54" cy="859.49" r="1.3"/>
<circle cx="197.6" cy="886.98" r="1.3"/>
<circle cx="187.79" cy="878.69" r="1.3"/>
<circle cx="248.12" cy="893.83" r="1.3"/>
<circle cx="126.41" cy="856.15" r="1.3"/>
<circle cx="166.47" cy="876.14" r="1.3"/>
<circle cx="228.64" cy="905.37" r="1.3"/>
<circle cx="171.51" cy="893.6" r="1.3"/>
<circle cx="200.4" cy="847.66" r="1.3"/>
<circle cx="188.71" cy="894.37" r="1.3"/>
<circle cx="255.97" cy="887.3" r="1.3"/>
<circle cx="192" cy="821.25" r="1.3"/>
<circle cx="188.5" cy="821.5" r="1.3"/>
<circle cx="155.71" cy="893.34" r="1.3"/>
<circle cx="162.05" cy="845.61" r="1.3"/>
<circle cx="199.9" cy="856.07" r="1.3"/>
<circle cx="134.48" cy="870.98" r="1.3"/>
<circle cx="234.51" cy="921.94" r="1.3"/>
<circle cx="223.44" cy="907.86" r="1.3"/>
<circle cx="162.55" cy="858.93" r="1.3"/>
<circle cx="182.4" cy="822.67" r="1.3"/>
<circle cx="164.11" cy="894.78" r="1.3"/>
<circle cx="250.32" cy="864.28" r="1.3"/>
<circle cx="243.96" cy="838.44" r="1.3"/>
<circle cx="178.51" cy="927.65" r="1.3"/>
<circle cx="187.52" cy="855.32" r="1.3"/>
<circle cx="120.96" cy="899.66" r="1.3"/>
<circle cx="160.69" cy="844.62" r="1.3"/>
<circle cx="123.46" cy="909.76" r="1.3"/>
<circle cx="192.18" cy="875.62" r="1.3"/>
<circle cx="170.68" cy="895.15" r="1.3"/>
<circle cx="291.63" cy="883.66" r="1.3"/>
<circle cx="204.14" cy="875.19" r="1.3"/>
<circle cx="194.57" cy="860.75" r="1.3"/>
<circle cx="190.09" cy="836.72" r="1.3"/>
<circle cx="232.29" cy="851.81" r="1.3"/>
<circle cx="267.04" cy="843.4" r="1.3"/>
<circle cx="121.25" cy="892.18" r="1.3"/>
<circle cx="145.39" cy="897.63" r="1.3"/>
<circle cx="140.18" cy="909.03" r="1.3"/>
<circle cx="201.5" cy="907.37" r="1.3"/>
<circle cx="171.68" cy="901.58" r="1.3"/>
<circle cx="147.73" cy="871.34" r="1.3"/>
<circle cx="206.4" cy="862.92" r="1.3"/>
<circle cx="146.62" cy="855.01" r="1.3"/>
<circle cx="193.9" cy="871.16" r="1.3"/>
<circle cx="146.77" cy="818.77" r="1.3"/>
<circle cx="225.08" cy="837.57" r="1.3"/>
<circle cx="159.96" cy="821.06" r="1.3"/>
<circle cx="147.02" cy="855.88" r="1.3"/>
<circle cx="178.8" cy="853.74" r="1.3"/>
<circle cx="154.96" cy="884.45" r="1.3"/>
<circle cx="296.41" cy="929.23" r="1.3"/>
<circle cx="166.61" cy="849.36" r="1.3"/>
<circle cx="174.86" cy="882.28" r="1.3"/>
<circle cx="169.54" cy="862.5" r="1.3"/>
<circle cx="148.65" cy="832.96" r="1.3"/>
<circle cx="179.19" cy="871.16" r="1.3"/>
<circle cx="220.73" cy="901.03" r="1.3"/>
<circle cx="178.62" cy="858.2" r="1.3"/>
<circle cx="244.06" cy="917.56" r="1.3"/>
<circle cx="128.42" cy="850.16" r="1.3"/>
<circle cx="222.91" cy="845.5" r="1.3"/>
<circle cx="164.32" cy="849.35" r="1.3"/>
<circle cx="172.31" cy="917.51" r="1.3"/>
<circle cx="158.25" cy="911.99" r="1.3"/>
<circle cx="132.49" cy="864.27" r="1.3"/>
<circle cx="190.32" cy="824.5" r="1.3"/>
<circle cx="177.68" cy="853.74" r="1.3"/>
<circle cx="222.47" cy="909.8" r="1.3"/>
<circle cx="158.24" cy="874.8" r="1.3"/>
<circle cx="164.53" cy="896.13" r="1.3"/>
<circle cx="200.98" cy="924.13" r="1.3"/>
<circle cx="179.21" cy="866.94" r="1.3"/>
<circle cx="289.18" cy="897.8" r="1.3"/>
<circle cx="173.7" cy="833.69" r="1.3"/>
<circle cx="259.45" cy="900.78" r="1.3"/>
<circle cx="240.5" cy="882.72" r="1.3"/>
<circle cx="252.99" cy="932.69" r="1.3"/>
<circle cx="186.38" cy="879.07" r="1.3"/>
<circle cx="279.72" cy="896.16" r="1.3"/>
<circle cx="175.66" cy="844.44" r="1.3"/>
<circle cx="258.61" cy="853.5" r="1.3"/>
<circle cx="122.65" cy="902.72" r="1.3"/>
<circle cx="270.32" cy="856.05" r="1.3"/>
<circle cx="224.98" cy="844.37" r="1.3"/>
<circle cx="175.69" cy="863.3" r="1.3"/>
<circle cx="134.79" cy="905.04" r="1.3"/>
<circle cx="132.19" cy="923.23" r="1.3"/>
<circle cx="214.24" cy="879.45" r="1.3"/>
<circle cx="144.67" cy="872.61" r="1.3"/>
<circle cx="173.92" cy="864.47" r="1.3"/>
<circle cx="228.18" cy="880.05" r="1.3"/>
<circle cx="211.78" cy="922.69" r="1.3"/>
<circle cx="170.08" cy="911.14" r="1.3"/>
<circle cx="261.37" cy="909.67" r="1.3"/>
<circle cx="156.87" cy="852.13" r="1.3"/>
<circle cx="257.44" cy="918.08" r="1.3"/>
<circle cx="232.93" cy="858.08" r="1.3"/>
<circle cx="185.5" cy="925.13" r="1.3"/>
<circle cx="152.32" cy="866.81" r="1.3"/>
<circle cx="135.78" cy="852.84" r="1.3"/>
<circle cx="210.91" cy="896.84" r="1.3"/>
<circle cx="120.82" cy="916.47" r="1.3"/>
<circle cx="266.39" cy="876.76" r="1.3"/>
<circle cx="119.21" cy="853.89" r="1.3"/>
<circle cx="246.16" cy="825.87" r="1.3"/>
<circle cx="237.78" cy="824.92" r="1.3"/>
<circle cx="141.16" cy="842.83" r="1.3"/>
<circle cx="231.2" cy="925.59" r="1.3"/>
<circle cx="242.09" cy="845.25" r="1.3"/>
<circle cx="187.6" cy="835.5" r="1.3"/>
<circle cx="158.44" cy="879.9" r="1.3"/>
<circle cx="154.25" cy="861.21" r="1.3"/>
<circle cx="174.48" cy="895.57" r="1.3"/>
<circle cx="142.59" cy="889.62" r="1.3"/>
<circle cx="177.86" cy="914.36" r="1.3"/>
<circle cx="213.44" cy="922.85" r="1.3"/>
<circle cx="129.31" cy="831.31" r="1.3"/>
<circle cx="182.01" cy="914.69" r="1.3"/>
<circle cx="194.32" cy="913.57" r="1.3"/>
<circle cx="144.55" cy="853.53" r="1.3"/>
<circle cx="246.08" cy="875.45" r="1.3"/>
<circle cx="133.02" cy="887.75" r="1.3"/>
<circle cx="173.83" cy="815.5" r="1.3"/>
<circle cx="165.55" cy="865.13" r="1.3"/>
<circle cx="153.58" cy="849.15" r="1.3"/>
<circle cx="165.89" cy="872.34" r="1.3"/>
<circle cx="216.14" cy="899.78" r="1.3"/>
<circle cx="190.14" cy="863.52" r="1.3"/>
<circle cx="240.09" cy="932" r="1.3"/>
<circle cx="169.35" cy="881.85" r="1.3"/>
<circle cx="197.22" cy="869.32" r="1.3"/>
<circle cx="162.2" cy="829.25" r="1.3"/>
<circle cx="149.79" cy="892.33" r="1.3"/>
<circle cx="232.21" cy="890.82" r="1.3"/>
<circle cx="201.09" cy="841.89" r="1.3"/>
<circle cx="177.82" cy="859.54" r="1.3"/>
<circle cx="194.88" cy="898.72" r="1.3"/>
<circle cx="246.06" cy="914.44" r="1.3"/>
<circle cx="186.53" cy="822.86" r="1.3"/>
<circle cx="153.05" cy="855.18" r="1.3"/>
<circle cx="226.81" cy="890.1" r="1.3"/>
<circle cx="146.86" cy="867.35" r="1.3"/>
<circle cx="124.94" cy="904.54" r="1.3"/>
<circle cx="283.27" cy="882.82" r="1.3"/>
<circle cx="169.51" cy="840.17" r="1.3"/>
<circle cx="151.85" cy="881.6" r="1.3"/>
<circle cx="292.99" cy="855.3" r="1.3"/>
<circle cx="164.77" cy="906.53" r="1.3"/>
<circle cx="212.37" cy="877.92" r="1.3"/>
<circle cx="159.06" cy="848" r="1.3"/>
<circle cx="148.12" cy="813.91" r="1.3"/>
<circle cx="170.12" cy="852.22" r="1.3"/>
<circle cx="173.87" cy="928.93" r="1.3"/>
<circle cx="193.11" cy="930.38" r="1.3"/>
<circle cx="127.5" cy="930.93" r="1.3"/>
<circle cx="172.18" cy="847.91" r="1.3"/>
<circle cx="164.13" cy="919.97" r="1.3"/>
<circle cx="148.98" cy="862.39" r="1.3"/>
<circle cx="141.71" cy="924.17" r="1.3"/>
<circle cx="159.88" cy="875.85" r="1.3"/>
<circle cx="183.31" cy="848.37" r="1.3"/>
<circle cx="138.33" cy="897.8" r="1.3"/>
<circle cx="128.19" cy="854.18" r="1.3"/>
<circle cx="203.59" cy="865.12" r="1.3"/>
<circle cx="219.23" cy="860.17" r="1.3"/>
<circle cx="146.25" cy="894.38" r="1.3"/>
<circle cx="186.8" cy="883.48" r="1.3"/>
<circle cx="172.43" cy="824.84" r="1.3"/>
<circle cx="124.16" cy="893.22" r="1.3"/>
<circle cx="196.09" cy="820.39" r="1.3"/>
<circle cx="201.03" cy="933.74" r="1.3"/>
<circle cx="226.32" cy="858.64" r="1.3"/>
<circle cx="245.75" cy="866.52" r="1.3"/>
<circle cx="205.43" cy="855.17" r="1.3"/>
<circle cx="171.51" cy="898.82" r="1.3"/>
<circle cx="168.15" cy="895.85" r="1.3"/>
<circle cx="309.01" cy="865.37" r="1.3"/>
<circle cx="268.3" cy="846.13" r="1.3"/>
<circle cx="202.7" cy="894.35" r="1.3"/>
<circle cx="153.07" cy="850.1" r="1.3"/>
<circle cx="163.92" cy="877.61" r="1.3"/>
<circle cx="214.52" cy="863.2" r="1.3"/>
<circle cx="168.41" cy="929.43" r="1.3"/>
<circle cx="267.4" cy="910.78" r="1.3"/>
<circle cx="182.69" cy="912.22" r="1.3"/>
<circle cx="176.77" cy="890.1" r="1.3"/>
<circle cx="200.86" cy="919.12" r="1.3"/>
<circle cx="226.86" cy="877.09" r="1.3"/>
<circle cx="192.82" cy="895.16" r="1.3"/>
<circle cx="184.22" cy="868.2" r="1.3"/>
<circle cx="258.51" cy="897.95" r="1.3"/>
<circle cx="126.86" cy="897.14" r="1.3"/>
<circle cx="115.11" cy="876" r="1.3"/>
<circle cx="226.12" cy="860.96" r="1.3"/>
<circle cx="157.29" cy="886.1" r="1.3"/>
<circle cx="146.35" cy="909.84" r="1.3"/>
<circle cx="245.99" cy="834.56" r="1.3"/>
<circle cx="158.23" cy="895.53" r="1.3"/>
<circle cx="244.7" cy="918.63" r="1.3"/>
<circle cx="203.27" cy="856.42" r="1.3"/>
<circle cx="220.3" cy="824.43" r="1.3"/>
<circle cx="220.9" cy="833.05" r="1.3"/>
<circle cx="145.43" cy="814.69" r="1.3"/>
<circle cx="172.8" cy="877.01" r="1.3"/>
<circle cx="212.32" cy="851.62" r="1.3"/>
<circle cx="171.68" cy="898.69" r="1.3"/>
<circle cx="173.62" cy="881.02" r="1.3"/>
<circle cx="190.87" cy="907.52" r="1.3"/>
<circle cx="249.26" cy="864.5" r="1.3"/>
<circle cx="160.53" cy="847.81" r="1.3"/>
<circle cx="187.54" cy="882.37" r="1.3"/>
<circle cx="162.42" cy="875.3" r="1.3"/>
<circle cx="245.97" cy="858.06" r="1.3"/>
<circle cx="213.8" cy="883.71" r="1.3"/>
<circle cx="238.59" cy="885.78" r="1.3"/>
<circle cx="178.93" cy="856.64" r="1.3"/>
<circle cx="211.81" cy="861.51" r="1.3"/>
<circle cx="262.13" cy="821.66" r="1.3"/>
<circle cx="160.14" cy="902.2" r="1.3"/>
<circle cx="244.84" cy="904.56" r="1.3"/>
<circle cx="174.63" cy="887.75" r="1.3"/>
<circle cx="283.27" cy="887.26" r="1.3"/>
<circle cx="270.99" cy="925.06" r="1.3"/>
<circle cx="283.33" cy="818.81" r="1.3"/>
<circle cx="128.22" cy="897.14" r="1.3"/>
<circle cx="186.89" cy="924.92" r="1.3"/>
<circle cx="206.78" cy="848.33" r="1.3"/>
<circle cx="190.19" cy="833.33" r="1.3"/>
<circle cx="168.38" cy="906.92" r="1.3"/>
<circle cx="122.23" cy="879.18" r="1.3"/>
<circle cx="163.39" cy="842.51" r="1.3"/>
<circle cx="217.31" cy="841.21" r="1.3"/>
<circle cx="195.21" cy="853.2" r="1.3"/>
<circle cx="170.57" cy="871.7" r="1.3"/>
<circle cx="200.12" cy="839.88" r="1.3"/>
<circle cx="182.21" cy="890.8" r="1.3"/>
<circle cx="115.46" cy="891.78" r="1.3"/>
<circle cx="257.28" cy="910.83" r="1.3"/>
<circle cx="220.94" cy="855.27" r="1.3"/>
<circle cx="151.53" cy="815.4" r="1.3"/>
<circle cx="267.28" cy="867.68" r="1.3"/>
<circle cx="245.91" cy="817.42" r="1.3"/>
<circle cx="222.64" cy="903.76" r="1.3"/>
<circle cx="153.25" cy="930.9" r="1.3"/>
<circle cx="277.64" cy="861.43" r="1.3"/>
<circle cx="176.69" cy="840.75" r="1.3"/>
<circle cx="154.69" cy="843.52" r="1.3"/>
<circle cx="182.89" cy="873.17" r="1.3"/>
<circle cx="153.36" cy="907.37" r="1.3"/>
<circle cx="245.74" cy="898.08" r="1.3"/>
<circle cx="120.92" cy="913.06" r="1.3"/>
<circle cx="151.98" cy="878.48" r="1.3"/>
<circle cx="241.1" cy="885.72" r="1.3"/>
<circle cx="181.31" cy="854.5" r="1.3"/>
<circle cx="223.29" cy="916.63" r="1.3"/>
<circle cx="191.64" cy="890.84" r="1.3"/>
<circle cx="134.37" cy="824.16" r="1.3"/>
<circle cx="249.15" cy="896.19" r="1.3"/>
<circle cx="120.96" cy="932.5" r="1.3"/>
<circle cx="153.17" cy="849.15" r="1.3"/>
<circle cx="251.37" cy="871.14" r="1.3"/>
<circle cx="175.15" cy="819.22" r="1.3"/>
<circle cx="185.54" cy="874.48" r="1.3"/>
<circle cx="184.54" cy="930.93" r="1.3"/>
<circle cx="176.66" cy="923.63" r="1.3"/>
<circle cx="202.76" cy="821.02" r="1.3"/>
<circle cx="119.66" cy="912.42" r="1.3"/>
<circle cx="180.74" cy="863.07" r="1.3"/>
<circle cx="154.43" cy="869.44" r="1.3"/>
<circle cx="174.92" cy="907.44" r="1.3"/>
<circle cx="171.76" cy="837.68" r="1.3"/>
<circle cx="238.24" cy="902.28" r="1.3"/>
<circle cx="218.27" cy="914.21" r="1.3"/>
<circle cx="192.07" cy="830" r="1.3"/>
<circle cx="241.56" cy="900.94" r="1.3"/>
<circle cx="228.05" cy="827.78" r="1.3"/>
<circle cx="167.3" cy="888.26" r="1.3"/>
<circle cx="120.5" cy="883.88" r="1.3"/>
<circle cx="216.17" cy="926.65" r="1.3"/>
<circle cx="260.52" cy="892.83" r="1.3"/>
<circle cx="173.48" cy="899.83" r="1.3"/>
<circle cx="152.74" cy="831.83" r="1.3"/>
<circle cx="165.65" cy="835.56" r="1.3"/>
<circle cx="189.33" cy="904.48" r="1.3"/>
<circle cx="129.93" cy="896.6" r="1.3"/>
<circle cx="236.71" cy="886.83" r="1.3"/>
<circle cx="213.6" cy="829.33" r="1.3"/>
<circle cx="174.25" cy="821.63" r="1.3"/>
<circle cx="190.04" cy="873.65" r="1.3"/>
<circle cx="237.86" cy="903.91" r="1.3"/>
<circle cx="147.88" cy="926.9" r="1.3"/>
<circle cx="186.47" cy="881.03" r="1.3"/>
<circle cx="182.98" cy="894.27" r="1.3"/>
<circle cx="202.11" cy="837.54" r="1.3"/>
<circle cx="156.01" cy="907.59" r="1.3"/>
<circle cx="203.48" cy="859.45" r="1.3"/>
<circle cx="212.42" cy="902.41" r="1.3"/>
<circle cx="151.57" cy="868.08" r="1.3"/>
<circle cx="196.29" cy="884.4" r="1.3"/>
<circle cx="164.99" cy="842.7" r="1.3"/>
<circle cx="209.45" cy="854.08" r="1.3"/>
<circle cx="137.01" cy="875.39" r="1.3"/>
<circle cx="155.89" cy="864.75" r="1.3"/>
<circle cx="202.54" cy="870.45" r="1.3"/>
<circle cx="194.32" cy="886.7" r="1.3"/>
<circle cx="188.86" cy="866.31" r="1.3"/>
<circle cx="190.1" cy="851.9" r="1.3"/>
<circle cx="175.46" cy="893.71" r="1.3"/>
<circle cx="201.53" cy="903.55" r="1.3"/>
<circle cx="167.87" cy="902.96" r="1.3"/>
<circle cx="268.63" cy="832.27" r="1.3"/>
<circle cx="238.57" cy="866.47" r="1.3"/>
<circle cx="131.98" cy="857.24" r="1.3"/>
<circle cx="288.39" cy="877.14" r="1.3"/>
<circle cx="135.83" cy="869.15" r="1.3"/>
<circle cx="181.17" cy="871.7" r="1.3"/>
<circle cx="188.49" cy="857.16" r="1.3"/>
<circle cx="273.12" cy="877.03" r="1.3"/>
<circle cx="151.91" cy="860.1" r="1.3"/>
<circle cx="145.76" cy="878.33" r="1.3"/>
<circle cx="240.01" cy="928.25" r="1.3"/>
<circle cx="192.26" cy="916.83" r="1.3"/>
<circle cx="167.43" cy="853.12" r="1.3"/>
<circle cx="176.55" cy="827.03" r="1.3"/>
<circle cx="154.52" cy="909.89" r="1.3"/>
<circle cx="209.5" cy="912.5" r="1.3"/>
<circle cx="172.55" cy="874.02" r="1.3"/>
<circle cx="129.54" cy="899.24" r="1.3"/>
<circle cx="201.86" cy="864.2" r="1.3"/>
<circle cx="253.18" cy="896.3" r="1.3"/>
<circle cx="148.3" cy="914.29" r="1.3"/>
<circle cx="202.44" cy="857.98" r="1.3"/>
<circle cx="173.05" cy="861.3" r="1.3"/>
<circle cx="291.26" cy="860.7" r="1.3"/>
<circle cx="187.17" cy="866.03" r="1.3"/>
<circle cx="275.65" cy="879.91" r="1.3"/>
<circle cx="225.6" cy="888.21" r="1.3"/>
<circle cx="194.25" cy="857.53" r="1.3"/>
<circle cx="123.3" cy="908.95" r="1.3"/>
<circle cx="192.57" cy="901.09" r="1.3"/>
<circle cx="231.69" cy="925.74" r="1.3"/>
<circle cx="214.11" cy="917.12" r="1.3"/>
<circle cx="171.91" cy="872.11" r="1.3"/>
<circle cx="183.59" cy="885.92" r="1.3"/>
<circle cx="157.67" cy="845.58" r="1.3"/>
<circle cx="158.13" cy="853.92" r="1.3"/>
<circle cx="135.14" cy="877.58" r="1.3"/>
<circle cx="122.74" cy="902.09" r="1.3"/>
<circle cx="177.61" cy="865.57" r="1.3"/>
<circle cx="311.37" cy="851.67" r="1.3"/>
<circle cx="205.88" cy="903.29" r="1.3"/>
<circle cx="183.89" cy="861.43" r="1.3"/>
<circle cx="175.29" cy="866.88" r="1.3"/>
<circle cx="161.74" cy="871.23" r="1.3"/>
<circle cx="145.72" cy="848.41" r="1.3"/>
<circle cx="125.53" cy="889.9" r="1.3"/>
<circle cx="204.49" cy="866.88" r="1.3"/>
<circle cx="166.68" cy="852.04" r="1.3"/>
<circle cx="198.71" cy="887.47" r="1.3"/>
<circle cx="146.37" cy="890.71" r="1.3"/>
<circle cx="163.16" cy="866.02" r="1.3"/>
<circle cx="220.23" cy="833.56" r="1.3"/>
<circle cx="160.87" cy="918.41" r="1.3"/>
<circle cx="151.77" cy="907.79" r="1.3"/>
<circle cx="122.28" cy="894.48" r="1.3"/>
<circle cx="162.49" cy="857.25" r="1.3"/>
<circle cx="251.19" cy="864.25" r="1.3"/>
<circle cx="120.33" cy="899.29" r="1.3"/>
<circle cx="203.15" cy="898.17" r="1.3"/>
<circle cx="171.19" cy="884.67" r="1.3"/>
<circle cx="270.29" cy="822.15" r="1.3"/>
<circle cx="145.76" cy="838.75" r="1.3"/>
<circle cx="207" cy="851.63" r="1.3"/>
<circle cx="294.3" cy="869.9" r="1.3"/>
<circle cx="158.2" cy="876.01" r="1.3"/>
<circle cx="246.68" cy="879.14" r="1.3"/>
<circle cx="183.31" cy="912.22" r="1.3"/>
<circle cx="198.65" cy="899.26" r="1.3"/>
<circle cx="213.99" cy="885.11" r="1.3"/>
<circle cx="146.13" cy="902.58" r="1.3"/>
<circle cx="132.49" cy="887.99" r="1.3"/>
<circle cx="213.6" cy="848.75" r="1.3"/>
<circle cx="186.64" cy="862" r="1.3"/>
<circle cx="238.52" cy="863.73" r="1.3"/>
<circle cx="185.56" cy="839.03" r="1.3"/>
<circle cx="163.03" cy="859.69" r="1.3"/>
<circle cx="200.66" cy="926.56" r="1.3"/>
<circle cx="206.67" cy="833.84" r="1.3"/>
<circle cx="186.61" cy="870.56" r="1.3"/>
<circle cx="200.13" cy="832.6" r="1.3"/>
<circle cx="199.36" cy="876.86" r="1.3"/>
<circle cx="152.11" cy="908.49" r="1.3"/>
<circle cx="179.4" cy="913.42" r="1.3"/>
<circle cx="244.88" cy="852.59" r="1.3"/>
<circle cx="133.07" cy="844.85" r="1.3"/>
<circle cx="185.79" cy="852.89" r="1.3"/>
<circle cx="163.65" cy="862.68" r="1.3"/>
<circle cx="166.49" cy="836.65" r="1.3"/>
<circle cx="182.38" cy="865.07" r="1.3"/>
<circle cx="179.33" cy="922.18" r="1.3"/>
<circle cx="189.23" cy="882.83" r="1.3"/>
<circle cx="260.44" cy="889.69" r="1.3"/>
<circle cx="155.61" cy="911.2" r="1.3"/>
<circle cx="234.31" cy="909.19" r="1.3"/>
<circle cx="140.88" cy="874.8" r="1.3"/>
<circle cx="206.61" cy="871.07" r="1.3"/>
<circle cx="196.78" cy="863.76" r="1.3"/>
<circle cx="192.55" cy="859.05" r="1.3"/>
<circle cx="204.97" cy="880.49" r="1.3"/>
<circle cx="276.36" cy="828.86" r="1.3"/>
<circle cx="229.64" cy="889.26" r="1.3"/>
<circle cx="179.31" cy="867" r="1.3"/>
<circle cx="205.55" cy="836.18" r="1.3"/>
<circle cx="202" cy="891.06" r="1.3"/>
<circle cx="205.31" cy="827.41" r="1.3"/>
<circle cx="248.73" cy="869.98" r="1.3"/>
<circle cx="187.46" cy="912.81" r="1.3"/>
<circle cx="133.03" cy="862.98" r="1.3"/>
<circle cx="310.45" cy="899.84" r="1.3"/>
<circle cx="138.34" cy="918.81" r="1.3"/>
<circle cx="292.33" cy="907.07" r="1.3"/>
<circle cx="255.34" cy="895.82" r="1.3"/>
<circle cx="273.78" cy="882.67" r="1.3"/>
<circle cx="242.43" cy="913.41" r="1.3"/>
<circle cx="177.31" cy="891.17" r="1.3"/>
<circle cx="266.71" cy="896.55" r="1.3"/>
<circle cx="149.75" cy="875.99" r="1.3"/>
<circle cx="174.44" cy="851.66" r="1.3"/>
<circle cx="124.77" cy="871.41" r="1.3"/>
<circle cx="152.71" cy="907.13" r="1.3"/>
<circle cx="173.17" cy="845.62" r="1.3"/>
<circle cx="207.63" cy="841.22" r="1.3"/>
<circle cx="266.69" cy="819.08" r="1.3"/>
<circle cx="189.65" cy="861.48" r="1.3"/>
<circle cx="136.99" cy="897.87" r="1.3"/>
<circle cx="211.78" cy="844.46" r="1.3"/>
<circle cx="208.81" cy="834.69" r="1.3"/>
<circle cx="144.07" cy="864.92" r="1.3"/>
<circle cx="161.14" cy="813.22" r="1.3"/>
<circle cx="190.38" cy="907.58" r="1.3"/>
<circle cx="185.97" cy="909.27" r="1.3"/>
<circle cx="311.72" cy="887.31" r="1.3"/>
<circle cx="203.02" cy="849.65" r="1.3"/>
<circle cx="176.08" cy="892.4" r="1.3"/>
<circle cx="164.32" cy="873.07" r="1.3"/>
<circle cx="288.91" cy="887.03" r="1.3"/>
<circle cx="316.62" cy="889.7" r="1.3"/>
<circle cx="256.74" cy="839.88" r="1.3"/>
<circle cx="165.29" cy="830.6" r="1.3"/>
<circle cx="249.26" cy="926.33" r="1.3"/>
<circle cx="251.1" cy="913.39" r="1.3"/>
<circle cx="216.78" cy="882.85" r="1.3"/>
<circle cx="146.91" cy="863.83" r="1.3"/>
<circle cx="289.49" cy="901.46" r="1.3"/>
<circle cx="178.03" cy="916.67" r="1.3"/>
<circle cx="157.59" cy="883.47" r="1.3"/>
<circle cx="276.41" cy="897.82" r="1.3"/>
<circle cx="204.21" cy="832.91" r="1.3"/>
<circle cx="265.28" cy="867.14" r="1.3"/>
<circle cx="192.08" cy="892.01" r="1.3"/>
<circle cx="146.04" cy="890.1" r="1.3"/>
<circle cx="169.91" cy="914.1" r="1.3"/>
<circle cx="137.41" cy="887.48" r="1.3"/>
<circle cx="223.21" cy="917.84" r="1.3"/>
<circle cx="139.61" cy="918.4" r="1.3"/>
<circle cx="181.43" cy="829.79" r="1.3"/>
<circle cx="225.95" cy="913.31" r="1.3"/>
<circle cx="315.09" cy="919.86" r="1.3"/>
<circle cx="271.49" cy="862.51" r="1.3"/>
<circle cx="221.31" cy="859.29" r="1.3"/>
<circle cx="213.79" cy="847.31" r="1.3"/>
<circle cx="148.45" cy="899.65" r="1.3"/>
<circle cx="225.2" cy="835.36" r="1.3"/>
<circle cx="135.49" cy="871.74" r="1.3"/>
<circle cx="212.46" cy="920.02" r="1.3"/>
<circle cx="153.4" cy="913.57" r="1.3"/>
<circle cx="126.36" cy="890.89" r="1.3"/>
<circle cx="135.44" cy="834.88" r="1.3"/>
<circle cx="251.06" cy="873" r="1.3"/>
<circle cx="133.98" cy="891.31" r="1.3"/>
<circle cx="142.86" cy="892.35" r="1.3"/>
<circle cx="244.14" cy="844.74" r="1.3"/>
<circle cx="159.53" cy="855.97" r="1.3"/>
<circle cx="201.76" cy="883.75" r="1.3"/>
<circle cx="128.55" cy="857.73" r="1.3"/>
<circle cx="244.12" cy="888.68" r="1.3"/>
<circle cx="244.87" cy="862.87" r="1.3"/>
<circle cx="131.03" cy="922.57" r="1.3"/>
<circle cx="118.39" cy="879.32" r="1.3"/>
<circle cx="176.6" cy="925.28" r="1.3"/>
<circle cx="249.77" cy="862.44" r="1.3"/>
<circle cx="119.15" cy="852.36" r="1.3"/>
<circle cx="143.75" cy="877.04" r="1.3"/>
<circle cx="330.54" cy="795.11" r="1.3"/>
<circle cx="337.63" cy="815.46" r="1.3"/>
<circle cx="343.57" cy="822.09" r="1.3"/>
<circle cx="331.68" cy="825.98" r="1.3"/>
<circle cx="340.83" cy="833.07" r="1.3"/>
<circle cx="371.93" cy="830.78" r="1.3"/>
<circle cx="383.82" cy="830.78" r="1.3"/>
<circle cx="330.99" cy="858" r="1.3"/>
<circle cx="333.97" cy="869.2" r="1.3"/>
<circle cx="344.72" cy="874.92" r="1.3"/>
<circle cx="358.44" cy="877.43" r="1.3"/>
<circle cx="364.61" cy="865.31" r="1.3"/>
<circle cx="371.47" cy="851.59" r="1.3"/>
<circle cx="378.79" cy="851.37" r="1.3"/>
<circle cx="394.57" cy="853.88" r="1.3"/>
<circle cx="330.08" cy="890.24" r="1.3"/>
<circle cx="336.94" cy="887.27" r="1.3"/>
<circle cx="414.23" cy="883.84" r="1.3"/>
<circle cx="443.73" cy="892.76" r="1.3"/>
<circle cx="432.3" cy="899.62" r="1.3"/>
<circle cx="353.63" cy="901.9" r="1.3"/>
<circle cx="354.55" cy="903.05" r="1.3"/>
<circle cx="361.87" cy="898.02" r="1.3"/>
<circle cx="379.93" cy="899.62" r="1.3"/>
<circle cx="377.87" cy="907.85" r="1.3"/>
<circle cx="328.71" cy="908.99" r="1.3"/>
<circle cx="340.37" cy="917.45" r="1.3"/>
<circle cx="329.62" cy="926.83" r="1.3"/>
<circle cx="363.01" cy="932.77" r="1.3"/>
<circle cx="339" cy="951.3" r="1.3"/>
<circle cx="486.72" cy="814.32" r="1.3"/>
<circle cx="109.04" cy="754.1" r="1.3"/>
<circle cx="154.35" cy="766.61" r="1.3"/>
<circle cx="162.58" cy="771.52" r="1.3"/>
<circle cx="167.97" cy="772.63" r="1.3"/>
<circle cx="170.82" cy="775.8" r="1.3"/>
<circle cx="175.1" cy="779.13" r="1.3"/>
<circle cx="184.13" cy="769.62" r="1.3"/>
<circle cx="202.98" cy="781.03" r="1.3"/>
<circle cx="151.18" cy="782.14" r="1.3"/>
<circle cx="136.45" cy="784.99" r="1.3"/>
<circle cx="186.19" cy="784.2" r="1.3"/>
<circle cx="127.26" cy="788.95" r="1.3"/>
<circle cx="146.43" cy="789.58" r="1.3"/>
<circle cx="164.33" cy="790.22" r="1.3"/>
<circle cx="180.64" cy="791.49" r="1.3"/>
<circle cx="197.44" cy="791.8" r="1.3"/>
<circle cx="203.77" cy="791.49" r="1.3"/>
<circle cx="186.19" cy="793.54" r="1.3"/>
<circle cx="212.96" cy="794.34" r="1.3"/>
<circle cx="132.01" cy="795.92" r="1.3"/>
<circle cx="112.52" cy="797.35" r="1.3"/>
<circle cx="189.04" cy="796.71" r="1.3"/>
<circle cx="208.52" cy="796.4" r="1.3"/>
<circle cx="140.56" cy="798.77" r="1.3"/>
<circle cx="145" cy="801.31" r="1.3"/>
<circle cx="163.53" cy="799.88" r="1.3"/>
<circle cx="192.37" cy="799.88" r="1.3"/>
<circle cx="195.06" cy="799.88" r="1.3"/>
<circle cx="197.44" cy="799.09" r="1.3"/>
<circle cx="206.94" cy="799.72" r="1.3"/>
<circle cx="185.71" cy="801.62" r="1.3"/>
<circle cx="208.37" cy="803.84" r="1.3"/>
<circle cx="163.06" cy="805.43" r="1.3"/>
<circle cx="189.36" cy="805.58" r="1.3"/>
<circle cx="165.75" cy="808.59" r="1.3"/>
<circle cx="153.24" cy="809.54" r="1.3"/>
<circle cx="161.79" cy="810.34" r="1.3"/>
<circle cx="134.86" cy="811.29" r="1.3"/>
<circle cx="188.41" cy="810.18" r="1.3"/>
<circle cx="202.35" cy="810.81" r="1.3"/>
<circle cx="168.92" cy="812.4" r="1.3"/>
<circle cx="187.46" cy="812.55" r="1.3"/>
<circle cx="184.76" cy="813.82" r="1.3"/>
<circle cx="197.44" cy="813.35" r="1.3"/>
<circle cx="206.31" cy="813.19" r="1.3"/>
<circle cx="263.65" cy="750.93" r="1.3"/>
<circle cx="237.83" cy="756.79" r="1.3"/>
<circle cx="323.38" cy="776.28" r="1.3"/>
<circle cx="273.32" cy="781.82" r="1.3"/>
<circle cx="230.54" cy="784.2" r="1.3"/>
<circle cx="233.55" cy="786.42" r="1.3"/>
<circle cx="238.78" cy="795.76" r="1.3"/>
<circle cx="235.3" cy="802.89" r="1.3"/>
<circle cx="270.78" cy="802.26" r="1.3"/>
<circle cx="304.05" cy="804.16" r="1.3"/>
<circle cx="226.9" cy="809.23" r="1.3"/>
<circle cx="230.07" cy="808.44" r="1.3"/>
<circle cx="252.25" cy="808.12" r="1.3"/>
<circle cx="255.57" cy="810.81" r="1.3"/>
<circle cx="261.75" cy="805.74" r="1.3"/>
<circle cx="263.02" cy="807.33" r="1.3"/>
<circle cx="265.4" cy="806.85" r="1.3"/>
<circle cx="260.64" cy="809.23" r="1.3"/>
<circle cx="264.92" cy="809.23" r="1.3"/>
<circle cx="117.41" cy="937.04" r="1.3"/>
<circle cx="126.28" cy="935.46" r="1.3"/>
<circle cx="125.96" cy="939.89" r="1.3"/>
<circle cx="118.2" cy="943.38" r="1.3"/>
<circle cx="128.5" cy="943.38" r="1.3"/>
<circle cx="131.5" cy="946.23" r="1.3"/>
<circle cx="122.32" cy="948.92" r="1.3"/>
<circle cx="137.21" cy="940.05" r="1.3"/>
<circle cx="139.74" cy="945.59" r="1.3"/>
<circle cx="141.17" cy="947.5" r="1.3"/>
<circle cx="145.45" cy="944.8" r="1.3"/>
<circle cx="146.4" cy="941.32" r="1.3"/>
<circle cx="153.52" cy="937.04" r="1.3"/>
<circle cx="155.9" cy="934.82" r="1.3"/>
<circle cx="162.87" cy="935.46" r="1.3"/>
<circle cx="170.95" cy="936.41" r="1.3"/>
<circle cx="171.27" cy="935.77" r="1.3"/>
<circle cx="179.82" cy="938.31" r="1.3"/>
<circle cx="193.6" cy="937.2" r="1.3"/>
<circle cx="203.43" cy="936.88" r="1.3"/>
<circle cx="207.7" cy="937.36" r="1.3"/>
<circle cx="205.17" cy="940.52" r="1.3"/>
<circle cx="206.59" cy="944.8" r="1.3"/>
<circle cx="176.34" cy="943.69" r="1.3"/>
<circle cx="176.34" cy="946.07" r="1.3"/>
<circle cx="184.26" cy="943.38" r="1.3"/>
<circle cx="188.69" cy="948.13" r="1.3"/>
<circle cx="180.3" cy="949.55" r="1.3"/>
<circle cx="181.25" cy="952.25" r="1.3"/>
<circle cx="171.74" cy="955.1" r="1.3"/>
<circle cx="158.44" cy="953.51" r="1.3"/>
<circle cx="154.79" cy="954.62" r="1.3"/>
<circle cx="123.9" cy="962.54" r="1.3"/>
<circle cx="124.22" cy="965.71" r="1.3"/>
<circle cx="154.48" cy="965.55" r="1.3"/>
<circle cx="224.81" cy="949.4" r="1.3"/>
<circle cx="236.85" cy="944.96" r="1.3"/>
<circle cx="244.77" cy="944.33" r="1.3"/>
<circle cx="246.04" cy="937.2" r="1.3"/>
<circle cx="256.18" cy="944.96" r="1.3"/>
<circle cx="268.85" cy="942.9" r="1.3"/>
<circle cx="306.87" cy="939.42" r="1.3"/>
<circle cx="102.26" cy="828.4" r="1.3"/>
<circle cx="105.69" cy="829.77" r="1.3"/>
<circle cx="111.4" cy="829.09" r="1.3"/>
<circle cx="105.69" cy="832.51" r="1.3"/>
<circle cx="107.97" cy="844.4" r="1.3"/>
<circle cx="105.69" cy="853.31" r="1.3"/>
<circle cx="107.51" cy="862" r="1.3"/>
<circle cx="107.97" cy="862.69" r="1.3"/>
<circle cx="105.46" cy="866.11" r="1.3"/>
<circle cx="113.46" cy="863.37" r="1.3"/>
<circle cx="97.69" cy="869.31" r="1.3"/>
<circle cx="100.89" cy="875.49" r="1.3"/>
<circle cx="111.17" cy="872.74" r="1.3"/>
<circle cx="105.23" cy="881.89" r="1.3"/>
<circle cx="107.06" cy="882.34" r="1.3"/>
<circle cx="106.14" cy="886" r="1.3"/>
<circle cx="108.43" cy="885.31" r="1.3"/>
<circle cx="96.77" cy="891.03" r="1.3"/>
<circle cx="113.91" cy="887.14" r="1.3"/>
<circle cx="111.86" cy="892.17" r="1.3"/>
<circle cx="108.43" cy="895.83" r="1.3"/>
<circle cx="113.69" cy="899.03" r="1.3"/>
<circle cx="106.37" cy="901.31" r="1.3"/>
<circle cx="106.83" cy="913.2" r="1.3"/>
<circle cx="110.26" cy="912.51" r="1.3"/>
<circle cx="102.49" cy="919.37" r="1.3"/>
<circle cx="95.4" cy="920.29" r="1.3"/>
<circle cx="98.83" cy="920.97" r="1.3"/>
<circle cx="96.77" cy="932.63" r="1.3"/>
<circle cx="113.46" cy="939.94" r="1.3"/>
<circle cx="99.06" cy="953.43" r="1.3"/>
</g>
<path d="M65.4 842.6H489.5" stroke="#000" stroke-width="1.55" stroke-dasharray="5 1.8" fill="none"/>
<path d="M65.4 895.56H489.5" stroke="#000" stroke-width="1.55" stroke-dasharray="5 1.8" fill="none"/>
<path d="M64.6 704.97V1004.2" stroke="#000" stroke-width="1.65" fill="none"/>
<path d="M59.8 1000H504.4" stroke="#000" stroke-width="1.65" fill="none"/>
<path d="M59.8 926.45H64.6M59.8 852.9H64.6M59.8 779.35H64.6M59.8 705.8H64.6M61.6 985.29H64.6M61.6 970.58H64.6M61.6 955.87H64.6M61.6 941.16H64.6M61.6 911.74H64.6M61.6 897.03H64.6M61.6 882.32H64.6M61.6 867.61H64.6M61.6 838.19H64.6M61.6 823.48H64.6M61.6 808.77H64.6M61.6 794.06H64.6M61.6 764.64H64.6M61.6 749.93H64.6M61.6 735.22H64.6M61.6 720.51H64.6M108.58 1000V1004.2M152.56 1000V1004.2M196.54 1000V1004.2M240.52 1000V1004.2M284.5 1000V1004.2M328.48 1000V1004.2M372.46 1000V1004.2M416.44 1000V1004.2M460.42 1000V1004.2M504.4 1000V1004.2" stroke="#000" stroke-width="1.3" fill="none"/>
<text x="58.9" y="1005.4" text-anchor="end" class="t">0</text>
<text x="58.9" y="931.85" text-anchor="end" class="t">50</text>
<text x="58.9" y="858.3" text-anchor="end" class="t">100</text>
<text x="58.9" y="784.75" text-anchor="end" class="t">150</text>
<text x="58.9" y="711.2" text-anchor="end" class="t">200</text>
<text x="64.6" y="1018.5" text-anchor="middle" class="t">0</text>
<text x="108.58" y="1018.5" text-anchor="middle" class="t">100</text>
<text x="152.56" y="1018.5" text-anchor="middle" class="t">200</text>
<text x="196.54" y="1018.5" text-anchor="middle" class="t">300</text>
<text x="240.52" y="1018.5" text-anchor="middle" class="t">400</text>
<text x="284.5" y="1018.5" text-anchor="middle" class="t">500</text>
<text x="328.48" y="1018.5" text-anchor="middle" class="t">600</text>
<text x="372.46" y="1018.5" text-anchor="middle" class="t">700</text>
<text x="416.44" y="1018.5" text-anchor="middle" class="t">800</text>
<text x="460.42" y="1018.5" text-anchor="middle" class="t">900</text>
<text x="504.4" y="1018.5" text-anchor="middle" class="t">1000</text>
<rect x="580.93" y="295.41" width="23.05" height="4.39" fill="#0d0d0d" stroke="#000" stroke-width="1.3"/>
<rect x="603.98" y="267.64" width="23.05" height="32.16" fill="#fff" stroke="#000" stroke-width="1.3"/>
<rect x="603.98" y="292.49" width="23.05" height="7.31" fill="#0d0d0d" stroke="#000" stroke-width="1.3"/>
<rect x="627.03" y="159.45" width="23.05" height="140.35" fill="#fff" stroke="#000" stroke-width="1.3"/>
<rect x="627.03" y="223.78" width="23.05" height="76.02" fill="#0d0d0d" stroke="#000" stroke-width="1.3"/>
<rect x="650.08" y="96.58" width="23.05" height="203.22" fill="#fff" stroke="#000" stroke-width="1.3"/>
<rect x="650.08" y="197.46" width="23.05" height="102.34" fill="#0d0d0d" stroke="#000" stroke-width="1.3"/>
<rect x="673.13" y="96.58" width="23.05" height="203.22" fill="#fff" stroke="#000" stroke-width="1.3"/>
<rect x="673.13" y="197.46" width="23.05" height="102.34" fill="#0d0d0d" stroke="#000" stroke-width="1.3"/>
<rect x="696.18" y="143.37" width="23.05" height="156.43" fill="#fff" stroke="#000" stroke-width="1.3"/>
<rect x="696.18" y="228.16" width="23.05" height="71.64" fill="#0d0d0d" stroke="#000" stroke-width="1.3"/>
<rect x="719.23" y="217.93" width="23.05" height="81.87" fill="#fff" stroke="#000" stroke-width="1.3"/>
<rect x="719.23" y="244.24" width="23.05" height="55.56" fill="#0d0d0d" stroke="#000" stroke-width="1.3"/>
<rect x="742.28" y="241.32" width="23.05" height="58.48" fill="#fff" stroke="#000" stroke-width="1.3"/>
<rect x="742.28" y="272.02" width="23.05" height="27.78" fill="#0d0d0d" stroke="#000" stroke-width="1.3"/>
<rect x="765.33" y="257.4" width="23.05" height="42.4" fill="#fff" stroke="#000" stroke-width="1.3"/>
<rect x="765.33" y="280.79" width="23.05" height="19.01" fill="#0d0d0d" stroke="#000" stroke-width="1.3"/>
<rect x="788.38" y="279.33" width="23.05" height="20.47" fill="#fff" stroke="#000" stroke-width="1.3"/>
<rect x="788.38" y="291.03" width="23.05" height="8.77" fill="#0d0d0d" stroke="#000" stroke-width="1.3"/>
<rect x="811.43" y="289.57" width="23.05" height="10.23" fill="#fff" stroke="#000" stroke-width="1.3"/>
<rect x="811.43" y="296.88" width="23.05" height="2.92" fill="#0d0d0d" stroke="#000" stroke-width="1.3"/>
<rect x="834.48" y="298.34" width="23.05" height="1.46" fill="#0d0d0d" stroke="#000" stroke-width="1.3"/>
<rect x="857.53" y="295.41" width="23.05" height="4.39" fill="#fff" stroke="#000" stroke-width="1.3"/>
<rect x="880.58" y="296.88" width="23.05" height="2.92" fill="#fff" stroke="#000" stroke-width="1.3"/>
<rect x="926.68" y="296.88" width="23.05" height="2.92" fill="#fff" stroke="#000" stroke-width="1.3"/>
<rect x="949.73" y="298.34" width="23.05" height="1.46" fill="#0d0d0d" stroke="#000" stroke-width="1.3"/>
<path d="M569.7 6.58V300.62" stroke="#000" stroke-width="1.65" fill="none"/>
<path d="M564.9 299.8H1008" stroke="#000" stroke-width="1.65" fill="none"/>
<path d="M564.9 226.7H569.7M564.9 153.6H569.7M564.9 80.5H569.7M564.9 7.4H569.7M566.7 285.18H569.7M566.7 270.56H569.7M566.7 255.94H569.7M566.7 241.32H569.7M566.7 212.08H569.7M566.7 197.46H569.7M566.7 182.84H569.7M566.7 168.22H569.7M566.7 138.98H569.7M566.7 124.36H569.7M566.7 109.74H569.7M566.7 95.12H569.7M566.7 65.88H569.7M566.7 51.26H569.7M566.7 36.64H569.7M566.7 22.02H569.7M592.45 299.8V304M638.55 299.8V304M684.65 299.8V304M730.75 299.8V304M776.85 299.8V304M822.95 299.8V304M869.05 299.8V304M915.15 299.8V304M961.25 299.8V304" stroke="#000" stroke-width="1.3" fill="none"/>
<text x="564" y="305.2" text-anchor="end" class="t">0</text>
<text x="564" y="232.1" text-anchor="end" class="t">50</text>
<text x="564" y="159" text-anchor="end" class="t">100</text>
<text x="564" y="85.9" text-anchor="end" class="t">150</text>
<text x="564" y="12.8" text-anchor="end" class="t">200</text>
<rect x="800.3" y="76.6" width="15.9" height="11.2" fill="#0d0d0d" stroke="#000" stroke-width="1"/>
<rect x="800.3" y="93.8" width="15.9" height="11.2" fill="#fff" stroke="#000" stroke-width="1.2"/>
<text x="824.6" y="88.2" class="t">GLS Strong</text>
<text x="824.6" y="104.9" class="t">GLS Moderate</text>
<rect x="608.48" y="631.75" width="25.86" height="20.54" fill="#fff" stroke="#000" stroke-width="1.3"/>
<rect x="608.48" y="646.43" width="25.86" height="5.87" fill="#0d0d0d" stroke="#000" stroke-width="1.3"/>
<rect x="634.34" y="577.46" width="25.86" height="74.84" fill="#fff" stroke="#000" stroke-width="1.3"/>
<rect x="634.34" y="633.22" width="25.86" height="19.08" fill="#0d0d0d" stroke="#000" stroke-width="1.3"/>
<rect x="660.19" y="558.38" width="25.85" height="93.92" fill="#fff" stroke="#000" stroke-width="1.3"/>
<rect x="660.19" y="599.47" width="25.85" height="52.83" fill="#0d0d0d" stroke="#000" stroke-width="1.3"/>
<rect x="686.05" y="562.78" width="25.86" height="89.52" fill="#fff" stroke="#000" stroke-width="1.3"/>
<rect x="686.05" y="584.79" width="25.86" height="67.5" fill="#0d0d0d" stroke="#000" stroke-width="1.3"/>
<rect x="711.9" y="567.18" width="25.86" height="85.12" fill="#fff" stroke="#000" stroke-width="1.3"/>
<rect x="711.9" y="621.48" width="25.86" height="30.82" fill="#0d0d0d" stroke="#000" stroke-width="1.3"/>
<rect x="737.76" y="608.27" width="25.86" height="44.02" fill="#fff" stroke="#000" stroke-width="1.3"/>
<rect x="737.76" y="636.16" width="25.86" height="16.14" fill="#0d0d0d" stroke="#000" stroke-width="1.3"/>
<rect x="763.61" y="624.42" width="25.86" height="27.88" fill="#fff" stroke="#000" stroke-width="1.3"/>
<rect x="763.61" y="637.62" width="25.86" height="14.67" fill="#0d0d0d" stroke="#000" stroke-width="1.3"/>
<rect x="789.47" y="642.03" width="25.85" height="10.27" fill="#0d0d0d" stroke="#000" stroke-width="1.3"/>
<rect x="815.32" y="646.43" width="25.86" height="5.87" fill="#fff" stroke="#000" stroke-width="1.3"/>
<rect x="815.32" y="649.37" width="25.86" height="2.93" fill="#0d0d0d" stroke="#000" stroke-width="1.3"/>
<rect x="841.18" y="647.9" width="25.86" height="4.4" fill="#0d0d0d" stroke="#000" stroke-width="1.3"/>
<rect x="892.89" y="650.83" width="25.86" height="1.47" fill="#0d0d0d" stroke="#000" stroke-width="1.3"/>
<rect x="944.6" y="650.83" width="25.86" height="1.47" fill="#0d0d0d" stroke="#000" stroke-width="1.3"/>
<path d="M569.7 357.98V653.12" stroke="#000" stroke-width="1.65" fill="none"/>
<path d="M564.9 652.3H1009" stroke="#000" stroke-width="1.65" fill="none"/>
<path d="M564.9 578.92H569.7M564.9 505.55H569.7M564.9 432.17H569.7M564.9 358.8H569.7M566.7 637.62H569.7M566.7 622.95H569.7M566.7 608.27H569.7M566.7 593.6H569.7M566.7 564.25H569.7M566.7 549.57H569.7M566.7 534.9H569.7M566.7 520.22H569.7M566.7 490.88H569.7M566.7 476.2H569.7M566.7 461.52H569.7M566.7 446.85H569.7M566.7 417.5H569.7M566.7 402.82H569.7M566.7 388.15H569.7M566.7 373.47H569.7M595.56 652.3V656.5M647.27 652.3V656.5M698.98 652.3V656.5M750.69 652.3V656.5M802.39 652.3V656.5M854.11 652.3V656.5M905.82 652.3V656.5M957.53 652.3V656.5" stroke="#000" stroke-width="1.3" fill="none"/>
<text x="564" y="657.7" text-anchor="end" class="t">0</text>
<text x="564" y="584.32" text-anchor="end" class="t">50</text>
<text x="564" y="510.95" text-anchor="end" class="t">100</text>
<text x="564" y="437.57" text-anchor="end" class="t">150</text>
<text x="564" y="364.2" text-anchor="end" class="t">200</text>
<rect x="801.1" y="429.4" width="15.9" height="11.2" fill="#0d0d0d" stroke="#000" stroke-width="1"/>
<rect x="801.1" y="446.6" width="15.9" height="11.2" fill="#fff" stroke="#000" stroke-width="1.2"/>
<text x="826" y="441" class="t">VGLUT1 Strong</text>
<text x="826" y="457.7" class="t">VGLUT1 Moderate</text>
<rect x="579.71" y="999.03" width="20.01" height="1.47" fill="#0d0d0d" stroke="#000" stroke-width="1.3"/>
<rect x="599.72" y="969.62" width="20.01" height="30.88" fill="#fff" stroke="#000" stroke-width="1.3"/>
<rect x="599.72" y="985.79" width="20.01" height="14.71" fill="#0d0d0d" stroke="#000" stroke-width="1.3"/>
<rect x="619.74" y="913.74" width="20.01" height="86.76" fill="#fff" stroke="#000" stroke-width="1.3"/>
<rect x="619.74" y="969.62" width="20.01" height="30.88" fill="#0d0d0d" stroke="#000" stroke-width="1.3"/>
<rect x="639.75" y="807.86" width="20.01" height="192.64" fill="#fff" stroke="#000" stroke-width="1.3"/>
<rect x="639.75" y="934.33" width="20.01" height="66.17" fill="#0d0d0d" stroke="#000" stroke-width="1.3"/>
<rect x="659.77" y="800.51" width="20.01" height="199.99" fill="#fff" stroke="#000" stroke-width="1.3"/>
<rect x="659.77" y="894.62" width="20.01" height="105.88" fill="#0d0d0d" stroke="#000" stroke-width="1.3"/>
<rect x="679.78" y="829.92" width="20.01" height="170.58" fill="#fff" stroke="#000" stroke-width="1.3"/>
<rect x="679.78" y="894.62" width="20.01" height="105.88" fill="#0d0d0d" stroke="#000" stroke-width="1.3"/>
<rect x="699.8" y="868.15" width="20.01" height="132.35" fill="#fff" stroke="#000" stroke-width="1.3"/>
<rect x="699.8" y="938.74" width="20.01" height="61.76" fill="#0d0d0d" stroke="#000" stroke-width="1.3"/>
<rect x="719.81" y="916.68" width="20.02" height="83.82" fill="#fff" stroke="#000" stroke-width="1.3"/>
<rect x="719.81" y="946.09" width="20.02" height="54.41" fill="#0d0d0d" stroke="#000" stroke-width="1.3"/>
<rect x="739.83" y="940.21" width="20.01" height="60.29" fill="#fff" stroke="#000" stroke-width="1.3"/>
<rect x="739.83" y="965.21" width="20.01" height="35.29" fill="#0d0d0d" stroke="#000" stroke-width="1.3"/>
<rect x="759.84" y="959.33" width="20.02" height="41.17" fill="#fff" stroke="#000" stroke-width="1.3"/>
<rect x="759.84" y="981.38" width="20.02" height="19.12" fill="#0d0d0d" stroke="#000" stroke-width="1.3"/>
<rect x="779.86" y="975.5" width="20.01" height="25" fill="#fff" stroke="#000" stroke-width="1.3"/>
<rect x="779.86" y="996.09" width="20.01" height="4.41" fill="#0d0d0d" stroke="#000" stroke-width="1.3"/>
<rect x="799.87" y="987.27" width="20.01" height="13.23" fill="#0d0d0d" stroke="#000" stroke-width="1.3"/>
<rect x="819.89" y="997.56" width="20.01" height="2.94" fill="#0d0d0d" stroke="#000" stroke-width="1.3"/>
<rect x="839.9" y="996.09" width="20.01" height="4.41" fill="#0d0d0d" stroke="#000" stroke-width="1.3"/>
<rect x="859.92" y="999.03" width="20.02" height="1.47" fill="#0d0d0d" stroke="#000" stroke-width="1.3"/>
<rect x="879.93" y="999.03" width="20.01" height="1.47" fill="#0d0d0d" stroke="#000" stroke-width="1.3"/>
<rect x="899.95" y="999.03" width="20.02" height="1.47" fill="#0d0d0d" stroke="#000" stroke-width="1.3"/>
<rect x="939.98" y="999.03" width="20.02" height="1.47" fill="#0d0d0d" stroke="#000" stroke-width="1.3"/>
<rect x="959.99" y="999.03" width="20.01" height="1.47" fill="#0d0d0d" stroke="#000" stroke-width="1.3"/>
<path d="M569.7 705.57V1001.33" stroke="#000" stroke-width="1.65" fill="none"/>
<path d="M564.9 1000.5H1010" stroke="#000" stroke-width="1.65" fill="none"/>
<path d="M564.9 926.98H569.7M564.9 853.45H569.7M564.9 779.92H569.7M564.9 706.4H569.7M566.7 985.79H569.7M566.7 971.09H569.7M566.7 956.38H569.7M566.7 941.68H569.7M566.7 912.27H569.7M566.7 897.57H569.7M566.7 882.86H569.7M566.7 868.15H569.7M566.7 838.75H569.7M566.7 824.04H569.7M566.7 809.34H569.7M566.7 794.63H569.7M566.7 765.22H569.7M566.7 750.51H569.7M566.7 735.81H569.7M566.7 721.11H569.7M589.72 1000.5V1004.7M629.75 1000.5V1004.7M669.78 1000.5V1004.7M709.81 1000.5V1004.7M749.84 1000.5V1004.7M789.87 1000.5V1004.7M829.89 1000.5V1004.7M869.92 1000.5V1004.7M909.96 1000.5V1004.7M949.99 1000.5V1004.7M990.02 1000.5V1004.7" stroke="#000" stroke-width="1.3" fill="none"/>
<text x="564" y="1005.9" text-anchor="end" class="t">0</text>
<text x="564" y="932.38" text-anchor="end" class="t">50</text>
<text x="564" y="858.85" text-anchor="end" class="t">100</text>
<text x="564" y="785.32" text-anchor="end" class="t">150</text>
<text x="564" y="711.8" text-anchor="end" class="t">200</text>
<rect x="801.6" y="776.5" width="15.9" height="11.2" fill="#0d0d0d" stroke="#000" stroke-width="1"/>
<rect x="801.6" y="793.7" width="15.9" height="11.2" fill="#fff" stroke="#000" stroke-width="1.2"/>
<text x="826.6" y="788.1" class="t">VGLUT2 Strong</text>
<text x="826.6" y="804.8" class="t">VGLUT2 Moderate</text>
<text x="589.72" y="1018.5" text-anchor="middle" class="t">50</text>
<text x="629.75" y="1018.5" text-anchor="middle" class="t">150</text>
<text x="669.78" y="1018.5" text-anchor="middle" class="t">250</text>
<text x="709.81" y="1018.5" text-anchor="middle" class="t">350</text>
<text x="749.84" y="1018.5" text-anchor="middle" class="t">450</text>
<text x="789.87" y="1018.5" text-anchor="middle" class="t">550</text>
<text x="829.89" y="1018.5" text-anchor="middle" class="t">650</text>
<text x="869.92" y="1018.5" text-anchor="middle" class="t">750</text>
<text x="909.96" y="1018.5" text-anchor="middle" class="t">850</text>
<text x="949.99" y="1018.5" text-anchor="middle" class="t">950</text>
<text x="990.02" y="1018.5" text-anchor="middle" class="t">1050</text>
<text x="411.5" y="159.3" class="t">Strong</text>
<text x="411.5" y="209.8" class="t">Moderate</text>
<text x="411.5" y="267.5" class="t">Low</text>
<text x="407.3" y="466.7" class="t">Strong</text>
<text x="407.3" y="528" class="t">Moderate</text>
<text x="407.3" y="588" class="t">Low</text>
<text x="407.3" y="814.5" class="t">Strong</text>
<text x="407.3" y="874.5" class="t">Moderate</text>
<text x="407.3" y="935" class="t">Low</text>
<text x="1.0" y="15.0" class="p">A</text>
<text x="514.7" y="13.1" class="p">B</text>
<text x="-1.0" y="366.8" class="p">C</text>
<text x="512.4" y="363.9" class="p">D</text>
<text x="1.2" y="713" class="p">E</text>
<text x="510.4" y="712.8" class="p">F</text>
<text transform="translate(29 151.4) rotate(-90)" text-anchor="middle" class="a">GLS MGI</text>
<text transform="translate(27.3 503.3) rotate(-90)" text-anchor="middle" class="a">VGLUT1 MGI</text>
<text transform="translate(27.3 850.4) rotate(-90)" text-anchor="middle" class="a">VGLUT2 MGI</text>
<text transform="translate(533 858.2) rotate(-90)" text-anchor="middle" class="a">Number of Cells</text>
<text x="284.5" y="1045.6" text-anchor="middle" class="a">Cell Area (um<tspan dy="-5.2" font-size="12.3">2</tspan><tspan dy="5.2">)</tspan></text>
<text x="730.3" y="1045.6" text-anchor="middle" class="a">Cell Area (um<tspan dy="-5.2" font-size="12.3">2</tspan><tspan dy="5.2">)</tspan></text>
</svg>
</body></html>
